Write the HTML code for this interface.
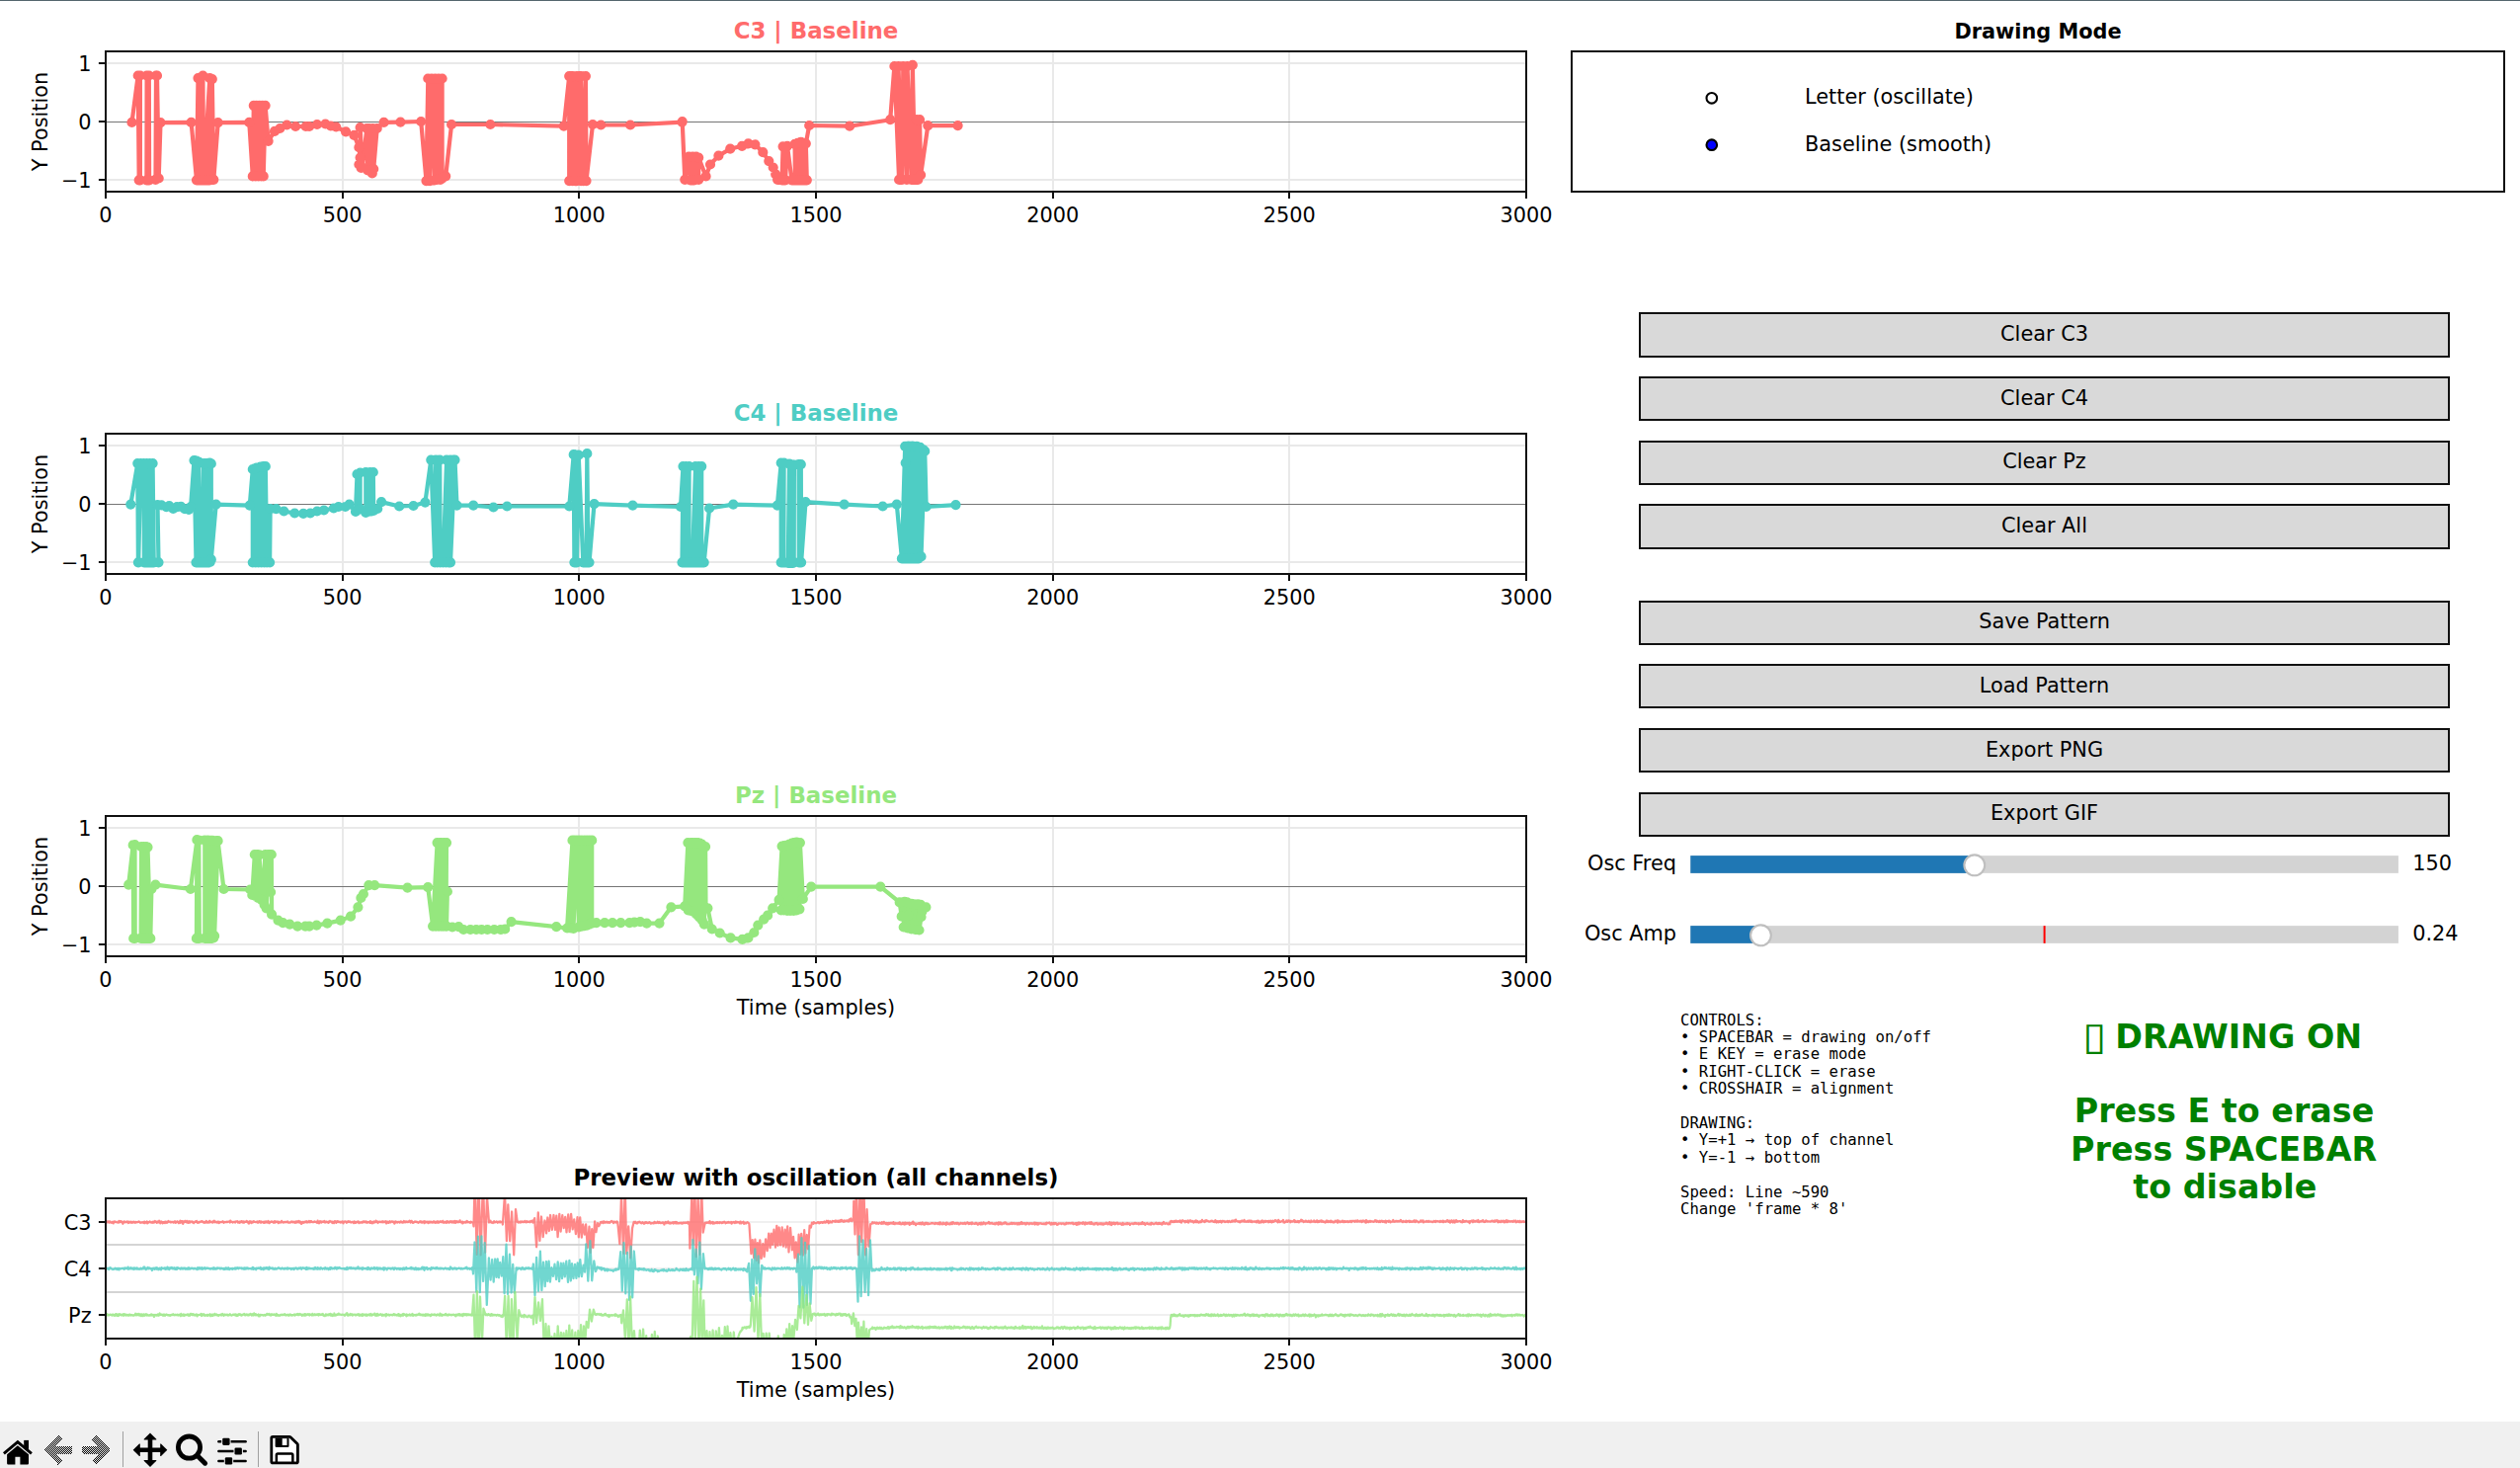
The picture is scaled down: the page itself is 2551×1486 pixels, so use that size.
<!DOCTYPE html>
<html lang="en"><head><meta charset="utf-8"><title>EEG Pattern Drawing Tool</title>
<style>html,body{margin:0;padding:0;background:#fff;overflow:hidden}body{width:2551px;height:1486px;position:relative}</style>
</head><body>
<svg width="2551" height="1486" viewBox="0 0 2551 1486" style="position:absolute;left:0;top:0">
<rect x="0" y="0" width="2551" height="1486" fill="#fff"/>
<rect x="0" y="0" width="2551" height="1" fill="#54666e"/>
<defs>
<clipPath id="cp0"><rect x="107" y="52" width="1438" height="142"/></clipPath>
<clipPath id="cp1"><rect x="107" y="439" width="1438" height="142"/></clipPath>
<clipPath id="cp2"><rect x="107" y="826" width="1438" height="142"/></clipPath>
<clipPath id="cp3"><rect x="107" y="1213" width="1438" height="142"/></clipPath>
</defs>
<line x1="347" y1="52" x2="347" y2="194" stroke="#e9e9e9" stroke-width="2"/>
<line x1="586" y1="52" x2="586" y2="194" stroke="#e9e9e9" stroke-width="2"/>
<line x1="826" y1="52" x2="826" y2="194" stroke="#e9e9e9" stroke-width="2"/>
<line x1="1066" y1="52" x2="1066" y2="194" stroke="#e9e9e9" stroke-width="2"/>
<line x1="1305" y1="52" x2="1305" y2="194" stroke="#e9e9e9" stroke-width="2"/>
<line x1="107" y1="64" x2="1545" y2="64" stroke="#e9e9e9" stroke-width="2"/>
<line x1="107" y1="182" x2="1545" y2="182" stroke="#e9e9e9" stroke-width="2"/>
<line x1="107" y1="123.5" x2="1545" y2="123.5" stroke="#757575" stroke-width="1"/>
<g clip-path="url(#cp0)">
<polyline points="133.5,123.9 139.7,76.5 140.7,182.3 141.9,76.5 141.9,182.3 148.4,182.5 148.6,76.5 150.8,76.5 151.1,182.5 157.5,181.8 158.0,76.5 159.0,76.5 160.7,180.5 162.5,124.1 193.6,123.9 199.0,182.3 200.5,79.1 202.0,182.3 202.9,78.6 203.9,182.3 205.4,76.7 206.1,182.3 212.3,79.1 208.9,182.3 213.3,79.6 212.3,182.3 214.8,80.1 216.3,181.8 220.7,124.1 252.3,123.9 255.8,178.4 256.8,106.8 258.8,178.4 259.7,106.8 261.7,178.4 262.7,106.8 264.7,178.4 265.7,106.8 266.7,178.4 268.6,106.8 271.6,142.8 278.0,132.9 283.4,130.0 290.4,126.5 299.2,128.0 309.6,128.0 313.1,128.0 321.0,126.0 329.4,125.5 334.8,127.5 340.2,128.5 350.1,133.4 358.5,136.9 363.4,149.2 364.6,159.6 363.4,166.5 365.6,170.0 364.6,129.0 366.9,169.5 371.3,130.0 372.3,172.4 373.8,130.0 376.8,175.4 377.3,130.0 378.2,171.0 381.7,130.0 388.6,123.9 405.4,123.6 426.2,123.0 431.5,183.1 433.3,79.5 435.1,183.1 436.9,79.5 439.9,182.5 440.5,79.5 442.3,181.9 444.0,79.5 445.8,181.9 447.6,79.5 447.6,180.7 451.2,178.3 457.1,126.0 496.4,126.0 570.8,127.7 576.2,77.1 576.2,183.1 578.0,77.1 579.8,183.1 579.8,77.1 582.1,183.1 583.9,77.1 583.9,183.1 586.3,77.1 588.1,183.1 588.1,77.1 590.5,183.1 592.9,77.1 593.5,183.1 600.0,126.0 608.3,126.5 638.1,126.5 690.5,123.6 690.7,123.1 693.3,181.8 697.3,158.6 698.8,182.3 701.2,158.6 702.7,182.3 704.7,158.6 707.2,181.8 707.2,159.6 714.6,178.4 719.0,166.5 727.4,157.6 739.2,150.7 751.1,147.8 757.5,145.3 764.4,146.3 772.3,154.2 778.3,163.1 782.7,169.5 785.2,176.4 787.1,181.8 791.6,182.3 792.6,148.3 795.0,182.3 797.0,147.8 801.5,182.3 804.9,182.3 804.6,145.8 807.4,182.3 807.4,144.8 810.3,182.3 810.8,143.8 813.3,182.3 814.8,144.8 816.8,182.3 815.8,145.3 819.2,127.0 860.1,127.7 901.2,121.2 905.4,67.0 910.1,181.9 909.5,67.0 913.1,181.9 914.3,67.0 917.9,181.9 918.5,67.0 922.6,181.9 923.8,65.8 926.2,181.9 928.0,121.2 929.2,181.9 931.0,121.2 932.1,177.1 939.3,127.1 969.6,127.1" fill="none" stroke="#FF6B6B" stroke-width="4.2" stroke-linejoin="round" stroke-linecap="butt"/>
<path d="M133.5,123.9h0 M139.7,76.5h0 M140.7,182.3h0 M141.9,76.5h0 M141.9,182.3h0 M148.4,182.5h0 M148.6,76.5h0 M150.8,76.5h0 M151.1,182.5h0 M157.5,181.8h0 M158.0,76.5h0 M159.0,76.5h0 M160.7,180.5h0 M162.5,124.1h0 M193.6,123.9h0 M199.0,182.3h0 M200.5,79.1h0 M202.0,182.3h0 M202.9,78.6h0 M203.9,182.3h0 M205.4,76.7h0 M206.1,182.3h0 M212.3,79.1h0 M208.9,182.3h0 M213.3,79.6h0 M212.3,182.3h0 M214.8,80.1h0 M216.3,181.8h0 M220.7,124.1h0 M252.3,123.9h0 M255.8,178.4h0 M256.8,106.8h0 M258.8,178.4h0 M259.7,106.8h0 M261.7,178.4h0 M262.7,106.8h0 M264.7,178.4h0 M265.7,106.8h0 M266.7,178.4h0 M268.6,106.8h0 M271.6,142.8h0 M278.0,132.9h0 M283.4,130.0h0 M290.4,126.5h0 M299.2,128.0h0 M309.6,128.0h0 M313.1,128.0h0 M321.0,126.0h0 M329.4,125.5h0 M334.8,127.5h0 M340.2,128.5h0 M350.1,133.4h0 M358.5,136.9h0 M363.4,149.2h0 M364.6,159.6h0 M363.4,166.5h0 M365.6,170.0h0 M364.6,129.0h0 M366.9,169.5h0 M371.3,130.0h0 M372.3,172.4h0 M373.8,130.0h0 M376.8,175.4h0 M377.3,130.0h0 M378.2,171.0h0 M381.7,130.0h0 M388.6,123.9h0 M405.4,123.6h0 M426.2,123.0h0 M431.5,183.1h0 M433.3,79.5h0 M435.1,183.1h0 M436.9,79.5h0 M439.9,182.5h0 M440.5,79.5h0 M442.3,181.9h0 M444.0,79.5h0 M445.8,181.9h0 M447.6,79.5h0 M447.6,180.7h0 M451.2,178.3h0 M457.1,126.0h0 M496.4,126.0h0 M570.8,127.7h0 M576.2,77.1h0 M576.2,183.1h0 M578.0,77.1h0 M579.8,183.1h0 M579.8,77.1h0 M582.1,183.1h0 M583.9,77.1h0 M583.9,183.1h0 M586.3,77.1h0 M588.1,183.1h0 M588.1,77.1h0 M590.5,183.1h0 M592.9,77.1h0 M593.5,183.1h0 M600.0,126.0h0 M608.3,126.5h0 M638.1,126.5h0 M690.5,123.6h0 M690.7,123.1h0 M693.3,181.8h0 M697.3,158.6h0 M698.8,182.3h0 M701.2,158.6h0 M702.7,182.3h0 M704.7,158.6h0 M707.2,181.8h0 M707.2,159.6h0 M714.6,178.4h0 M719.0,166.5h0 M727.4,157.6h0 M739.2,150.7h0 M751.1,147.8h0 M757.5,145.3h0 M764.4,146.3h0 M772.3,154.2h0 M778.3,163.1h0 M782.7,169.5h0 M785.2,176.4h0 M787.1,181.8h0 M791.6,182.3h0 M792.6,148.3h0 M795.0,182.3h0 M797.0,147.8h0 M801.5,182.3h0 M804.9,182.3h0 M804.6,145.8h0 M807.4,182.3h0 M807.4,144.8h0 M810.3,182.3h0 M810.8,143.8h0 M813.3,182.3h0 M814.8,144.8h0 M816.8,182.3h0 M815.8,145.3h0 M819.2,127.0h0 M860.1,127.7h0 M901.2,121.2h0 M905.4,67.0h0 M910.1,181.9h0 M909.5,67.0h0 M913.1,181.9h0 M914.3,67.0h0 M917.9,181.9h0 M918.5,67.0h0 M922.6,181.9h0 M923.8,65.8h0 M926.2,181.9h0 M928.0,121.2h0 M929.2,181.9h0 M931.0,121.2h0 M932.1,177.1h0 M939.3,127.1h0 M969.6,127.1h0" stroke="#FF6B6B" stroke-width="10.2" stroke-linecap="round" fill="none"/>
</g>
<rect x="107" y="52" width="1438" height="142" fill="none" stroke="#111" stroke-width="2"/>
<line x1="107" y1="194" x2="107" y2="201.1" stroke="#111" stroke-width="2"/>
<text x="107.00" y="224.80" font-family="'DejaVu Sans', 'Liberation Sans', sans-serif" font-size="20.83" text-anchor="middle" font-weight="normal" fill="#000">0</text>
<line x1="347" y1="194" x2="347" y2="201.1" stroke="#111" stroke-width="2"/>
<text x="346.67" y="224.80" font-family="'DejaVu Sans', 'Liberation Sans', sans-serif" font-size="20.83" text-anchor="middle" font-weight="normal" fill="#000">500</text>
<line x1="586" y1="194" x2="586" y2="201.1" stroke="#111" stroke-width="2"/>
<text x="586.33" y="224.80" font-family="'DejaVu Sans', 'Liberation Sans', sans-serif" font-size="20.83" text-anchor="middle" font-weight="normal" fill="#000">1000</text>
<line x1="826" y1="194" x2="826" y2="201.1" stroke="#111" stroke-width="2"/>
<text x="826.00" y="224.80" font-family="'DejaVu Sans', 'Liberation Sans', sans-serif" font-size="20.83" text-anchor="middle" font-weight="normal" fill="#000">1500</text>
<line x1="1066" y1="194" x2="1066" y2="201.1" stroke="#111" stroke-width="2"/>
<text x="1065.67" y="224.80" font-family="'DejaVu Sans', 'Liberation Sans', sans-serif" font-size="20.83" text-anchor="middle" font-weight="normal" fill="#000">2000</text>
<line x1="1305" y1="194" x2="1305" y2="201.1" stroke="#111" stroke-width="2"/>
<text x="1305.33" y="224.80" font-family="'DejaVu Sans', 'Liberation Sans', sans-serif" font-size="20.83" text-anchor="middle" font-weight="normal" fill="#000">2500</text>
<line x1="1545" y1="194" x2="1545" y2="201.1" stroke="#111" stroke-width="2"/>
<text x="1545.00" y="224.80" font-family="'DejaVu Sans', 'Liberation Sans', sans-serif" font-size="20.83" text-anchor="middle" font-weight="normal" fill="#000">3000</text>
<line x1="99.9" y1="64" x2="107" y2="64" stroke="#111" stroke-width="2"/>
<text x="92.60" y="71.80" font-family="'DejaVu Sans', 'Liberation Sans', sans-serif" font-size="20.83" text-anchor="end" font-weight="normal" fill="#000">1</text>
<line x1="99.9" y1="123" x2="107" y2="123" stroke="#111" stroke-width="2"/>
<text x="92.60" y="130.80" font-family="'DejaVu Sans', 'Liberation Sans', sans-serif" font-size="20.83" text-anchor="end" font-weight="normal" fill="#000">0</text>
<line x1="99.9" y1="182" x2="107" y2="182" stroke="#111" stroke-width="2"/>
<text x="92.60" y="189.80" font-family="'DejaVu Sans', 'Liberation Sans', sans-serif" font-size="20.83" text-anchor="end" font-weight="normal" fill="#000">−1</text>
<text transform="translate(47.8,123.0) rotate(-90)" font-family="'DejaVu Sans', 'Liberation Sans', sans-serif" font-size="20.83" text-anchor="middle" fill="#000">Y Position</text>
<text x="826.00" y="38.90" font-family="'DejaVu Sans', 'Liberation Sans', sans-serif" font-size="22.92" text-anchor="middle" font-weight="bold" fill="#FF6B6B">C3 | Baseline</text>
<line x1="347" y1="439" x2="347" y2="581" stroke="#e9e9e9" stroke-width="2"/>
<line x1="586" y1="439" x2="586" y2="581" stroke="#e9e9e9" stroke-width="2"/>
<line x1="826" y1="439" x2="826" y2="581" stroke="#e9e9e9" stroke-width="2"/>
<line x1="1066" y1="439" x2="1066" y2="581" stroke="#e9e9e9" stroke-width="2"/>
<line x1="1305" y1="439" x2="1305" y2="581" stroke="#e9e9e9" stroke-width="2"/>
<line x1="107" y1="451" x2="1545" y2="451" stroke="#e9e9e9" stroke-width="2"/>
<line x1="107" y1="569" x2="1545" y2="569" stroke="#e9e9e9" stroke-width="2"/>
<line x1="107" y1="510.5" x2="1545" y2="510.5" stroke="#757575" stroke-width="1"/>
<g clip-path="url(#cp1)">
<polyline points="132.3,510.6 139.3,469.1 139.9,569.3 142.5,469.1 140.2,569.3 145.9,569.3 145.5,469.1 148.1,569.3 148.6,469.1 151.1,569.3 151.6,469.1 154.1,569.3 154.6,469.1 155.7,569.3 160.5,569.3 159.5,511.1 163.4,511.3 168.4,513.2 171.3,512.2 175.3,515.0 179.2,513.2 183.2,512.8 187.1,515.2 191.1,516.0 193.1,513.0 196.5,466.1 198.5,569.3 199.0,466.6 200.5,569.3 201.2,467.6 203.4,569.3 205.5,569.3 206.1,469.1 207.4,569.3 208.4,469.1 209.9,569.3 210.4,468.8 211.8,569.3 212.3,468.6 212.8,568.8 213.8,469.4 213.8,566.4 218.7,510.6 252.8,511.6 255.8,475.0 255.8,569.3 257.8,474.3 258.8,569.3 259.7,473.5 261.7,569.3 263.7,472.5 264.7,569.3 266.7,472.2 267.6,569.3 268.8,472.2 270.1,569.3 273.1,569.3 273.6,515.0 279.5,515.2 287.4,517.5 298.3,519.5 307.1,519.9 314.1,519.5 321.0,517.5 327.9,516.5 337.8,514.5 342.7,513.0 349.6,513.0 353.6,510.6 360.0,518.0 361.5,480.0 362.9,516.0 364.6,478.5 364.6,515.0 370.3,519.0 370.3,478.0 372.8,518.0 374.8,478.0 376.3,517.5 377.8,478.0 378.2,517.0 382.2,515.0 386.1,508.1 404.2,512.5 418.5,512.0 430.4,508.6 436.3,465.6 440.2,569.3 441.2,465.6 442.7,569.3 445.2,465.6 445.7,569.3 448.6,569.3 452.1,465.6 451.6,569.3 456.0,465.6 454.1,569.3 459.0,465.6 456.0,569.3 460.5,465.6 462.5,511.6 479.2,511.6 499.5,513.5 513.3,512.5 576.3,512.5 580.7,460.2 581.4,569.3 583.2,460.7 584.0,569.3 585.7,460.7 590.3,569.3 593.6,569.3 594.3,459.2 595.5,569.3 596.5,569.3 601.5,510.1 640.5,511.6 689.0,513.0 691.5,472.1 690.5,569.3 694.4,472.1 693.9,569.3 697.6,472.1 697.4,569.3 700.9,569.3 704.1,472.1 703.8,569.3 707.3,472.1 707.3,569.3 710.2,472.1 710.2,569.3 712.7,569.3 718.1,514.5 742.3,510.6 786.9,511.6 790.7,468.6 790.7,569.3 793.6,468.6 793.3,569.3 797.8,569.8 799.0,469.6 800.7,569.8 802.5,470.6 802.9,569.8 803.9,470.6 803.7,569.3 808.8,569.3 808.6,470.1 810.8,470.1 811.1,569.3 815.5,508.1 854.6,510.6 893.6,512.5 907.8,510.6 912.9,565.4 916.2,451.8 915.9,565.4 916.7,468.6 918.6,565.4 919.6,451.6 921.6,565.4 923.6,451.6 924.6,565.4 928.0,451.8 927.5,565.4 931.5,452.8 930.0,565.4 934.9,455.3 932.5,563.4 936.2,456.7 937.6,513.0 967.5,511.1" fill="none" stroke="#4ECDC4" stroke-width="4.2" stroke-linejoin="round" stroke-linecap="butt"/>
<path d="M132.3,510.6h0 M139.3,469.1h0 M139.9,569.3h0 M142.5,469.1h0 M140.2,569.3h0 M145.9,569.3h0 M145.5,469.1h0 M148.1,569.3h0 M148.6,469.1h0 M151.1,569.3h0 M151.6,469.1h0 M154.1,569.3h0 M154.6,469.1h0 M155.7,569.3h0 M160.5,569.3h0 M159.5,511.1h0 M163.4,511.3h0 M168.4,513.2h0 M171.3,512.2h0 M175.3,515.0h0 M179.2,513.2h0 M183.2,512.8h0 M187.1,515.2h0 M191.1,516.0h0 M193.1,513.0h0 M196.5,466.1h0 M198.5,569.3h0 M199.0,466.6h0 M200.5,569.3h0 M201.2,467.6h0 M203.4,569.3h0 M205.5,569.3h0 M206.1,469.1h0 M207.4,569.3h0 M208.4,469.1h0 M209.9,569.3h0 M210.4,468.8h0 M211.8,569.3h0 M212.3,468.6h0 M212.8,568.8h0 M213.8,469.4h0 M213.8,566.4h0 M218.7,510.6h0 M252.8,511.6h0 M255.8,475.0h0 M255.8,569.3h0 M257.8,474.3h0 M258.8,569.3h0 M259.7,473.5h0 M261.7,569.3h0 M263.7,472.5h0 M264.7,569.3h0 M266.7,472.2h0 M267.6,569.3h0 M268.8,472.2h0 M270.1,569.3h0 M273.1,569.3h0 M273.6,515.0h0 M279.5,515.2h0 M287.4,517.5h0 M298.3,519.5h0 M307.1,519.9h0 M314.1,519.5h0 M321.0,517.5h0 M327.9,516.5h0 M337.8,514.5h0 M342.7,513.0h0 M349.6,513.0h0 M353.6,510.6h0 M360.0,518.0h0 M361.5,480.0h0 M362.9,516.0h0 M364.6,478.5h0 M364.6,515.0h0 M370.3,519.0h0 M370.3,478.0h0 M372.8,518.0h0 M374.8,478.0h0 M376.3,517.5h0 M377.8,478.0h0 M378.2,517.0h0 M382.2,515.0h0 M386.1,508.1h0 M404.2,512.5h0 M418.5,512.0h0 M430.4,508.6h0 M436.3,465.6h0 M440.2,569.3h0 M441.2,465.6h0 M442.7,569.3h0 M445.2,465.6h0 M445.7,569.3h0 M448.6,569.3h0 M452.1,465.6h0 M451.6,569.3h0 M456.0,465.6h0 M454.1,569.3h0 M459.0,465.6h0 M456.0,569.3h0 M460.5,465.6h0 M462.5,511.6h0 M479.2,511.6h0 M499.5,513.5h0 M513.3,512.5h0 M576.3,512.5h0 M580.7,460.2h0 M581.4,569.3h0 M583.2,460.7h0 M584.0,569.3h0 M585.7,460.7h0 M590.3,569.3h0 M593.6,569.3h0 M594.3,459.2h0 M595.5,569.3h0 M596.5,569.3h0 M601.5,510.1h0 M640.5,511.6h0 M689.0,513.0h0 M691.5,472.1h0 M690.5,569.3h0 M694.4,472.1h0 M693.9,569.3h0 M697.6,472.1h0 M697.4,569.3h0 M700.9,569.3h0 M704.1,472.1h0 M703.8,569.3h0 M707.3,472.1h0 M707.3,569.3h0 M710.2,472.1h0 M710.2,569.3h0 M712.7,569.3h0 M718.1,514.5h0 M742.3,510.6h0 M786.9,511.6h0 M790.7,468.6h0 M790.7,569.3h0 M793.6,468.6h0 M793.3,569.3h0 M797.8,569.8h0 M799.0,469.6h0 M800.7,569.8h0 M802.5,470.6h0 M802.9,569.8h0 M803.9,470.6h0 M803.7,569.3h0 M808.8,569.3h0 M808.6,470.1h0 M810.8,470.1h0 M811.1,569.3h0 M815.5,508.1h0 M854.6,510.6h0 M893.6,512.5h0 M907.8,510.6h0 M912.9,565.4h0 M916.2,451.8h0 M915.9,565.4h0 M916.7,468.6h0 M918.6,565.4h0 M919.6,451.6h0 M921.6,565.4h0 M923.6,451.6h0 M924.6,565.4h0 M928.0,451.8h0 M927.5,565.4h0 M931.5,452.8h0 M930.0,565.4h0 M934.9,455.3h0 M932.5,563.4h0 M936.2,456.7h0 M937.6,513.0h0 M967.5,511.1h0" stroke="#4ECDC4" stroke-width="10.2" stroke-linecap="round" fill="none"/>
</g>
<rect x="107" y="439" width="1438" height="142" fill="none" stroke="#111" stroke-width="2"/>
<line x1="107" y1="581" x2="107" y2="588.1" stroke="#111" stroke-width="2"/>
<text x="107.00" y="611.80" font-family="'DejaVu Sans', 'Liberation Sans', sans-serif" font-size="20.83" text-anchor="middle" font-weight="normal" fill="#000">0</text>
<line x1="347" y1="581" x2="347" y2="588.1" stroke="#111" stroke-width="2"/>
<text x="346.67" y="611.80" font-family="'DejaVu Sans', 'Liberation Sans', sans-serif" font-size="20.83" text-anchor="middle" font-weight="normal" fill="#000">500</text>
<line x1="586" y1="581" x2="586" y2="588.1" stroke="#111" stroke-width="2"/>
<text x="586.33" y="611.80" font-family="'DejaVu Sans', 'Liberation Sans', sans-serif" font-size="20.83" text-anchor="middle" font-weight="normal" fill="#000">1000</text>
<line x1="826" y1="581" x2="826" y2="588.1" stroke="#111" stroke-width="2"/>
<text x="826.00" y="611.80" font-family="'DejaVu Sans', 'Liberation Sans', sans-serif" font-size="20.83" text-anchor="middle" font-weight="normal" fill="#000">1500</text>
<line x1="1066" y1="581" x2="1066" y2="588.1" stroke="#111" stroke-width="2"/>
<text x="1065.67" y="611.80" font-family="'DejaVu Sans', 'Liberation Sans', sans-serif" font-size="20.83" text-anchor="middle" font-weight="normal" fill="#000">2000</text>
<line x1="1305" y1="581" x2="1305" y2="588.1" stroke="#111" stroke-width="2"/>
<text x="1305.33" y="611.80" font-family="'DejaVu Sans', 'Liberation Sans', sans-serif" font-size="20.83" text-anchor="middle" font-weight="normal" fill="#000">2500</text>
<line x1="1545" y1="581" x2="1545" y2="588.1" stroke="#111" stroke-width="2"/>
<text x="1545.00" y="611.80" font-family="'DejaVu Sans', 'Liberation Sans', sans-serif" font-size="20.83" text-anchor="middle" font-weight="normal" fill="#000">3000</text>
<line x1="99.9" y1="451" x2="107" y2="451" stroke="#111" stroke-width="2"/>
<text x="92.60" y="458.80" font-family="'DejaVu Sans', 'Liberation Sans', sans-serif" font-size="20.83" text-anchor="end" font-weight="normal" fill="#000">1</text>
<line x1="99.9" y1="510" x2="107" y2="510" stroke="#111" stroke-width="2"/>
<text x="92.60" y="517.80" font-family="'DejaVu Sans', 'Liberation Sans', sans-serif" font-size="20.83" text-anchor="end" font-weight="normal" fill="#000">0</text>
<line x1="99.9" y1="569" x2="107" y2="569" stroke="#111" stroke-width="2"/>
<text x="92.60" y="576.80" font-family="'DejaVu Sans', 'Liberation Sans', sans-serif" font-size="20.83" text-anchor="end" font-weight="normal" fill="#000">−1</text>
<text transform="translate(47.8,510.0) rotate(-90)" font-family="'DejaVu Sans', 'Liberation Sans', sans-serif" font-size="20.83" text-anchor="middle" fill="#000">Y Position</text>
<text x="826.00" y="425.90" font-family="'DejaVu Sans', 'Liberation Sans', sans-serif" font-size="22.92" text-anchor="middle" font-weight="bold" fill="#4ECDC4">C4 | Baseline</text>
<line x1="347" y1="826" x2="347" y2="968" stroke="#e9e9e9" stroke-width="2"/>
<line x1="586" y1="826" x2="586" y2="968" stroke="#e9e9e9" stroke-width="2"/>
<line x1="826" y1="826" x2="826" y2="968" stroke="#e9e9e9" stroke-width="2"/>
<line x1="1066" y1="826" x2="1066" y2="968" stroke="#e9e9e9" stroke-width="2"/>
<line x1="1305" y1="826" x2="1305" y2="968" stroke="#e9e9e9" stroke-width="2"/>
<line x1="107" y1="838" x2="1545" y2="838" stroke="#e9e9e9" stroke-width="2"/>
<line x1="107" y1="956" x2="1545" y2="956" stroke="#e9e9e9" stroke-width="2"/>
<line x1="107" y1="897.5" x2="1545" y2="897.5" stroke="#757575" stroke-width="1"/>
<g clip-path="url(#cp2)">
<polyline points="130.2,895.6 134.7,855.4 135.2,949.9 136.5,855.1 136.7,949.9 142.6,949.9 143.1,857.1 144.6,949.9 145.5,857.1 147.0,949.9 148.0,857.1 149.5,949.9 149.5,857.6 152.3,949.9 153.4,900.0 157.4,895.6 192.9,900.0 199.4,850.2 198.9,949.9 201.3,850.5 201.8,949.9 207.3,949.9 207.3,850.7 209.7,949.9 210.2,850.7 212.7,949.9 213.2,850.9 214.7,949.9 215.2,850.9 216.2,949.4 219.1,851.2 217.1,947.4 220.6,851.2 226.5,900.0 253.3,900.5 255.3,906.0 257.8,865.0 258.3,906.9 260.2,865.0 261.2,908.9 262.5,865.3 264.7,910.9 268.6,865.0 267.6,915.8 271.1,865.0 269.6,919.3 273.1,865.0 274.1,903.0 274.8,865.0 275.1,925.7 281.5,931.6 286.4,934.1 293.3,935.6 301.2,937.6 309.1,937.6 313.1,937.6 320.5,936.6 331.3,934.6 344.7,931.6 355.0,927.7 362.4,918.3 365.4,908.9 367.9,905.0 373.3,896.1 379.2,896.1 412.5,898.6 433.2,898.1 438.1,937.6 442.6,853.1 441.1,937.6 445.0,853.1 444.1,937.6 447.0,853.1 447.0,937.6 449.5,853.1 449.0,937.6 452.0,853.1 451.5,937.6 452.9,902.5 452.0,937.6 457.9,938.5 464.3,938.1 469.2,941.0 476.2,941.0 482.1,941.0 487.5,941.0 493.4,941.0 500.3,941.0 506.8,941.0 511.2,940.5 517.6,933.1 563.2,938.1 574.1,939.5 579.5,850.7 578.0,939.5 581.5,850.7 580.5,940.0 583.9,850.7 585.9,938.5 586.4,850.7 588.9,937.6 588.9,850.7 591.8,937.1 591.8,850.7 594.3,936.6 594.3,850.7 596.8,935.6 596.8,850.7 599.2,934.6 599.2,850.7 599.2,934.1 603.7,934.1 612.1,934.1 620.0,934.1 628.4,934.1 637.3,934.1 642.2,933.6 648.1,933.1 654.7,934.6 667.5,934.6 679.4,918.3 693.2,917.3 696.4,853.1 696.7,921.3 699.1,853.1 699.1,922.0 701.3,853.1 701.5,922.7 703.7,853.1 704.1,924.7 706.0,853.1 706.4,926.7 708.5,853.6 708.2,928.7 710.5,854.6 710.8,931.6 712.5,856.6 712.9,935.6 714.1,857.1 714.5,918.8 716.4,919.3 720.8,940.5 728.7,944.5 739.6,949.4 751.5,950.9 757.4,949.4 763.3,944.0 767.3,936.6 773.2,930.6 777.1,926.7 782.2,919.3 788.6,910.9 791.6,856.6 790.8,921.3 794.1,856.1 793.6,921.3 796.5,855.6 797.0,921.8 799.0,854.6 800.0,921.8 801.5,853.6 803.4,921.8 803.9,853.1 806.4,921.3 806.4,852.6 809.4,920.3 809.9,853.1 812.8,909.9 821.2,897.6 891.3,897.6 910.7,913.4 912.7,927.7 915.7,912.9 914.7,938.5 918.1,913.4 918.6,939.5 919.6,926.7 922.6,914.8 922.6,940.5 925.5,915.3 926.5,941.0 929.0,915.3 930.5,941.5 932.5,928.2 932.0,915.8 933.4,922.7 937.4,918.3" fill="none" stroke="#95E77E" stroke-width="4.2" stroke-linejoin="round" stroke-linecap="butt"/>
<path d="M130.2,895.6h0 M134.7,855.4h0 M135.2,949.9h0 M136.5,855.1h0 M136.7,949.9h0 M142.6,949.9h0 M143.1,857.1h0 M144.6,949.9h0 M145.5,857.1h0 M147.0,949.9h0 M148.0,857.1h0 M149.5,949.9h0 M149.5,857.6h0 M152.3,949.9h0 M153.4,900.0h0 M157.4,895.6h0 M192.9,900.0h0 M199.4,850.2h0 M198.9,949.9h0 M201.3,850.5h0 M201.8,949.9h0 M207.3,949.9h0 M207.3,850.7h0 M209.7,949.9h0 M210.2,850.7h0 M212.7,949.9h0 M213.2,850.9h0 M214.7,949.9h0 M215.2,850.9h0 M216.2,949.4h0 M219.1,851.2h0 M217.1,947.4h0 M220.6,851.2h0 M226.5,900.0h0 M253.3,900.5h0 M255.3,906.0h0 M257.8,865.0h0 M258.3,906.9h0 M260.2,865.0h0 M261.2,908.9h0 M262.5,865.3h0 M264.7,910.9h0 M268.6,865.0h0 M267.6,915.8h0 M271.1,865.0h0 M269.6,919.3h0 M273.1,865.0h0 M274.1,903.0h0 M274.8,865.0h0 M275.1,925.7h0 M281.5,931.6h0 M286.4,934.1h0 M293.3,935.6h0 M301.2,937.6h0 M309.1,937.6h0 M313.1,937.6h0 M320.5,936.6h0 M331.3,934.6h0 M344.7,931.6h0 M355.0,927.7h0 M362.4,918.3h0 M365.4,908.9h0 M367.9,905.0h0 M373.3,896.1h0 M379.2,896.1h0 M412.5,898.6h0 M433.2,898.1h0 M438.1,937.6h0 M442.6,853.1h0 M441.1,937.6h0 M445.0,853.1h0 M444.1,937.6h0 M447.0,853.1h0 M447.0,937.6h0 M449.5,853.1h0 M449.0,937.6h0 M452.0,853.1h0 M451.5,937.6h0 M452.9,902.5h0 M452.0,937.6h0 M457.9,938.5h0 M464.3,938.1h0 M469.2,941.0h0 M476.2,941.0h0 M482.1,941.0h0 M487.5,941.0h0 M493.4,941.0h0 M500.3,941.0h0 M506.8,941.0h0 M511.2,940.5h0 M517.6,933.1h0 M563.2,938.1h0 M574.1,939.5h0 M579.5,850.7h0 M578.0,939.5h0 M581.5,850.7h0 M580.5,940.0h0 M583.9,850.7h0 M585.9,938.5h0 M586.4,850.7h0 M588.9,937.6h0 M588.9,850.7h0 M591.8,937.1h0 M591.8,850.7h0 M594.3,936.6h0 M594.3,850.7h0 M596.8,935.6h0 M596.8,850.7h0 M599.2,934.6h0 M599.2,850.7h0 M599.2,934.1h0 M603.7,934.1h0 M612.1,934.1h0 M620.0,934.1h0 M628.4,934.1h0 M637.3,934.1h0 M642.2,933.6h0 M648.1,933.1h0 M654.7,934.6h0 M667.5,934.6h0 M679.4,918.3h0 M693.2,917.3h0 M696.4,853.1h0 M696.7,921.3h0 M699.1,853.1h0 M699.1,922.0h0 M701.3,853.1h0 M701.5,922.7h0 M703.7,853.1h0 M704.1,924.7h0 M706.0,853.1h0 M706.4,926.7h0 M708.5,853.6h0 M708.2,928.7h0 M710.5,854.6h0 M710.8,931.6h0 M712.5,856.6h0 M712.9,935.6h0 M714.1,857.1h0 M714.5,918.8h0 M716.4,919.3h0 M720.8,940.5h0 M728.7,944.5h0 M739.6,949.4h0 M751.5,950.9h0 M757.4,949.4h0 M763.3,944.0h0 M767.3,936.6h0 M773.2,930.6h0 M777.1,926.7h0 M782.2,919.3h0 M788.6,910.9h0 M791.6,856.6h0 M790.8,921.3h0 M794.1,856.1h0 M793.6,921.3h0 M796.5,855.6h0 M797.0,921.8h0 M799.0,854.6h0 M800.0,921.8h0 M801.5,853.6h0 M803.4,921.8h0 M803.9,853.1h0 M806.4,921.3h0 M806.4,852.6h0 M809.4,920.3h0 M809.9,853.1h0 M812.8,909.9h0 M821.2,897.6h0 M891.3,897.6h0 M910.7,913.4h0 M912.7,927.7h0 M915.7,912.9h0 M914.7,938.5h0 M918.1,913.4h0 M918.6,939.5h0 M919.6,926.7h0 M922.6,914.8h0 M922.6,940.5h0 M925.5,915.3h0 M926.5,941.0h0 M929.0,915.3h0 M930.5,941.5h0 M932.5,928.2h0 M932.0,915.8h0 M933.4,922.7h0 M937.4,918.3h0" stroke="#95E77E" stroke-width="10.2" stroke-linecap="round" fill="none"/>
</g>
<rect x="107" y="826" width="1438" height="142" fill="none" stroke="#111" stroke-width="2"/>
<line x1="107" y1="968" x2="107" y2="975.1" stroke="#111" stroke-width="2"/>
<text x="107.00" y="998.80" font-family="'DejaVu Sans', 'Liberation Sans', sans-serif" font-size="20.83" text-anchor="middle" font-weight="normal" fill="#000">0</text>
<line x1="347" y1="968" x2="347" y2="975.1" stroke="#111" stroke-width="2"/>
<text x="346.67" y="998.80" font-family="'DejaVu Sans', 'Liberation Sans', sans-serif" font-size="20.83" text-anchor="middle" font-weight="normal" fill="#000">500</text>
<line x1="586" y1="968" x2="586" y2="975.1" stroke="#111" stroke-width="2"/>
<text x="586.33" y="998.80" font-family="'DejaVu Sans', 'Liberation Sans', sans-serif" font-size="20.83" text-anchor="middle" font-weight="normal" fill="#000">1000</text>
<line x1="826" y1="968" x2="826" y2="975.1" stroke="#111" stroke-width="2"/>
<text x="826.00" y="998.80" font-family="'DejaVu Sans', 'Liberation Sans', sans-serif" font-size="20.83" text-anchor="middle" font-weight="normal" fill="#000">1500</text>
<line x1="1066" y1="968" x2="1066" y2="975.1" stroke="#111" stroke-width="2"/>
<text x="1065.67" y="998.80" font-family="'DejaVu Sans', 'Liberation Sans', sans-serif" font-size="20.83" text-anchor="middle" font-weight="normal" fill="#000">2000</text>
<line x1="1305" y1="968" x2="1305" y2="975.1" stroke="#111" stroke-width="2"/>
<text x="1305.33" y="998.80" font-family="'DejaVu Sans', 'Liberation Sans', sans-serif" font-size="20.83" text-anchor="middle" font-weight="normal" fill="#000">2500</text>
<line x1="1545" y1="968" x2="1545" y2="975.1" stroke="#111" stroke-width="2"/>
<text x="1545.00" y="998.80" font-family="'DejaVu Sans', 'Liberation Sans', sans-serif" font-size="20.83" text-anchor="middle" font-weight="normal" fill="#000">3000</text>
<line x1="99.9" y1="838" x2="107" y2="838" stroke="#111" stroke-width="2"/>
<text x="92.60" y="845.80" font-family="'DejaVu Sans', 'Liberation Sans', sans-serif" font-size="20.83" text-anchor="end" font-weight="normal" fill="#000">1</text>
<line x1="99.9" y1="897" x2="107" y2="897" stroke="#111" stroke-width="2"/>
<text x="92.60" y="904.80" font-family="'DejaVu Sans', 'Liberation Sans', sans-serif" font-size="20.83" text-anchor="end" font-weight="normal" fill="#000">0</text>
<line x1="99.9" y1="956" x2="107" y2="956" stroke="#111" stroke-width="2"/>
<text x="92.60" y="963.80" font-family="'DejaVu Sans', 'Liberation Sans', sans-serif" font-size="20.83" text-anchor="end" font-weight="normal" fill="#000">−1</text>
<text transform="translate(47.8,897.0) rotate(-90)" font-family="'DejaVu Sans', 'Liberation Sans', sans-serif" font-size="20.83" text-anchor="middle" fill="#000">Y Position</text>
<text x="826.00" y="812.90" font-family="'DejaVu Sans', 'Liberation Sans', sans-serif" font-size="22.92" text-anchor="middle" font-weight="bold" fill="#95E77E">Pz | Baseline</text>
<text x="826.00" y="1026.75" font-family="'DejaVu Sans', 'Liberation Sans', sans-serif" font-size="20.83" text-anchor="middle" font-weight="normal" fill="#000">Time (samples)</text>
<line x1="347" y1="1213" x2="347" y2="1355" stroke="#f0f0f0" stroke-width="2"/>
<line x1="586" y1="1213" x2="586" y2="1355" stroke="#f0f0f0" stroke-width="2"/>
<line x1="826" y1="1213" x2="826" y2="1355" stroke="#f0f0f0" stroke-width="2"/>
<line x1="1066" y1="1213" x2="1066" y2="1355" stroke="#f0f0f0" stroke-width="2"/>
<line x1="1305" y1="1213" x2="1305" y2="1355" stroke="#f0f0f0" stroke-width="2"/>
<line x1="107" y1="1237" x2="1545" y2="1237" stroke="#f0f0f0" stroke-width="2"/>
<line x1="107" y1="1284" x2="1545" y2="1284" stroke="#f0f0f0" stroke-width="2"/>
<line x1="107" y1="1331" x2="1545" y2="1331" stroke="#f0f0f0" stroke-width="2"/>
<line x1="107" y1="1260" x2="1545" y2="1260" stroke="#d4d4d4" stroke-width="2"/>
<line x1="107" y1="1308" x2="1545" y2="1308" stroke="#d4d4d4" stroke-width="2"/>
<g clip-path="url(#cp3)">
<path d="M107.0,1236.3 L107.5,1237.2 L108.0,1237.5 L108.4,1236.7 L108.9,1236.3 L109.4,1237.0 L109.9,1237.3 L110.4,1237.6 L110.8,1236.3 L111.3,1236.3 L111.8,1237.4 L112.3,1237.3 L112.8,1237.8 L113.2,1237.5 L113.7,1236.9 L114.2,1236.8 L114.7,1238.4 L115.2,1236.8 L115.6,1236.6 L116.1,1236.4 L116.6,1237.1 L117.1,1237.1 L117.6,1236.8 L118.0,1237.0 L118.5,1237.2 L119.0,1237.4 L119.5,1237.6 L120.0,1237.1 L120.4,1236.0 L120.9,1237.4 L121.4,1236.2 L121.9,1236.9 L122.4,1236.2 L122.8,1237.0 L123.3,1236.6 L123.8,1237.1 L124.3,1238.8 L124.8,1237.0 L125.2,1237.5 L125.7,1236.3 L126.2,1236.8 L126.7,1237.4 L127.2,1237.0 L127.6,1237.2 L128.1,1237.1 L128.6,1236.4 L129.1,1237.3 L129.6,1236.6 L130.0,1238.0 L130.5,1236.7 L131.0,1237.4 L131.5,1237.0 L132.0,1237.5 L132.4,1236.7 L132.9,1237.6 L133.4,1236.9 L133.9,1237.7 L134.4,1237.3 L134.8,1237.1 L135.3,1236.6 L135.8,1237.4 L136.3,1237.3 L136.8,1237.9 L137.2,1236.8 L137.7,1237.3 L138.2,1237.3 L138.7,1237.2 L139.2,1237.1 L139.6,1237.1 L140.1,1236.7 L140.6,1236.4 L141.1,1236.8 L141.6,1237.3 L142.0,1237.8 L142.5,1237.5 L143.0,1237.6 L143.5,1237.4 L144.0,1237.4 L144.4,1237.1 L144.9,1237.4 L145.4,1238.0 L145.9,1236.8 L146.4,1236.6 L146.8,1238.1 L147.3,1237.1 L147.8,1237.5 L148.3,1237.5 L148.8,1236.4 L149.2,1238.3 L149.7,1238.0 L150.2,1237.1 L150.7,1237.4 L151.2,1237.1 L151.6,1236.5 L152.1,1236.9 L152.6,1237.2 L153.1,1237.6 L153.6,1237.4 L154.0,1237.0 L154.5,1237.7 L155.0,1236.6 L155.5,1237.4 L156.0,1237.6 L156.4,1236.8 L156.9,1236.0 L157.4,1236.5 L157.9,1237.1 L158.4,1237.3 L158.8,1237.9 L159.3,1236.5 L159.8,1237.0 L160.3,1237.4 L160.8,1236.9 L161.2,1235.7 L161.7,1237.4 L162.2,1238.3 L162.7,1237.6 L163.2,1236.5 L163.6,1236.8 L164.1,1237.1 L164.6,1238.4 L165.1,1237.3 L165.6,1237.1 L166.0,1237.9 L166.5,1237.0 L167.0,1238.0 L167.5,1236.6 L168.0,1236.7 L168.4,1237.4 L168.9,1237.8 L169.4,1237.4 L169.9,1237.2 L170.4,1236.0 L170.8,1236.6 L171.3,1236.7 L171.8,1236.7 L172.3,1237.3 L172.8,1236.8 L173.2,1237.4 L173.7,1237.0 L174.2,1236.8 L174.7,1237.1 L175.2,1237.2 L175.6,1237.5 L176.1,1236.7 L176.6,1236.9 L177.1,1236.3 L177.6,1237.9 L178.0,1237.8 L178.5,1236.9 L179.0,1236.7 L179.5,1236.3 L180.0,1237.1 L180.4,1237.1 L180.9,1238.2 L181.4,1237.1 L181.9,1236.6 L182.4,1235.7 L182.8,1237.8 L183.3,1237.1 L183.8,1236.1 L184.3,1237.1 L184.8,1236.1 L185.2,1238.9 L185.7,1237.6 L186.2,1237.3 L186.7,1236.9 L187.2,1235.8 L187.6,1236.9 L188.1,1236.1 L188.6,1237.3 L189.1,1235.8 L189.6,1236.5 L190.0,1237.7 L190.5,1237.9 L191.0,1236.4 L191.5,1236.2 L192.0,1237.5 L192.4,1237.5 L192.9,1236.5 L193.4,1236.6 L193.9,1236.6 L194.4,1236.4 L194.8,1236.6 L195.3,1237.7 L195.8,1237.4 L196.3,1238.1 L196.8,1237.0 L197.2,1236.9 L197.7,1236.5 L198.2,1236.9 L198.7,1236.3 L199.2,1236.0 L199.6,1237.4 L200.1,1237.8 L200.6,1237.5 L201.1,1237.7 L201.6,1237.1 L202.0,1236.6 L202.5,1237.1 L203.0,1236.8 L203.5,1236.4 L204.0,1236.1 L204.4,1236.2 L204.9,1237.0 L205.4,1237.1 L205.9,1236.7 L206.4,1237.8 L206.8,1237.1 L207.3,1237.3 L207.8,1237.7 L208.3,1236.6 L208.8,1235.9 L209.2,1237.4 L209.7,1236.6 L210.2,1237.7 L210.7,1237.2 L211.2,1237.6 L211.6,1237.4 L212.1,1235.9 L212.6,1237.4 L213.1,1236.6 L213.6,1236.6 L214.0,1236.8 L214.5,1237.4 L215.0,1237.5 L215.5,1237.6 L216.0,1236.1 L216.4,1236.7 L216.9,1235.7 L217.4,1236.9 L217.9,1237.3 L218.4,1236.6 L218.8,1237.1 L219.3,1237.1 L219.8,1237.6 L220.3,1236.6 L220.8,1236.6 L221.2,1236.6 L221.7,1238.0 L222.2,1237.6 L222.7,1236.9 L223.2,1237.1 L223.6,1237.1 L224.1,1237.1 L224.6,1236.9 L225.1,1236.8 L225.6,1236.3 L226.0,1236.7 L226.5,1237.9 L227.0,1237.3 L227.5,1237.0 L228.0,1236.9 L228.4,1237.0 L228.9,1237.2 L229.4,1236.7 L229.9,1237.1 L230.4,1237.1 L230.8,1236.6 L231.3,1236.6 L231.8,1236.5 L232.3,1236.4 L232.8,1237.5 L233.2,1235.7 L233.7,1236.9 L234.2,1236.7 L234.7,1236.7 L235.2,1237.1 L235.6,1237.6 L236.1,1237.0 L236.6,1236.9 L237.1,1236.7 L237.6,1236.9 L238.0,1237.5 L238.5,1236.8 L239.0,1236.4 L239.5,1236.3 L240.0,1236.4 L240.4,1236.2 L240.9,1237.6 L241.4,1237.2 L241.9,1236.9 L242.4,1237.8 L242.8,1236.6 L243.3,1237.4 L243.8,1237.4 L244.3,1236.2 L244.8,1236.2 L245.2,1236.5 L245.7,1237.5 L246.2,1237.7 L246.7,1236.3 L247.2,1237.6 L247.6,1236.8 L248.1,1236.8 L248.6,1236.7 L249.1,1236.8 L249.6,1236.0 L250.0,1236.5 L250.5,1236.3 L251.0,1237.3 L251.5,1238.2 L252.0,1238.5 L252.4,1236.8 L252.9,1236.1 L253.4,1236.8 L253.9,1236.5 L254.4,1238.1 L254.8,1237.3 L255.3,1236.6 L255.8,1237.5 L256.3,1237.3 L256.8,1236.1 L257.2,1236.7 L257.7,1236.9 L258.2,1237.0 L258.7,1237.1 L259.2,1236.8 L259.6,1237.1 L260.1,1236.7 L260.6,1236.5 L261.1,1237.8 L261.6,1237.2 L262.0,1237.2 L262.5,1236.1 L263.0,1236.9 L263.5,1237.5 L264.0,1236.3 L264.4,1237.6 L264.9,1236.8 L265.4,1237.2 L265.9,1236.9 L266.4,1237.1 L266.8,1237.7 L267.3,1236.8 L267.8,1237.9 L268.3,1236.6 L268.8,1236.5 L269.2,1237.4 L269.7,1236.4 L270.2,1236.8 L270.7,1237.5 L271.2,1237.7 L271.6,1236.0 L272.1,1237.3 L272.6,1238.0 L273.1,1237.7 L273.6,1236.9 L274.0,1236.7 L274.5,1236.8 L275.0,1236.4 L275.5,1236.9 L276.0,1236.9 L276.4,1236.9 L276.9,1237.7 L277.4,1236.9 L277.9,1236.2 L278.4,1237.6 L278.8,1236.4 L279.3,1236.8 L279.8,1236.9 L280.3,1236.8 L280.8,1236.5 L281.2,1236.9 L281.7,1238.2 L282.2,1236.7 L282.7,1236.9 L283.2,1237.6 L283.6,1237.4 L284.1,1237.4 L284.6,1237.5 L285.1,1235.9 L285.6,1236.5 L286.0,1237.1 L286.5,1237.3 L287.0,1237.7 L287.5,1237.3 L288.0,1236.9 L288.4,1237.0 L288.9,1236.9 L289.4,1237.1 L289.9,1237.4 L290.4,1236.8 L290.8,1236.6 L291.3,1236.5 L291.8,1237.6 L292.3,1237.7 L292.8,1237.6 L293.2,1237.5 L293.7,1237.5 L294.2,1237.0 L294.7,1237.4 L295.2,1236.4 L295.6,1236.9 L296.1,1236.6 L296.6,1237.4 L297.1,1236.7 L297.6,1237.0 L298.0,1237.2 L298.5,1237.8 L299.0,1236.6 L299.5,1236.5 L300.0,1237.5 L300.4,1236.4 L300.9,1237.3 L301.4,1236.7 L301.9,1237.0 L302.4,1236.0 L302.8,1237.4 L303.3,1236.7 L303.8,1236.5 L304.3,1238.2 L304.8,1237.4 L305.2,1238.9 L305.7,1237.2 L306.2,1236.8 L306.7,1237.1 L307.2,1237.9 L307.6,1237.0 L308.1,1237.3 L308.6,1237.3 L309.1,1236.5 L309.6,1237.1 L310.0,1236.7 L310.5,1236.3 L311.0,1237.5 L311.5,1237.4 L312.0,1237.1 L312.4,1236.5 L312.9,1235.9 L313.4,1237.3 L313.9,1237.0 L314.4,1236.1 L314.8,1237.0 L315.3,1236.2 L315.8,1237.0 L316.3,1237.1 L316.8,1237.2 L317.2,1237.1 L317.7,1237.1 L318.2,1236.4 L318.7,1236.8 L319.2,1236.7 L319.6,1236.9 L320.1,1237.2 L320.6,1237.4 L321.1,1237.9 L321.6,1235.6 L322.0,1237.2 L322.5,1236.9 L323.0,1238.3 L323.5,1237.5 L324.0,1236.1 L324.4,1237.2 L324.9,1236.7 L325.4,1237.6 L325.9,1236.4 L326.4,1237.0 L326.8,1236.9 L327.3,1237.0 L327.8,1236.7 L328.3,1236.0 L328.8,1237.3 L329.2,1237.6 L329.7,1237.0 L330.2,1236.5 L330.7,1237.1 L331.2,1237.3 L331.6,1236.9 L332.1,1237.0 L332.6,1237.8 L333.1,1236.4 L333.6,1236.7 L334.0,1236.0 L334.5,1236.6 L335.0,1236.6 L335.5,1236.5 L336.0,1236.6 L336.4,1238.0 L336.9,1236.9 L337.4,1236.9 L337.9,1238.2 L338.4,1237.0 L338.8,1236.1 L339.3,1237.2 L339.8,1236.5 L340.3,1237.9 L340.8,1236.3 L341.2,1236.7 L341.7,1236.1 L342.2,1237.1 L342.7,1236.5 L343.2,1237.0 L343.6,1236.8 L344.1,1236.7 L344.6,1237.5 L345.1,1237.5 L345.6,1237.0 L346.0,1236.5 L346.5,1236.4 L347.0,1237.2 L347.5,1238.3 L348.0,1236.8 L348.4,1236.6 L348.9,1236.6 L349.4,1236.4 L349.9,1236.5 L350.4,1236.9 L350.8,1237.8 L351.3,1237.0 L351.8,1236.7 L352.3,1236.1 L352.8,1237.1 L353.2,1237.0 L353.7,1236.3 L354.2,1236.4 L354.7,1237.0 L355.2,1237.6 L355.6,1237.4 L356.1,1237.1 L356.6,1236.8 L357.1,1237.2 L357.6,1237.0 L358.0,1238.2 L358.5,1236.4 L359.0,1236.8 L359.5,1237.7 L360.0,1236.9 L360.4,1237.8 L360.9,1237.0 L361.4,1237.1 L361.9,1236.8 L362.4,1236.3 L362.8,1236.5 L363.3,1238.2 L363.8,1237.4 L364.3,1237.3 L364.8,1237.5 L365.2,1237.3 L365.7,1237.6 L366.2,1236.9 L366.7,1236.9 L367.2,1237.6 L367.6,1236.8 L368.1,1236.3 L368.6,1236.9 L369.1,1236.7 L369.6,1237.4 L370.0,1236.6 L370.5,1236.4 L371.0,1236.8 L371.5,1237.9 L372.0,1237.0 L372.4,1237.1 L372.9,1237.0 L373.4,1237.2 L373.9,1237.5 L374.4,1237.8 L374.8,1236.1 L375.3,1237.8 L375.8,1237.0 L376.3,1236.8 L376.8,1238.3 L377.2,1236.9 L377.7,1238.1 L378.2,1237.5 L378.7,1236.4 L379.2,1237.3 L379.6,1237.4 L380.1,1236.9 L380.6,1235.7 L381.1,1236.8 L381.6,1236.9 L382.0,1236.4 L382.5,1238.0 L383.0,1236.9 L383.5,1236.8 L384.0,1236.8 L384.4,1236.6 L384.9,1236.6 L385.4,1237.1 L385.9,1237.2 L386.4,1236.7 L386.8,1237.0 L387.3,1236.3 L387.8,1237.3 L388.3,1236.6 L388.8,1237.1 L389.2,1236.5 L389.7,1236.7 L390.2,1237.1 L390.7,1236.3 L391.2,1238.4 L391.6,1237.0 L392.1,1237.0 L392.6,1236.6 L393.1,1237.9 L393.6,1237.8 L394.0,1237.2 L394.5,1236.3 L395.0,1236.7 L395.5,1237.4 L396.0,1236.7 L396.4,1236.4 L396.9,1236.4 L397.4,1236.6 L397.9,1237.0 L398.4,1236.7 L398.8,1237.0 L399.3,1238.6 L399.8,1238.0 L400.3,1236.4 L400.8,1237.2 L401.2,1237.1 L401.7,1236.9 L402.2,1237.6 L402.7,1236.8 L403.2,1236.8 L403.6,1236.8 L404.1,1237.0 L404.6,1237.7 L405.1,1237.4 L405.6,1236.3 L406.0,1236.8 L406.5,1236.6 L407.0,1237.5 L407.5,1237.1 L408.0,1237.5 L408.4,1237.0 L408.9,1236.0 L409.4,1237.3 L409.9,1237.1 L410.4,1237.3 L410.8,1236.3 L411.3,1237.1 L411.8,1236.6 L412.3,1236.6 L412.8,1237.2 L413.2,1237.2 L413.7,1236.5 L414.2,1236.1 L414.7,1235.7 L415.2,1236.7 L415.6,1237.6 L416.1,1237.0 L416.6,1235.8 L417.1,1236.5 L417.6,1237.2 L418.0,1237.9 L418.5,1237.7 L419.0,1237.2 L419.5,1237.1 L420.0,1236.4 L420.4,1236.8 L420.9,1236.8 L421.4,1236.6 L421.9,1237.1 L422.4,1236.8 L422.8,1237.2 L423.3,1237.8 L423.8,1237.4 L424.3,1237.2 L424.8,1236.9 L425.2,1236.2 L425.7,1237.0 L426.2,1237.3 L426.7,1236.5 L427.2,1237.7 L427.6,1236.8 L428.1,1237.2 L428.6,1236.8 L429.1,1236.3 L429.6,1238.2 L430.0,1236.4 L430.5,1237.5 L431.0,1236.7 L431.5,1237.2 L432.0,1236.6 L432.4,1236.8 L432.9,1237.5 L433.4,1238.1 L433.9,1236.6 L434.4,1237.0 L434.8,1237.5 L435.3,1236.7 L435.8,1237.4 L436.3,1236.6 L436.8,1237.3 L437.2,1237.3 L437.7,1237.7 L438.2,1237.2 L438.7,1236.4 L439.2,1237.4 L439.6,1236.4 L440.1,1237.4 L440.6,1237.8 L441.1,1237.3 L441.6,1236.7 L442.0,1237.7 L442.5,1237.1 L443.0,1236.3 L443.5,1236.8 L444.0,1237.8 L444.4,1236.9 L444.9,1237.1 L445.4,1236.8 L445.9,1236.1 L446.4,1236.7 L446.8,1237.2 L447.3,1237.1 L447.8,1236.9 L448.3,1235.8 L448.8,1237.7 L449.2,1237.4 L449.7,1237.6 L450.2,1237.7 L450.7,1236.8 L451.2,1236.7 L451.6,1237.2 L452.1,1237.9 L452.6,1236.1 L453.1,1236.9 L453.6,1236.6 L454.0,1237.3 L454.5,1237.8 L455.0,1236.9 L455.5,1236.3 L456.0,1237.0 L456.4,1236.9 L456.9,1236.2 L457.4,1237.5 L457.9,1236.7 L458.4,1237.4 L458.8,1236.3 L459.3,1237.6 L459.8,1236.2 L460.3,1237.6 L460.8,1236.0 L461.2,1237.8 L461.7,1236.8 L462.2,1236.2 L462.7,1236.9 L463.2,1237.2 L463.6,1236.5 L464.1,1236.7 L464.6,1237.2 L465.1,1236.9 L465.6,1235.3 L466.0,1236.8 L466.5,1237.3 L467.0,1237.2 L467.5,1237.6 L468.0,1236.6 L468.4,1238.4 L468.9,1237.5 L469.4,1237.2 L469.9,1237.6 L470.4,1237.5 L470.8,1237.1 L471.3,1236.7 L471.8,1237.6 L472.3,1237.3 L472.8,1236.0 L473.2,1236.4 L473.7,1237.3 L474.2,1237.1 L474.7,1237.2 L475.2,1237.4 L475.6,1237.1 L476.1,1237.9 L476.6,1236.7 L477.1,1236.8 L477.6,1237.2 L478.0,1237.4 L478.5,1237.5 L479.0,1237.8 L479.5,1241.4 L480.7,1194.8 L482.7,1270.0 L484.5,1193.8 L486.6,1270.4 L489.0,1193.6 L491.1,1267.8 L493.0,1211.2 L495.0,1237.5 L495.5,1236.5 L496.0,1235.9 L496.5,1235.7 L496.9,1236.9 L497.4,1237.7 L497.9,1237.6 L498.4,1237.8 L498.9,1238.0 L499.3,1237.0 L499.8,1237.6 L500.3,1236.2 L500.8,1237.4 L501.3,1237.2 L501.7,1237.0 L502.2,1236.8 L502.7,1236.4 L503.2,1237.1 L503.7,1237.7 L504.1,1236.8 L504.6,1237.3 L505.1,1236.7 L505.6,1237.2 L506.1,1236.5 L506.5,1237.2 L507.0,1236.9 L507.5,1237.2 L508.0,1236.7 L508.5,1236.4 L508.9,1239.5 L511.0,1208.5 L512.9,1256.1 L514.3,1219.3 L516.2,1256.3 L518.1,1226.5 L520.2,1270.3 L522.0,1224.1 L523.7,1236.9 L524.1,1236.4 L524.6,1237.5 L525.1,1237.0 L525.6,1237.3 L526.1,1236.9 L526.5,1236.5 L527.0,1237.6 L527.5,1236.7 L528.0,1236.8 L528.5,1236.4 L528.9,1237.0 L529.4,1236.7 L529.9,1237.0 L530.4,1237.0 L530.9,1236.5 L531.3,1236.0 L531.8,1237.0 L532.3,1237.3 L532.8,1237.2 L533.3,1236.1 L533.7,1237.1 L534.2,1237.0 L534.7,1236.9 L535.2,1237.0 L535.7,1236.5 L536.1,1236.8 L536.6,1237.2 L537.1,1236.4 L537.6,1235.9 L538.1,1236.6 L538.5,1236.7 L539.0,1235.6 L539.5,1237.6 L541.2,1233.1 L543.1,1262.3 L544.8,1227.3 L546.4,1256.0 L548.0,1231.5 L549.7,1252.1 L551.5,1235.5 L553.1,1248.4 L554.3,1232.5 L555.9,1246.0 L557.1,1230.0 L558.8,1244.9 L560.5,1230.0 L562.0,1244.9 L563.3,1230.6 L564.6,1252.1 L566.3,1228.8 L567.6,1246.6 L569.3,1230.2 L570.7,1243.2 L572.2,1231.8 L573.5,1247.3 L575.2,1229.3 L576.6,1246.8 L578.1,1228.8 L579.7,1244.4 L581.2,1234.4 L582.9,1249.2 L584.5,1232.1 L585.8,1252.3 L587.2,1232.3 L588.8,1252.7 L590.1,1239.4 L591.8,1249.6 L593.1,1239.4 L594.8,1263.0 L596.5,1241.7 L597.8,1267.9 L599.2,1244.2 L600.4,1262.9 L602.1,1236.4 L603.4,1247.2 L605.0,1238.1 L606.3,1241.1 L607.6,1238.2 L608.1,1237.1 L608.5,1236.9 L609.0,1237.7 L609.5,1237.6 L610.0,1236.6 L610.5,1238.1 L610.9,1237.6 L611.4,1236.4 L611.9,1237.6 L612.4,1237.7 L612.9,1237.6 L613.3,1236.8 L613.8,1237.4 L614.3,1237.2 L614.8,1236.7 L615.3,1237.8 L615.7,1237.1 L616.2,1237.3 L616.7,1237.1 L617.2,1237.8 L617.7,1237.2 L618.1,1236.5 L618.6,1236.4 L619.1,1236.0 L619.6,1236.7 L620.1,1236.8 L620.5,1236.6 L621.0,1238.2 L621.5,1236.8 L622.0,1236.6 L622.5,1236.9 L622.9,1236.8 L623.4,1237.6 L623.9,1237.0 L624.4,1236.4 L624.9,1236.9 L625.3,1238.1 L625.8,1242.5 L627.4,1259.2 L629.0,1210.2 L631.1,1268.8 L632.7,1199.2 L634.3,1269.2 L636.2,1241.3 L638.2,1273.5 L640.1,1243.1 L641.7,1236.8 L642.2,1238.0 L642.7,1237.9 L643.2,1236.7 L643.6,1237.7 L644.1,1238.3 L644.6,1237.8 L645.1,1238.4 L645.6,1237.5 L646.0,1237.7 L646.5,1236.9 L647.0,1237.2 L647.5,1236.7 L648.0,1237.2 L648.4,1237.8 L648.9,1237.9 L649.4,1238.3 L649.9,1237.7 L650.4,1237.1 L650.8,1237.9 L651.3,1237.6 L651.8,1238.7 L652.3,1238.7 L652.8,1238.2 L653.2,1237.1 L653.7,1237.4 L654.2,1237.8 L654.7,1237.3 L655.2,1238.0 L655.6,1238.1 L656.1,1238.1 L656.6,1237.8 L657.1,1237.2 L657.6,1237.2 L658.0,1237.6 L658.5,1238.4 L659.0,1238.6 L659.5,1238.2 L660.0,1237.9 L660.4,1238.1 L660.9,1238.2 L661.4,1238.4 L661.9,1238.2 L662.4,1236.9 L662.8,1238.2 L663.3,1237.9 L663.8,1237.5 L664.3,1238.0 L664.8,1237.9 L665.2,1237.7 L665.7,1236.8 L666.2,1237.8 L666.7,1238.0 L667.2,1237.7 L667.6,1236.9 L668.1,1238.0 L668.6,1238.1 L669.1,1237.8 L669.6,1238.0 L670.0,1237.5 L670.5,1237.4 L671.0,1238.0 L671.5,1237.5 L672.0,1237.8 L672.4,1239.5 L672.9,1238.1 L673.4,1237.8 L673.9,1236.9 L674.4,1237.8 L674.8,1238.2 L675.3,1237.4 L675.8,1237.6 L676.3,1236.5 L676.8,1238.1 L677.2,1237.4 L677.7,1238.1 L678.2,1238.5 L678.7,1237.7 L679.2,1238.3 L679.6,1237.9 L680.1,1237.7 L680.6,1237.6 L681.1,1237.3 L681.6,1238.5 L682.0,1238.3 L682.5,1237.2 L683.0,1238.2 L683.5,1237.4 L684.0,1237.0 L684.4,1238.4 L684.9,1237.1 L685.4,1238.4 L685.9,1237.9 L686.4,1238.3 L686.8,1238.1 L687.3,1238.4 L687.8,1238.0 L688.3,1238.1 L688.8,1237.9 L689.2,1238.4 L689.7,1237.6 L690.2,1238.4 L690.7,1238.6 L691.2,1237.8 L691.6,1238.1 L692.1,1237.5 L692.6,1237.7 L693.1,1238.0 L693.6,1237.6 L694.0,1237.3 L694.5,1237.8 L695.0,1237.9 L695.5,1238.0 L696.0,1238.2 L696.4,1236.9 L696.9,1238.6 L697.4,1237.7 L697.9,1237.4 L698.4,1263.7 L700.3,1211.1 L701.7,1259.8 L703.3,1197.6 L704.8,1272.2 L706.6,1211.7 L708.3,1270.0 L710.2,1203.7 L711.7,1247.6 L713.7,1237.9 L714.2,1237.7 L714.7,1238.1 L715.2,1237.4 L715.7,1237.9 L716.1,1237.8 L716.6,1237.7 L717.1,1237.1 L717.6,1237.1 L718.1,1238.2 L718.5,1236.2 L719.0,1237.4 L719.5,1238.4 L720.0,1238.0 L720.5,1237.4 L720.9,1237.3 L721.4,1236.9 L721.9,1238.7 L722.4,1237.3 L722.9,1237.7 L723.3,1238.4 L723.8,1238.1 L724.3,1237.9 L724.8,1237.5 L725.3,1237.8 L725.7,1237.3 L726.2,1238.0 L726.7,1237.2 L727.2,1237.6 L727.7,1237.9 L728.1,1238.1 L728.6,1237.3 L729.1,1237.7 L729.6,1237.4 L730.1,1237.3 L730.5,1238.1 L731.0,1237.9 L731.5,1237.4 L732.0,1237.8 L732.5,1236.9 L732.9,1237.2 L733.4,1236.8 L733.9,1237.4 L734.4,1238.2 L734.9,1237.7 L735.3,1237.5 L735.8,1237.8 L736.3,1237.5 L736.8,1237.7 L737.3,1236.9 L737.7,1237.7 L738.2,1237.2 L738.7,1237.7 L739.2,1237.6 L739.7,1237.8 L740.1,1237.0 L740.6,1238.6 L741.1,1237.2 L741.6,1237.5 L742.1,1237.5 L742.5,1237.3 L743.0,1236.9 L743.5,1237.8 L744.0,1238.1 L744.5,1237.5 L744.9,1236.5 L745.4,1237.0 L745.9,1237.7 L746.4,1236.9 L746.9,1237.2 L747.3,1237.2 L747.8,1237.3 L748.3,1237.9 L748.8,1238.2 L749.3,1236.6 L749.7,1236.7 L750.2,1238.4 L750.7,1237.9 L751.2,1237.7 L751.7,1237.2 L752.1,1237.6 L752.6,1236.7 L753.1,1238.8 L753.6,1237.8 L754.1,1237.9 L754.5,1237.7 L755.0,1238.5 L755.5,1237.6 L756.0,1237.7 L756.5,1237.1 L756.9,1237.5 L757.4,1237.7 L757.9,1238.3 L758.4,1238.9 L760.4,1269.2 L761.7,1255.2 L763.2,1273.4 L764.4,1254.6 L765.7,1275.9 L766.9,1258.2 L768.1,1278.4 L769.3,1255.4 L770.7,1273.8 L772.3,1259.0 L773.6,1272.2 L775.1,1254.3 L776.7,1266.2 L778.2,1248.6 L779.6,1263.1 L780.8,1248.7 L782.0,1259.8 L783.5,1244.6 L785.0,1262.7 L786.3,1240.8 L787.4,1260.8 L788.7,1242.5 L790.1,1260.4 L791.7,1242.3 L792.9,1261.7 L794.6,1244.6 L795.7,1262.7 L797.2,1241.3 L798.5,1267.5 L800.1,1242.9 L801.8,1265.4 L803.1,1251.8 L804.6,1273.3 L805.8,1257.3 L807.4,1277.6 L808.6,1249.7 L810.1,1269.8 L811.2,1248.9 L812.8,1270.6 L814.2,1245.2 L815.3,1268.6 L816.8,1250.0 L818.1,1264.4 L819.6,1240.7 L820.9,1242.5 L822.0,1237.6 L822.5,1238.8 L823.0,1238.2 L823.5,1238.8 L823.9,1237.1 L824.4,1237.7 L824.9,1238.0 L825.4,1238.1 L825.9,1238.1 L826.3,1238.2 L826.8,1237.7 L827.3,1237.7 L827.8,1237.1 L828.3,1237.6 L828.7,1237.3 L829.2,1238.2 L829.7,1237.9 L830.2,1237.4 L830.7,1237.8 L831.1,1237.1 L831.6,1237.4 L832.1,1237.1 L832.6,1237.9 L833.1,1237.2 L833.5,1237.6 L834.0,1237.1 L834.5,1236.5 L835.0,1237.6 L835.5,1237.3 L835.9,1237.5 L836.4,1236.5 L836.9,1235.8 L837.4,1236.8 L837.9,1237.3 L838.3,1235.9 L838.8,1238.2 L839.3,1237.3 L839.8,1237.4 L840.3,1236.2 L840.7,1237.3 L841.2,1236.9 L841.7,1237.4 L842.2,1237.5 L842.7,1235.9 L843.1,1236.1 L843.6,1236.1 L844.1,1236.2 L844.6,1236.3 L845.1,1236.9 L845.5,1235.7 L846.0,1235.6 L846.5,1236.6 L847.0,1235.8 L847.5,1236.5 L847.9,1236.3 L848.4,1236.9 L848.9,1235.6 L849.4,1235.8 L849.9,1236.8 L850.3,1236.2 L850.8,1235.3 L851.3,1236.2 L851.8,1234.9 L852.3,1235.2 L852.7,1236.2 L853.2,1236.3 L853.7,1236.7 L854.2,1235.7 L854.7,1235.4 L855.1,1236.5 L855.6,1236.2 L856.1,1235.6 L856.6,1235.8 L857.1,1235.4 L857.5,1236.2 L858.0,1235.5 L858.5,1235.6 L859.0,1236.5 L859.5,1234.6 L859.9,1234.3 L860.4,1235.8 L860.9,1234.4 L861.4,1233.5 L861.9,1235.1 L862.3,1236.2 L862.8,1235.6 L863.3,1235.0 L863.8,1234.7 L864.3,1215.9 L865.5,1249.5 L867.0,1200.8 L868.9,1270.3 L870.7,1194.8 L872.2,1257.4 L874.2,1192.8 L876.2,1270.5 L877.6,1224.2 L879.5,1261.7 L881.2,1239.0 L882.8,1238.6 L883.3,1237.2 L883.8,1237.4 L884.3,1238.0 L884.7,1238.2 L885.2,1237.7 L885.7,1237.4 L886.2,1238.1 L886.7,1238.2 L887.1,1238.7 L887.6,1237.7 L888.1,1237.8 L888.6,1238.3 L889.1,1238.9 L889.5,1238.0 L890.0,1238.0 L890.5,1237.6 L891.0,1237.9 L891.5,1238.6 L891.9,1238.6 L892.4,1238.8 L892.9,1237.2 L893.4,1238.6 L893.9,1237.7 L894.3,1238.5 L894.8,1236.9 L895.3,1238.2 L895.8,1237.7 L896.3,1238.9 L896.7,1238.3 L897.2,1239.0 L897.7,1238.0 L898.2,1239.4 L898.7,1238.1 L899.1,1239.4 L899.6,1238.1 L900.1,1237.9 L900.6,1238.9 L901.1,1238.2 L901.5,1238.4 L902.0,1237.7 L902.5,1238.2 L903.0,1238.5 L903.5,1238.0 L903.9,1238.6 L904.4,1237.1 L904.9,1238.9 L905.4,1238.2 L905.9,1239.2 L906.3,1238.2 L906.8,1238.0 L907.3,1238.2 L907.8,1238.6 L908.3,1238.7 L908.7,1238.2 L909.2,1238.0 L909.7,1238.6 L910.2,1238.9 L910.7,1237.4 L911.1,1237.8 L911.6,1238.0 L912.1,1239.4 L912.6,1239.1 L913.1,1238.9 L913.5,1238.7 L914.0,1237.8 L914.5,1239.0 L915.0,1238.2 L915.5,1238.0 L915.9,1239.5 L916.4,1237.6 L916.9,1239.2 L917.4,1238.5 L917.9,1237.9 L918.3,1238.5 L918.8,1237.9 L919.3,1238.5 L919.8,1238.1 L920.3,1237.8 L920.7,1239.9 L921.2,1238.1 L921.7,1239.0 L922.2,1238.4 L922.7,1238.8 L923.1,1237.7 L923.6,1237.8 L924.1,1236.6 L924.6,1239.0 L925.1,1238.7 L925.5,1237.8 L926.0,1238.9 L926.5,1238.8 L927.0,1240.1 L927.5,1238.6 L927.9,1238.9 L928.4,1238.8 L928.9,1238.9 L929.4,1238.4 L929.9,1238.2 L930.3,1238.8 L930.8,1239.1 L931.3,1237.8 L931.8,1237.8 L932.3,1238.4 L932.7,1239.4 L933.2,1238.3 L933.7,1237.5 L934.2,1238.9 L934.7,1238.8 L935.1,1239.5 L935.6,1238.5 L936.1,1239.5 L936.6,1238.0 L937.1,1238.9 L937.5,1238.5 L938.0,1237.8 L938.5,1238.3 L939.0,1239.2 L939.5,1239.1 L939.9,1238.2 L940.4,1239.0 L940.9,1238.9 L941.4,1238.9 L941.9,1238.6 L942.3,1238.6 L942.8,1238.0 L943.3,1238.4 L943.8,1238.5 L944.3,1238.0 L944.7,1238.3 L945.2,1238.5 L945.7,1238.6 L946.2,1239.0 L946.7,1237.9 L947.1,1238.2 L947.6,1238.6 L948.1,1238.2 L948.6,1238.6 L949.1,1238.2 L949.5,1239.1 L950.0,1238.3 L950.5,1237.8 L951.0,1238.9 L951.5,1239.4 L951.9,1237.4 L952.4,1238.4 L952.9,1238.5 L953.4,1239.0 L953.9,1239.3 L954.3,1238.4 L954.8,1237.6 L955.3,1238.8 L955.8,1239.0 L956.3,1238.7 L956.7,1238.5 L957.2,1238.0 L957.7,1239.8 L958.2,1237.8 L958.7,1237.6 L959.1,1239.0 L959.6,1238.6 L960.1,1238.8 L960.6,1238.6 L961.1,1239.4 L961.5,1239.2 L962.0,1238.1 L962.5,1239.0 L963.0,1237.8 L963.5,1237.5 L963.9,1239.1 L964.4,1238.2 L964.9,1237.3 L965.4,1238.4 L965.9,1238.1 L966.3,1238.7 L966.8,1238.4 L967.3,1238.0 L967.8,1238.1 L968.3,1238.9 L968.7,1237.9 L969.2,1238.5 L969.7,1237.9 L970.2,1238.7 L970.7,1239.4 L971.1,1238.8 L971.6,1239.1 L972.1,1238.7 L972.6,1237.9 L973.1,1238.3 L973.5,1238.5 L974.0,1238.7 L974.5,1238.1 L975.0,1238.8 L975.5,1238.1 L975.9,1238.5 L976.4,1238.5 L976.9,1237.8 L977.4,1239.0 L977.9,1238.5 L978.3,1238.5 L978.8,1238.4 L979.3,1237.3 L979.8,1237.7 L980.3,1238.0 L980.7,1239.0 L981.2,1238.1 L981.7,1238.8 L982.2,1237.9 L982.7,1238.0 L983.1,1238.2 L983.6,1239.1 L984.1,1237.5 L984.6,1238.4 L985.1,1238.7 L985.5,1238.5 L986.0,1238.5 L986.5,1238.9 L987.0,1238.6 L987.5,1237.9 L987.9,1238.8 L988.4,1238.0 L988.9,1238.3 L989.4,1239.3 L989.9,1239.8 L990.3,1239.3 L990.8,1238.7 L991.3,1238.0 L991.8,1238.0 L992.3,1239.4 L992.7,1238.7 L993.2,1237.7 L993.7,1239.3 L994.2,1238.8 L994.7,1239.2 L995.1,1238.7 L995.6,1237.3 L996.1,1238.1 L996.6,1238.4 L997.1,1238.4 L997.5,1239.3 L998.0,1238.1 L998.5,1238.4 L999.0,1238.4 L999.5,1238.4 L999.9,1237.9 L1000.4,1237.8 L1000.9,1237.0 L1001.4,1238.7 L1001.9,1238.4 L1002.3,1238.6 L1002.8,1237.9 L1003.3,1238.5 L1003.8,1237.9 L1004.3,1237.9 L1004.7,1238.7 L1005.2,1238.8 L1005.7,1238.8 L1006.2,1238.5 L1006.7,1238.3 L1007.1,1239.3 L1007.6,1239.2 L1008.1,1238.1 L1008.6,1237.9 L1009.1,1238.7 L1009.5,1238.7 L1010.0,1238.0 L1010.5,1239.7 L1011.0,1237.3 L1011.5,1238.0 L1011.9,1238.6 L1012.4,1239.0 L1012.9,1237.5 L1013.4,1238.2 L1013.9,1239.3 L1014.3,1239.3 L1014.8,1238.3 L1015.3,1238.5 L1015.8,1238.0 L1016.3,1238.7 L1016.7,1237.9 L1017.2,1237.4 L1017.7,1237.6 L1018.2,1238.5 L1018.7,1237.8 L1019.1,1239.1 L1019.6,1239.2 L1020.1,1239.0 L1020.6,1238.9 L1021.1,1239.1 L1021.5,1238.6 L1022.0,1239.0 L1022.5,1238.7 L1023.0,1238.9 L1023.5,1237.9 L1023.9,1238.1 L1024.4,1237.9 L1024.9,1239.0 L1025.4,1238.8 L1025.9,1238.1 L1026.3,1237.9 L1026.8,1238.2 L1027.3,1239.0 L1027.8,1238.4 L1028.3,1238.4 L1028.7,1238.1 L1029.2,1238.4 L1029.7,1239.4 L1030.2,1238.1 L1030.7,1238.3 L1031.1,1239.4 L1031.6,1238.9 L1032.1,1237.9 L1032.6,1239.1 L1033.1,1237.8 L1033.5,1238.8 L1034.0,1237.1 L1034.5,1237.9 L1035.0,1239.0 L1035.5,1238.2 L1035.9,1238.1 L1036.4,1238.5 L1036.9,1238.5 L1037.4,1238.2 L1037.9,1238.1 L1038.3,1239.5 L1038.8,1239.3 L1039.3,1238.7 L1039.8,1237.9 L1040.3,1238.2 L1040.7,1238.3 L1041.2,1238.8 L1041.7,1239.4 L1042.2,1238.2 L1042.7,1238.6 L1043.1,1238.3 L1043.6,1238.6 L1044.1,1238.1 L1044.6,1238.7 L1045.1,1239.1 L1045.5,1238.3 L1046.0,1238.3 L1046.5,1238.6 L1047.0,1237.8 L1047.5,1239.5 L1047.9,1237.8 L1048.4,1238.3 L1048.9,1238.0 L1049.4,1239.3 L1049.9,1238.2 L1050.3,1238.2 L1050.8,1239.6 L1051.3,1238.4 L1051.8,1238.1 L1052.3,1238.5 L1052.7,1238.6 L1053.2,1238.1 L1053.7,1238.4 L1054.2,1238.4 L1054.7,1238.9 L1055.1,1238.9 L1055.6,1239.0 L1056.1,1238.4 L1056.6,1239.0 L1057.1,1238.4 L1057.5,1239.2 L1058.0,1238.7 L1058.5,1238.3 L1059.0,1239.2 L1059.5,1237.7 L1059.9,1238.0 L1060.4,1238.1 L1060.9,1238.4 L1061.4,1237.8 L1061.9,1237.9 L1062.3,1237.5 L1062.8,1238.6 L1063.3,1238.1 L1063.8,1239.7 L1064.3,1238.9 L1064.7,1237.9 L1065.2,1239.3 L1065.7,1238.6 L1066.2,1239.1 L1066.7,1237.9 L1067.1,1239.2 L1067.6,1239.1 L1068.1,1238.3 L1068.6,1238.1 L1069.1,1238.3 L1069.5,1238.7 L1070.0,1239.9 L1070.5,1239.5 L1071.0,1239.4 L1071.5,1238.4 L1071.9,1238.3 L1072.4,1238.7 L1072.9,1238.4 L1073.4,1238.3 L1073.9,1238.4 L1074.3,1239.0 L1074.8,1238.5 L1075.3,1238.7 L1075.8,1238.4 L1076.3,1238.4 L1076.7,1238.3 L1077.2,1239.2 L1077.7,1238.7 L1078.2,1239.4 L1078.7,1238.4 L1079.1,1239.1 L1079.6,1237.8 L1080.1,1238.3 L1080.6,1238.5 L1081.1,1238.2 L1081.5,1238.5 L1082.0,1238.0 L1082.5,1238.4 L1083.0,1238.2 L1083.5,1238.5 L1083.9,1238.4 L1084.4,1238.0 L1084.9,1238.3 L1085.4,1238.6 L1085.9,1237.8 L1086.3,1238.6 L1086.8,1239.2 L1087.3,1238.4 L1087.8,1238.8 L1088.3,1238.9 L1088.7,1238.1 L1089.2,1239.3 L1089.7,1239.9 L1090.2,1238.0 L1090.7,1239.7 L1091.1,1238.1 L1091.6,1239.3 L1092.1,1237.5 L1092.6,1239.2 L1093.1,1238.6 L1093.5,1237.8 L1094.0,1238.1 L1094.5,1238.0 L1095.0,1238.0 L1095.5,1238.8 L1095.9,1238.4 L1096.4,1237.2 L1096.9,1238.4 L1097.4,1238.8 L1097.9,1238.6 L1098.3,1239.5 L1098.8,1237.5 L1099.3,1238.7 L1099.8,1238.6 L1100.3,1238.9 L1100.7,1237.8 L1101.2,1237.8 L1101.7,1238.5 L1102.2,1238.6 L1102.7,1237.5 L1103.1,1238.7 L1103.6,1238.5 L1104.1,1239.0 L1104.6,1237.1 L1105.1,1238.8 L1105.5,1238.1 L1106.0,1238.3 L1106.5,1239.0 L1107.0,1239.5 L1107.5,1238.6 L1107.9,1238.5 L1108.4,1239.3 L1108.9,1238.1 L1109.4,1238.5 L1109.9,1238.3 L1110.3,1238.0 L1110.8,1238.7 L1111.3,1239.7 L1111.8,1238.7 L1112.3,1238.8 L1112.7,1238.5 L1113.2,1239.2 L1113.7,1238.7 L1114.2,1238.1 L1114.7,1238.6 L1115.1,1239.4 L1115.6,1238.5 L1116.1,1239.2 L1116.6,1238.5 L1117.1,1239.7 L1117.5,1238.7 L1118.0,1238.9 L1118.5,1238.4 L1119.0,1239.0 L1119.5,1238.4 L1119.9,1237.7 L1120.4,1238.7 L1120.9,1237.9 L1121.4,1239.4 L1121.9,1239.0 L1122.3,1238.6 L1122.8,1238.9 L1123.3,1237.1 L1123.8,1239.4 L1124.3,1238.2 L1124.7,1238.9 L1125.2,1240.0 L1125.7,1237.7 L1126.2,1238.3 L1126.7,1238.8 L1127.1,1238.8 L1127.6,1237.6 L1128.1,1238.0 L1128.6,1239.4 L1129.1,1238.2 L1129.5,1238.9 L1130.0,1237.8 L1130.5,1238.1 L1131.0,1237.6 L1131.5,1238.7 L1131.9,1239.2 L1132.4,1238.6 L1132.9,1238.4 L1133.4,1238.7 L1133.9,1238.8 L1134.3,1238.4 L1134.8,1238.9 L1135.3,1239.7 L1135.8,1239.8 L1136.3,1238.3 L1136.7,1237.9 L1137.2,1239.6 L1137.7,1239.1 L1138.2,1239.2 L1138.7,1238.9 L1139.1,1238.4 L1139.6,1239.1 L1140.1,1239.2 L1140.6,1239.2 L1141.1,1238.0 L1141.5,1239.1 L1142.0,1238.4 L1142.5,1238.4 L1143.0,1238.8 L1143.5,1238.4 L1143.9,1239.9 L1144.4,1238.9 L1144.9,1238.7 L1145.4,1238.5 L1145.9,1238.7 L1146.3,1238.5 L1146.8,1238.9 L1147.3,1239.1 L1147.8,1239.0 L1148.3,1237.9 L1148.7,1238.4 L1149.2,1238.6 L1149.7,1237.9 L1150.2,1238.8 L1150.7,1238.5 L1151.1,1238.6 L1151.6,1238.8 L1152.1,1238.2 L1152.6,1239.4 L1153.1,1239.2 L1153.5,1238.3 L1154.0,1238.8 L1154.5,1239.0 L1155.0,1238.2 L1155.5,1238.4 L1155.9,1239.0 L1156.4,1237.2 L1156.9,1237.9 L1157.4,1238.8 L1157.9,1238.9 L1158.3,1238.1 L1158.8,1239.1 L1159.3,1239.8 L1159.8,1238.7 L1160.3,1238.6 L1160.7,1238.6 L1161.2,1238.0 L1161.7,1238.9 L1162.2,1238.7 L1162.7,1239.0 L1163.1,1239.4 L1163.6,1238.6 L1164.1,1238.7 L1164.6,1238.8 L1165.1,1239.6 L1165.5,1237.8 L1166.0,1238.6 L1166.5,1238.2 L1167.0,1238.7 L1167.5,1239.1 L1167.9,1238.6 L1168.4,1239.0 L1168.9,1238.7 L1169.4,1238.2 L1169.9,1238.2 L1170.3,1237.8 L1170.8,1238.7 L1171.3,1238.4 L1171.8,1239.1 L1172.3,1239.1 L1172.7,1238.1 L1173.2,1238.0 L1173.7,1238.9 L1174.2,1238.1 L1174.7,1238.7 L1175.1,1238.9 L1175.6,1238.4 L1176.1,1239.6 L1176.6,1238.2 L1177.1,1238.8 L1177.5,1238.4 L1178.0,1237.0 L1178.5,1238.5 L1179.0,1238.5 L1179.5,1238.9 L1179.9,1238.5 L1180.4,1238.2 L1180.9,1238.3 L1181.4,1238.4 L1181.9,1239.0 L1182.3,1238.5 L1182.8,1239.3 L1183.3,1239.1 L1183.8,1238.2 L1184.3,1239.2 L1184.7,1236.4 L1185.2,1236.6 L1185.7,1235.9 L1186.2,1236.4 L1186.7,1237.0 L1187.1,1236.4 L1187.6,1236.3 L1188.1,1237.1 L1188.6,1236.0 L1189.1,1235.9 L1189.5,1236.9 L1190.0,1236.7 L1190.5,1235.6 L1191.0,1236.5 L1191.5,1236.8 L1191.9,1236.3 L1192.4,1236.2 L1192.9,1236.5 L1193.4,1236.5 L1193.9,1236.0 L1194.3,1236.9 L1194.8,1235.5 L1195.3,1236.4 L1195.8,1237.6 L1196.3,1235.8 L1196.7,1236.4 L1197.2,1235.2 L1197.7,1235.9 L1198.2,1235.8 L1198.7,1236.4 L1199.1,1236.1 L1199.6,1237.4 L1200.1,1235.9 L1200.6,1236.4 L1201.1,1236.5 L1201.5,1236.8 L1202.0,1236.9 L1202.5,1235.5 L1203.0,1237.6 L1203.5,1236.2 L1203.9,1236.0 L1204.4,1235.5 L1204.9,1236.2 L1205.4,1235.4 L1205.9,1236.5 L1206.3,1236.1 L1206.8,1236.6 L1207.3,1236.0 L1207.8,1236.4 L1208.3,1237.6 L1208.7,1237.1 L1209.2,1236.5 L1209.7,1235.9 L1210.2,1237.2 L1210.7,1235.5 L1211.1,1235.6 L1211.6,1237.1 L1212.1,1236.1 L1212.6,1237.1 L1213.1,1236.7 L1213.5,1237.6 L1214.0,1237.4 L1214.5,1236.7 L1215.0,1236.1 L1215.5,1236.7 L1215.9,1237.2 L1216.4,1236.5 L1216.9,1234.8 L1217.4,1236.2 L1217.9,1236.2 L1218.3,1236.4 L1218.8,1236.2 L1219.3,1237.0 L1219.8,1235.7 L1220.3,1236.6 L1220.7,1235.3 L1221.2,1235.2 L1221.7,1235.8 L1222.2,1236.0 L1222.7,1235.9 L1223.1,1236.0 L1223.6,1236.7 L1224.1,1236.7 L1224.6,1236.4 L1225.1,1236.5 L1225.5,1236.0 L1226.0,1235.9 L1226.5,1235.6 L1227.0,1236.2 L1227.5,1235.8 L1227.9,1236.2 L1228.4,1236.8 L1228.9,1236.7 L1229.4,1237.1 L1229.9,1235.9 L1230.3,1235.2 L1230.8,1235.8 L1231.3,1237.5 L1231.8,1236.8 L1232.3,1236.2 L1232.7,1237.1 L1233.2,1236.2 L1233.7,1237.3 L1234.2,1236.2 L1234.7,1236.2 L1235.1,1236.8 L1235.6,1235.8 L1236.1,1236.3 L1236.6,1237.5 L1237.1,1236.6 L1237.5,1235.8 L1238.0,1236.3 L1238.5,1236.4 L1239.0,1236.0 L1239.5,1236.6 L1239.9,1237.1 L1240.4,1236.4 L1240.9,1236.9 L1241.4,1236.6 L1241.9,1236.5 L1242.3,1236.0 L1242.8,1236.9 L1243.3,1237.1 L1243.8,1236.2 L1244.3,1235.9 L1244.7,1236.7 L1245.2,1236.5 L1245.7,1237.0 L1246.2,1236.7 L1246.7,1236.3 L1247.1,1235.6 L1247.6,1236.7 L1248.1,1236.5 L1248.6,1235.7 L1249.1,1235.6 L1249.5,1235.4 L1250.0,1236.7 L1250.5,1236.2 L1251.0,1234.6 L1251.5,1235.9 L1251.9,1236.0 L1252.4,1236.3 L1252.9,1236.4 L1253.4,1236.2 L1253.9,1236.8 L1254.3,1237.0 L1254.8,1236.3 L1255.3,1237.3 L1255.8,1236.3 L1256.3,1235.9 L1256.7,1236.5 L1257.2,1235.6 L1257.7,1236.2 L1258.2,1235.8 L1258.7,1236.2 L1259.1,1236.5 L1259.6,1235.0 L1260.1,1236.6 L1260.6,1236.5 L1261.1,1236.3 L1261.5,1236.8 L1262.0,1236.6 L1262.5,1236.2 L1263.0,1235.8 L1263.5,1236.8 L1263.9,1236.8 L1264.4,1235.6 L1264.9,1236.0 L1265.4,1235.7 L1265.9,1236.9 L1266.3,1236.1 L1266.8,1235.7 L1267.3,1237.2 L1267.8,1236.6 L1268.3,1236.5 L1268.7,1236.5 L1269.2,1236.3 L1269.7,1236.4 L1270.2,1236.9 L1270.7,1236.6 L1271.1,1236.1 L1271.6,1236.5 L1272.1,1237.4 L1272.6,1236.1 L1273.1,1235.7 L1273.5,1236.5 L1274.0,1235.8 L1274.5,1237.8 L1275.0,1236.7 L1275.5,1236.7 L1275.9,1236.6 L1276.4,1237.5 L1276.9,1235.8 L1277.4,1236.4 L1277.9,1235.5 L1278.3,1237.1 L1278.8,1236.4 L1279.3,1237.4 L1279.8,1236.2 L1280.3,1235.8 L1280.7,1236.0 L1281.2,1236.8 L1281.7,1235.9 L1282.2,1236.5 L1282.7,1236.0 L1283.1,1236.0 L1283.6,1236.1 L1284.1,1237.3 L1284.6,1235.8 L1285.1,1236.6 L1285.5,1236.8 L1286.0,1236.0 L1286.5,1235.6 L1287.0,1237.2 L1287.5,1237.4 L1287.9,1236.3 L1288.4,1235.7 L1288.9,1236.9 L1289.4,1236.4 L1289.9,1235.9 L1290.3,1236.2 L1290.8,1235.1 L1291.3,1235.9 L1291.8,1235.7 L1292.3,1235.7 L1292.7,1236.7 L1293.2,1236.5 L1293.7,1237.3 L1294.2,1234.9 L1294.7,1236.0 L1295.1,1235.9 L1295.6,1237.1 L1296.1,1237.0 L1296.6,1236.5 L1297.1,1236.4 L1297.5,1236.0 L1298.0,1236.1 L1298.5,1236.1 L1299.0,1235.0 L1299.5,1237.4 L1299.9,1236.8 L1300.4,1237.5 L1300.9,1237.1 L1301.4,1236.7 L1301.9,1236.9 L1302.3,1235.5 L1302.8,1235.8 L1303.3,1236.9 L1303.8,1236.2 L1304.3,1235.5 L1304.7,1236.4 L1305.2,1235.7 L1305.7,1236.4 L1306.2,1237.3 L1306.7,1235.8 L1307.1,1236.1 L1307.6,1236.7 L1308.1,1236.4 L1308.6,1236.5 L1309.1,1235.9 L1309.5,1236.2 L1310.0,1235.1 L1310.5,1236.3 L1311.0,1237.1 L1311.5,1235.8 L1311.9,1236.3 L1312.4,1236.8 L1312.9,1237.1 L1313.4,1237.0 L1313.9,1235.9 L1314.3,1236.2 L1314.8,1237.4 L1315.3,1236.1 L1315.8,1236.5 L1316.3,1235.9 L1316.7,1236.0 L1317.2,1234.7 L1317.7,1236.1 L1318.2,1235.2 L1318.7,1235.8 L1319.1,1235.8 L1319.6,1237.1 L1320.1,1236.8 L1320.6,1236.6 L1321.1,1236.1 L1321.5,1235.6 L1322.0,1236.7 L1322.5,1235.9 L1323.0,1236.3 L1323.5,1236.9 L1323.9,1236.3 L1324.4,1236.4 L1324.9,1235.8 L1325.4,1237.0 L1325.9,1236.7 L1326.3,1236.8 L1326.8,1237.3 L1327.3,1235.5 L1327.8,1236.4 L1328.3,1236.7 L1328.7,1236.6 L1329.2,1236.6 L1329.7,1236.6 L1330.2,1235.5 L1330.7,1236.3 L1331.1,1237.0 L1331.6,1236.4 L1332.1,1236.3 L1332.6,1236.9 L1333.1,1235.4 L1333.5,1236.6 L1334.0,1237.2 L1334.5,1236.2 L1335.0,1235.9 L1335.5,1236.7 L1335.9,1236.1 L1336.4,1235.9 L1336.9,1236.5 L1337.4,1235.5 L1337.9,1236.8 L1338.3,1235.7 L1338.8,1236.1 L1339.3,1236.8 L1339.8,1236.4 L1340.3,1236.5 L1340.7,1237.2 L1341.2,1237.2 L1341.7,1237.5 L1342.2,1236.1 L1342.7,1236.9 L1343.1,1235.5 L1343.6,1236.8 L1344.1,1237.1 L1344.6,1236.0 L1345.1,1236.6 L1345.5,1236.9 L1346.0,1236.3 L1346.5,1236.0 L1347.0,1237.2 L1347.5,1235.7 L1347.9,1236.5 L1348.4,1236.9 L1348.9,1236.5 L1349.4,1237.3 L1349.9,1237.2 L1350.3,1236.6 L1350.8,1237.4 L1351.3,1236.8 L1351.8,1235.7 L1352.3,1236.2 L1352.7,1236.5 L1353.2,1236.5 L1353.7,1235.4 L1354.2,1237.7 L1354.7,1235.5 L1355.1,1235.8 L1355.6,1236.6 L1356.1,1236.5 L1356.6,1237.2 L1357.1,1236.5 L1357.5,1236.6 L1358.0,1236.8 L1358.5,1236.0 L1359.0,1235.7 L1359.5,1236.1 L1359.9,1237.0 L1360.4,1236.2 L1360.9,1237.1 L1361.4,1236.1 L1361.9,1236.8 L1362.3,1236.4 L1362.8,1236.9 L1363.3,1236.4 L1363.8,1236.5 L1364.3,1236.1 L1364.7,1237.1 L1365.2,1236.4 L1365.7,1236.7 L1366.2,1236.8 L1366.7,1235.9 L1367.1,1235.9 L1367.6,1236.4 L1368.1,1237.1 L1368.6,1235.8 L1369.1,1235.8 L1369.5,1235.8 L1370.0,1236.2 L1370.5,1235.8 L1371.0,1235.9 L1371.5,1236.7 L1371.9,1235.8 L1372.4,1236.4 L1372.9,1235.7 L1373.4,1236.3 L1373.9,1236.7 L1374.3,1235.3 L1374.8,1236.4 L1375.3,1236.5 L1375.8,1236.4 L1376.3,1236.5 L1376.7,1236.6 L1377.2,1235.7 L1377.7,1236.3 L1378.2,1236.7 L1378.7,1237.1 L1379.1,1235.6 L1379.6,1236.1 L1380.1,1235.6 L1380.6,1236.4 L1381.1,1235.8 L1381.5,1235.8 L1382.0,1236.8 L1382.5,1237.6 L1383.0,1235.2 L1383.5,1237.3 L1383.9,1235.9 L1384.4,1236.8 L1384.9,1236.6 L1385.4,1237.1 L1385.9,1236.3 L1386.3,1235.9 L1386.8,1236.4 L1387.3,1236.8 L1387.8,1235.9 L1388.3,1236.6 L1388.7,1236.4 L1389.2,1236.5 L1389.7,1236.4 L1390.2,1236.7 L1390.7,1236.8 L1391.1,1236.2 L1391.6,1236.2 L1392.1,1235.2 L1392.6,1235.9 L1393.1,1235.5 L1393.5,1236.8 L1394.0,1235.8 L1394.5,1236.0 L1395.0,1236.7 L1395.5,1236.9 L1395.9,1237.1 L1396.4,1235.9 L1396.9,1236.5 L1397.4,1237.0 L1397.9,1235.9 L1398.3,1236.3 L1398.8,1235.7 L1399.3,1236.0 L1399.8,1236.8 L1400.3,1236.4 L1400.7,1236.2 L1401.2,1236.1 L1401.7,1237.2 L1402.2,1236.8 L1402.7,1235.7 L1403.1,1237.6 L1403.6,1236.2 L1404.1,1236.3 L1404.6,1236.1 L1405.1,1236.1 L1405.5,1236.7 L1406.0,1235.6 L1406.5,1236.4 L1407.0,1236.2 L1407.5,1237.4 L1407.9,1236.6 L1408.4,1236.6 L1408.9,1236.7 L1409.4,1236.7 L1409.9,1236.5 L1410.3,1235.0 L1410.8,1236.6 L1411.3,1236.2 L1411.8,1236.8 L1412.3,1236.6 L1412.7,1236.1 L1413.2,1235.9 L1413.7,1235.8 L1414.2,1236.6 L1414.7,1236.3 L1415.1,1235.9 L1415.6,1236.2 L1416.1,1236.6 L1416.6,1236.0 L1417.1,1236.3 L1417.5,1236.1 L1418.0,1235.0 L1418.5,1236.4 L1419.0,1236.4 L1419.5,1236.8 L1419.9,1237.1 L1420.4,1236.0 L1420.9,1236.7 L1421.4,1236.5 L1421.9,1236.4 L1422.3,1236.9 L1422.8,1236.9 L1423.3,1235.7 L1423.8,1237.2 L1424.3,1236.3 L1424.7,1236.0 L1425.2,1236.0 L1425.7,1236.3 L1426.2,1235.8 L1426.7,1237.0 L1427.1,1236.6 L1427.6,1235.9 L1428.1,1236.9 L1428.6,1236.5 L1429.1,1236.4 L1429.5,1236.9 L1430.0,1236.3 L1430.5,1236.2 L1431.0,1236.7 L1431.5,1235.4 L1431.9,1235.7 L1432.4,1236.7 L1432.9,1237.0 L1433.4,1235.5 L1433.9,1236.4 L1434.3,1236.0 L1434.8,1236.2 L1435.3,1236.7 L1435.8,1237.2 L1436.3,1237.4 L1436.7,1236.9 L1437.2,1236.7 L1437.7,1236.5 L1438.2,1235.4 L1438.7,1236.6 L1439.1,1235.7 L1439.6,1235.8 L1440.1,1236.5 L1440.6,1235.5 L1441.1,1237.4 L1441.5,1236.7 L1442.0,1236.6 L1442.5,1236.7 L1443.0,1236.5 L1443.5,1236.4 L1443.9,1236.8 L1444.4,1236.0 L1444.9,1236.5 L1445.4,1236.5 L1445.9,1236.8 L1446.3,1235.8 L1446.8,1236.5 L1447.3,1236.3 L1447.8,1236.7 L1448.3,1236.7 L1448.7,1236.5 L1449.2,1236.7 L1449.7,1236.6 L1450.2,1237.1 L1450.7,1236.6 L1451.1,1236.7 L1451.6,1235.9 L1452.1,1236.3 L1452.6,1236.8 L1453.1,1237.0 L1453.5,1235.9 L1454.0,1236.4 L1454.5,1236.2 L1455.0,1236.4 L1455.5,1236.1 L1455.9,1236.2 L1456.4,1236.4 L1456.9,1236.5 L1457.4,1237.0 L1457.9,1235.9 L1458.3,1235.9 L1458.8,1236.8 L1459.3,1236.7 L1459.8,1236.3 L1460.3,1235.8 L1460.7,1237.0 L1461.2,1235.8 L1461.7,1237.0 L1462.2,1236.5 L1462.7,1236.3 L1463.1,1236.3 L1463.6,1236.8 L1464.1,1236.4 L1464.6,1235.4 L1465.1,1236.0 L1465.5,1235.2 L1466.0,1236.6 L1466.5,1236.9 L1467.0,1237.0 L1467.5,1235.7 L1467.9,1237.6 L1468.4,1237.4 L1468.9,1236.3 L1469.4,1235.3 L1469.9,1235.9 L1470.3,1237.0 L1470.8,1237.5 L1471.3,1236.1 L1471.8,1235.4 L1472.3,1235.9 L1472.7,1237.5 L1473.2,1236.4 L1473.7,1235.6 L1474.2,1235.2 L1474.7,1236.7 L1475.1,1236.8 L1475.6,1236.1 L1476.1,1236.3 L1476.6,1236.4 L1477.1,1236.2 L1477.5,1236.1 L1478.0,1236.1 L1478.5,1236.1 L1479.0,1237.1 L1479.5,1236.6 L1479.9,1237.0 L1480.4,1237.4 L1480.9,1235.1 L1481.4,1236.4 L1481.9,1236.9 L1482.3,1236.3 L1482.8,1236.1 L1483.3,1236.6 L1483.8,1236.1 L1484.3,1235.9 L1484.7,1236.2 L1485.2,1236.4 L1485.7,1236.4 L1486.2,1236.9 L1486.7,1236.4 L1487.1,1236.1 L1487.6,1238.1 L1488.1,1236.3 L1488.6,1236.2 L1489.1,1236.3 L1489.5,1236.0 L1490.0,1235.5 L1490.5,1236.5 L1491.0,1237.2 L1491.5,1235.4 L1491.9,1236.0 L1492.4,1236.6 L1492.9,1236.0 L1493.4,1236.7 L1493.9,1236.4 L1494.3,1235.8 L1494.8,1236.3 L1495.3,1236.1 L1495.8,1236.7 L1496.3,1235.0 L1496.7,1236.6 L1497.2,1237.1 L1497.7,1236.5 L1498.2,1236.5 L1498.7,1236.1 L1499.1,1236.6 L1499.6,1236.3 L1500.1,1235.7 L1500.6,1235.7 L1501.1,1235.1 L1501.5,1236.6 L1502.0,1236.5 L1502.5,1237.0 L1503.0,1236.5 L1503.5,1236.8 L1503.9,1235.7 L1504.4,1235.4 L1504.9,1236.1 L1505.4,1236.2 L1505.9,1236.6 L1506.3,1236.3 L1506.8,1236.3 L1507.3,1236.4 L1507.8,1236.5 L1508.3,1236.5 L1508.7,1236.6 L1509.2,1236.1 L1509.7,1236.3 L1510.2,1235.6 L1510.7,1235.8 L1511.1,1236.2 L1511.6,1236.6 L1512.1,1236.0 L1512.6,1235.6 L1513.1,1236.9 L1513.5,1235.9 L1514.0,1235.4 L1514.5,1235.9 L1515.0,1235.7 L1515.5,1235.1 L1515.9,1236.2 L1516.4,1237.3 L1516.9,1236.0 L1517.4,1235.9 L1517.9,1237.0 L1518.3,1236.4 L1518.8,1236.3 L1519.3,1237.1 L1519.8,1235.7 L1520.3,1236.4 L1520.7,1236.7 L1521.2,1236.5 L1521.7,1235.7 L1522.2,1235.9 L1522.7,1237.4 L1523.1,1236.3 L1523.6,1236.2 L1524.1,1237.0 L1524.6,1235.4 L1525.1,1236.4 L1525.5,1235.4 L1526.0,1237.2 L1526.5,1235.8 L1527.0,1236.5 L1527.5,1235.9 L1527.9,1236.5 L1528.4,1236.6 L1528.9,1236.4 L1529.4,1236.2 L1529.9,1236.5 L1530.3,1236.3 L1530.8,1236.1 L1531.3,1236.7 L1531.8,1236.9 L1532.3,1235.7 L1532.7,1235.8 L1533.2,1236.0 L1533.7,1236.6 L1534.2,1235.6 L1534.7,1237.3 L1535.1,1236.4 L1535.6,1236.5 L1536.1,1236.9 L1536.6,1236.0 L1537.1,1236.6 L1537.5,1236.6 L1538.0,1237.1 L1538.5,1235.8 L1539.0,1237.2 L1539.5,1236.7 L1539.9,1236.5 L1540.4,1237.0 L1540.9,1236.3 L1541.4,1236.3 L1541.9,1236.9 L1542.3,1236.2 L1542.8,1237.0 L1543.3,1237.2 L1543.8,1236.5 L1544.3,1236.5 L1544.7,1236.0" fill="none" stroke="#FF6B6B" stroke-opacity="0.8" stroke-width="2.25" stroke-linejoin="round"/>
<path d="M107.0,1283.2 L107.5,1284.1 L108.0,1283.8 L108.4,1283.7 L108.9,1284.5 L109.4,1284.0 L109.9,1283.8 L110.4,1285.0 L110.8,1283.7 L111.3,1283.3 L111.8,1283.2 L112.3,1283.7 L112.8,1284.4 L113.2,1284.5 L113.7,1284.6 L114.2,1285.0 L114.7,1284.9 L115.2,1284.4 L115.6,1284.7 L116.1,1284.4 L116.6,1283.7 L117.1,1284.5 L117.6,1284.1 L118.0,1283.9 L118.5,1285.1 L119.0,1284.5 L119.5,1283.8 L120.0,1284.0 L120.4,1285.3 L120.9,1283.9 L121.4,1284.4 L121.9,1284.4 L122.4,1284.3 L122.8,1284.4 L123.3,1283.8 L123.8,1283.8 L124.3,1283.9 L124.8,1283.8 L125.2,1284.5 L125.7,1284.9 L126.2,1283.5 L126.7,1284.3 L127.2,1283.5 L127.6,1283.6 L128.1,1283.9 L128.6,1284.1 L129.1,1283.8 L129.6,1282.6 L130.0,1284.8 L130.5,1283.9 L131.0,1283.7 L131.5,1284.4 L132.0,1283.7 L132.4,1283.2 L132.9,1284.3 L133.4,1284.3 L133.9,1283.6 L134.4,1284.5 L134.8,1284.2 L135.3,1283.4 L135.8,1285.0 L136.3,1284.2 L136.8,1283.4 L137.2,1284.3 L137.7,1284.1 L138.2,1284.6 L138.7,1283.3 L139.2,1284.6 L139.6,1284.6 L140.1,1284.4 L140.6,1284.4 L141.1,1284.8 L141.6,1284.4 L142.0,1284.1 L142.5,1283.6 L143.0,1284.7 L143.5,1284.6 L144.0,1284.2 L144.4,1284.1 L144.9,1284.4 L145.4,1282.6 L145.9,1284.2 L146.4,1282.6 L146.8,1284.2 L147.3,1284.6 L147.8,1285.1 L148.3,1283.8 L148.8,1284.3 L149.2,1284.0 L149.7,1282.8 L150.2,1284.4 L150.7,1284.0 L151.2,1284.1 L151.6,1283.5 L152.1,1284.0 L152.6,1284.1 L153.1,1284.7 L153.6,1284.2 L154.0,1286.0 L154.5,1283.8 L155.0,1283.9 L155.5,1284.0 L156.0,1283.6 L156.4,1284.9 L156.9,1284.4 L157.4,1283.3 L157.9,1284.1 L158.4,1284.7 L158.8,1283.2 L159.3,1284.1 L159.8,1283.9 L160.3,1285.3 L160.8,1284.3 L161.2,1283.8 L161.7,1283.7 L162.2,1285.1 L162.7,1283.8 L163.2,1285.3 L163.6,1283.2 L164.1,1283.9 L164.6,1283.9 L165.1,1283.6 L165.6,1283.9 L166.0,1284.4 L166.5,1283.7 L167.0,1283.2 L167.5,1284.8 L168.0,1284.8 L168.4,1283.6 L168.9,1284.2 L169.4,1282.6 L169.9,1284.6 L170.4,1283.3 L170.8,1283.7 L171.3,1285.2 L171.8,1283.3 L172.3,1284.0 L172.8,1283.4 L173.2,1283.0 L173.7,1283.4 L174.2,1284.2 L174.7,1283.3 L175.2,1283.7 L175.6,1284.4 L176.1,1283.9 L176.6,1283.3 L177.1,1284.9 L177.6,1284.1 L178.0,1284.8 L178.5,1283.4 L179.0,1285.0 L179.5,1283.3 L180.0,1283.1 L180.4,1283.8 L180.9,1283.8 L181.4,1284.2 L181.9,1283.7 L182.4,1284.4 L182.8,1284.8 L183.3,1283.7 L183.8,1283.3 L184.3,1283.8 L184.8,1284.5 L185.2,1284.5 L185.7,1283.8 L186.2,1283.5 L186.7,1284.0 L187.2,1284.6 L187.6,1283.6 L188.1,1284.8 L188.6,1284.2 L189.1,1284.2 L189.6,1283.7 L190.0,1284.8 L190.5,1284.1 L191.0,1283.2 L191.5,1284.5 L192.0,1283.8 L192.4,1284.6 L192.9,1284.1 L193.4,1283.7 L193.9,1284.1 L194.4,1283.8 L194.8,1283.6 L195.3,1284.0 L195.8,1284.5 L196.3,1284.1 L196.8,1284.0 L197.2,1283.7 L197.7,1284.3 L198.2,1284.2 L198.7,1284.6 L199.2,1284.2 L199.6,1285.2 L200.1,1283.2 L200.6,1284.0 L201.1,1284.3 L201.6,1284.5 L202.0,1283.2 L202.5,1283.3 L203.0,1284.0 L203.5,1284.6 L204.0,1284.6 L204.4,1283.2 L204.9,1284.1 L205.4,1284.7 L205.9,1284.0 L206.4,1283.5 L206.8,1283.6 L207.3,1283.3 L207.8,1284.7 L208.3,1283.9 L208.8,1283.8 L209.2,1283.5 L209.7,1284.0 L210.2,1283.5 L210.7,1283.5 L211.2,1284.0 L211.6,1283.9 L212.1,1284.3 L212.6,1284.1 L213.1,1284.7 L213.6,1284.0 L214.0,1284.2 L214.5,1284.2 L215.0,1283.6 L215.5,1284.7 L216.0,1283.7 L216.4,1283.1 L216.9,1284.7 L217.4,1284.4 L217.9,1283.7 L218.4,1284.6 L218.8,1284.6 L219.3,1284.4 L219.8,1283.4 L220.3,1284.1 L220.8,1283.5 L221.2,1283.7 L221.7,1283.7 L222.2,1283.6 L222.7,1284.3 L223.2,1283.6 L223.6,1284.4 L224.1,1284.1 L224.6,1283.7 L225.1,1284.1 L225.6,1284.4 L226.0,1284.7 L226.5,1283.9 L227.0,1285.0 L227.5,1284.3 L228.0,1284.7 L228.4,1283.3 L228.9,1283.4 L229.4,1284.7 L229.9,1283.9 L230.4,1284.3 L230.8,1284.7 L231.3,1283.2 L231.8,1284.3 L232.3,1285.1 L232.8,1284.5 L233.2,1284.1 L233.7,1284.3 L234.2,1284.0 L234.7,1284.5 L235.2,1284.8 L235.6,1283.9 L236.1,1284.3 L236.6,1284.2 L237.1,1284.4 L237.6,1284.5 L238.0,1283.4 L238.5,1284.7 L239.0,1284.5 L239.5,1283.4 L240.0,1283.9 L240.4,1283.2 L240.9,1283.9 L241.4,1284.2 L241.9,1283.4 L242.4,1283.6 L242.8,1283.5 L243.3,1283.6 L243.8,1283.6 L244.3,1283.4 L244.8,1284.3 L245.2,1283.9 L245.7,1283.6 L246.2,1284.6 L246.7,1283.7 L247.2,1284.5 L247.6,1283.3 L248.1,1284.8 L248.6,1283.8 L249.1,1283.5 L249.6,1284.3 L250.0,1283.3 L250.5,1283.4 L251.0,1284.2 L251.5,1283.8 L252.0,1284.3 L252.4,1284.1 L252.9,1284.2 L253.4,1284.1 L253.9,1284.4 L254.4,1284.0 L254.8,1284.6 L255.3,1284.6 L255.8,1282.9 L256.3,1283.1 L256.8,1284.9 L257.2,1283.8 L257.7,1284.1 L258.2,1284.0 L258.7,1284.2 L259.2,1285.3 L259.6,1283.6 L260.1,1284.1 L260.6,1284.0 L261.1,1283.4 L261.6,1283.5 L262.0,1283.9 L262.5,1284.0 L263.0,1284.2 L263.5,1282.9 L264.0,1283.2 L264.4,1284.9 L264.9,1283.9 L265.4,1284.5 L265.9,1283.8 L266.4,1283.6 L266.8,1285.2 L267.3,1283.3 L267.8,1283.5 L268.3,1284.4 L268.8,1284.0 L269.2,1283.1 L269.7,1284.1 L270.2,1284.4 L270.7,1283.2 L271.2,1283.7 L271.6,1284.5 L272.1,1285.1 L272.6,1282.7 L273.1,1283.6 L273.6,1284.0 L274.0,1283.5 L274.5,1283.5 L275.0,1283.8 L275.5,1284.3 L276.0,1283.4 L276.4,1284.5 L276.9,1284.5 L277.4,1284.5 L277.9,1284.9 L278.4,1283.7 L278.8,1284.0 L279.3,1284.6 L279.8,1284.7 L280.3,1284.5 L280.8,1283.8 L281.2,1283.8 L281.7,1283.3 L282.2,1283.8 L282.7,1283.5 L283.2,1283.8 L283.6,1283.8 L284.1,1284.5 L284.6,1284.5 L285.1,1284.0 L285.6,1283.4 L286.0,1284.0 L286.5,1284.3 L287.0,1284.5 L287.5,1284.1 L288.0,1284.5 L288.4,1283.7 L288.9,1284.4 L289.4,1284.4 L289.9,1283.8 L290.4,1283.6 L290.8,1284.7 L291.3,1283.5 L291.8,1284.4 L292.3,1283.9 L292.8,1283.8 L293.2,1283.9 L293.7,1283.8 L294.2,1284.0 L294.7,1285.0 L295.2,1284.8 L295.6,1284.0 L296.1,1284.3 L296.6,1284.5 L297.1,1283.8 L297.6,1285.0 L298.0,1284.0 L298.5,1284.4 L299.0,1283.5 L299.5,1283.4 L300.0,1283.5 L300.4,1283.7 L300.9,1284.6 L301.4,1283.9 L301.9,1284.5 L302.4,1283.8 L302.8,1283.5 L303.3,1284.1 L303.8,1283.8 L304.3,1283.1 L304.8,1284.1 L305.2,1284.7 L305.7,1283.9 L306.2,1283.4 L306.7,1283.6 L307.2,1283.4 L307.6,1283.9 L308.1,1283.5 L308.6,1284.0 L309.1,1284.1 L309.6,1284.8 L310.0,1283.4 L310.5,1282.9 L311.0,1284.9 L311.5,1284.3 L312.0,1283.8 L312.4,1284.3 L312.9,1283.5 L313.4,1283.8 L313.9,1284.4 L314.4,1283.9 L314.8,1284.1 L315.3,1284.3 L315.8,1284.1 L316.3,1283.9 L316.8,1284.3 L317.2,1284.8 L317.7,1284.7 L318.2,1283.5 L318.7,1284.5 L319.2,1283.0 L319.6,1283.3 L320.1,1284.3 L320.6,1284.3 L321.1,1284.8 L321.6,1283.1 L322.0,1284.6 L322.5,1283.7 L323.0,1283.8 L323.5,1284.3 L324.0,1284.8 L324.4,1283.5 L324.9,1283.1 L325.4,1283.7 L325.9,1284.0 L326.4,1284.7 L326.8,1284.2 L327.3,1283.9 L327.8,1283.8 L328.3,1283.8 L328.8,1284.6 L329.2,1283.1 L329.7,1283.6 L330.2,1283.6 L330.7,1284.6 L331.2,1284.1 L331.6,1283.7 L332.1,1284.4 L332.6,1285.1 L333.1,1284.6 L333.6,1283.3 L334.0,1283.9 L334.5,1284.7 L335.0,1283.0 L335.5,1283.4 L336.0,1283.8 L336.4,1284.3 L336.9,1283.6 L337.4,1284.1 L337.9,1283.9 L338.4,1284.2 L338.8,1283.4 L339.3,1282.8 L339.8,1282.8 L340.3,1284.1 L340.8,1284.6 L341.2,1284.3 L341.7,1283.1 L342.2,1283.1 L342.7,1283.9 L343.2,1283.5 L343.6,1283.0 L344.1,1283.7 L344.6,1283.6 L345.1,1284.0 L345.6,1284.2 L346.0,1284.1 L346.5,1284.1 L347.0,1284.3 L347.5,1284.0 L348.0,1283.8 L348.4,1283.8 L348.9,1284.7 L349.4,1283.9 L349.9,1284.5 L350.4,1284.9 L350.8,1285.0 L351.3,1282.8 L351.8,1284.1 L352.3,1284.6 L352.8,1283.8 L353.2,1283.6 L353.7,1283.2 L354.2,1283.7 L354.7,1284.0 L355.2,1283.0 L355.6,1284.0 L356.1,1283.6 L356.6,1284.0 L357.1,1283.4 L357.6,1284.1 L358.0,1284.1 L358.5,1283.6 L359.0,1283.7 L359.5,1284.5 L360.0,1284.4 L360.4,1283.6 L360.9,1284.3 L361.4,1283.4 L361.9,1283.7 L362.4,1282.4 L362.8,1283.7 L363.3,1284.4 L363.8,1283.8 L364.3,1284.3 L364.8,1283.7 L365.2,1284.2 L365.7,1283.9 L366.2,1283.5 L366.7,1285.2 L367.2,1283.6 L367.6,1283.3 L368.1,1284.1 L368.6,1284.3 L369.1,1284.2 L369.6,1284.0 L370.0,1284.3 L370.5,1284.5 L371.0,1284.4 L371.5,1283.3 L372.0,1285.0 L372.4,1284.0 L372.9,1282.9 L373.4,1284.5 L373.9,1283.9 L374.4,1284.2 L374.8,1285.1 L375.3,1283.7 L375.8,1283.7 L376.3,1283.5 L376.8,1284.1 L377.2,1284.4 L377.7,1284.2 L378.2,1284.1 L378.7,1282.9 L379.2,1284.2 L379.6,1284.6 L380.1,1283.7 L380.6,1283.7 L381.1,1283.5 L381.6,1284.2 L382.0,1283.2 L382.5,1285.1 L383.0,1283.9 L383.5,1283.7 L384.0,1283.4 L384.4,1284.3 L384.9,1284.6 L385.4,1283.7 L385.9,1284.1 L386.4,1284.2 L386.8,1284.6 L387.3,1284.4 L387.8,1284.7 L388.3,1283.2 L388.8,1285.5 L389.2,1283.8 L389.7,1283.4 L390.2,1283.5 L390.7,1284.2 L391.2,1284.4 L391.6,1285.4 L392.1,1284.7 L392.6,1283.6 L393.1,1283.8 L393.6,1283.8 L394.0,1283.7 L394.5,1283.9 L395.0,1283.7 L395.5,1284.7 L396.0,1284.2 L396.4,1284.4 L396.9,1283.9 L397.4,1283.4 L397.9,1284.3 L398.4,1283.8 L398.8,1285.1 L399.3,1284.7 L399.8,1283.4 L400.3,1283.5 L400.8,1283.7 L401.2,1283.9 L401.7,1284.7 L402.2,1283.9 L402.7,1284.3 L403.2,1283.9 L403.6,1283.9 L404.1,1284.7 L404.6,1284.0 L405.1,1285.1 L405.6,1284.0 L406.0,1284.2 L406.5,1284.2 L407.0,1284.4 L407.5,1285.1 L408.0,1283.7 L408.4,1283.7 L408.9,1283.5 L409.4,1285.0 L409.9,1284.3 L410.4,1284.3 L410.8,1284.3 L411.3,1283.0 L411.8,1284.5 L412.3,1284.1 L412.8,1284.2 L413.2,1284.1 L413.7,1284.0 L414.2,1284.0 L414.7,1283.7 L415.2,1283.9 L415.6,1284.4 L416.1,1282.9 L416.6,1284.5 L417.1,1284.4 L417.6,1283.4 L418.0,1284.3 L418.5,1284.2 L419.0,1283.7 L419.5,1285.0 L420.0,1284.1 L420.4,1284.0 L420.9,1283.3 L421.4,1285.2 L421.9,1284.1 L422.4,1284.2 L422.8,1283.9 L423.3,1285.2 L423.8,1283.9 L424.3,1284.9 L424.8,1284.6 L425.2,1284.6 L425.7,1284.4 L426.2,1284.7 L426.7,1284.0 L427.2,1282.9 L427.6,1282.6 L428.1,1284.6 L428.6,1282.9 L429.1,1284.8 L429.6,1285.7 L430.0,1283.0 L430.5,1284.4 L431.0,1284.3 L431.5,1283.6 L432.0,1282.9 L432.4,1284.0 L432.9,1285.0 L433.4,1284.0 L433.9,1284.0 L434.4,1284.1 L434.8,1284.1 L435.3,1284.2 L435.8,1285.3 L436.3,1283.5 L436.8,1283.0 L437.2,1284.5 L437.7,1283.7 L438.2,1283.8 L438.7,1283.3 L439.2,1283.9 L439.6,1283.8 L440.1,1284.3 L440.6,1283.8 L441.1,1283.2 L441.6,1284.3 L442.0,1284.0 L442.5,1283.0 L443.0,1283.8 L443.5,1284.4 L444.0,1284.0 L444.4,1283.9 L444.9,1284.4 L445.4,1283.7 L445.9,1283.6 L446.4,1284.3 L446.8,1283.9 L447.3,1283.7 L447.8,1284.2 L448.3,1284.2 L448.8,1284.5 L449.2,1284.6 L449.7,1284.1 L450.2,1284.0 L450.7,1283.5 L451.2,1284.1 L451.6,1283.8 L452.1,1284.5 L452.6,1284.5 L453.1,1284.4 L453.6,1284.0 L454.0,1284.2 L454.5,1284.9 L455.0,1285.0 L455.5,1283.7 L456.0,1282.5 L456.4,1284.4 L456.9,1283.2 L457.4,1284.1 L457.9,1284.3 L458.4,1284.9 L458.8,1283.9 L459.3,1284.0 L459.8,1283.7 L460.3,1284.2 L460.8,1283.4 L461.2,1284.3 L461.7,1284.2 L462.2,1284.8 L462.7,1283.9 L463.2,1284.2 L463.6,1284.1 L464.1,1284.0 L464.6,1283.5 L465.1,1283.7 L465.6,1284.1 L466.0,1284.3 L466.5,1284.6 L467.0,1283.7 L467.5,1284.2 L468.0,1284.4 L468.4,1284.5 L468.9,1284.2 L469.4,1284.2 L469.9,1283.8 L470.4,1284.1 L470.8,1283.9 L471.3,1283.1 L471.8,1283.6 L472.3,1282.7 L472.8,1284.3 L473.2,1284.5 L473.7,1283.8 L474.2,1284.1 L474.7,1284.1 L475.2,1283.9 L475.6,1284.8 L476.1,1283.9 L476.6,1284.2 L477.1,1284.0 L477.6,1285.1 L478.0,1283.1 L478.5,1284.1 L479.0,1289.5 L480.5,1257.5 L482.3,1307.5 L483.9,1251.6 L485.8,1308.2 L487.4,1251.4 L489.1,1297.0 L490.7,1258.1 L492.8,1320.9 L494.9,1273.4 L496.6,1295.6 L498.2,1275.0 L499.7,1297.7 L501.2,1274.5 L502.5,1292.9 L503.7,1274.3 L504.9,1293.3 L506.2,1277.8 L507.8,1291.6 L509.3,1272.2 L510.6,1309.3 L512.5,1259.7 L514.0,1309.9 L515.9,1269.7 L517.6,1308.5 L519.2,1279.8 L520.8,1308.6 L522.6,1283.3 L523.1,1283.4 L523.5,1285.3 L524.0,1284.8 L524.5,1284.4 L525.0,1283.5 L525.5,1283.7 L525.9,1283.6 L526.4,1284.1 L526.9,1284.1 L527.4,1285.1 L527.9,1283.7 L528.3,1283.3 L528.8,1284.3 L529.3,1283.2 L529.8,1284.1 L530.3,1284.8 L530.7,1284.6 L531.2,1284.4 L531.7,1284.7 L532.2,1283.3 L532.7,1283.3 L533.1,1283.8 L533.6,1283.8 L534.1,1284.2 L534.6,1283.5 L535.1,1283.1 L535.5,1283.6 L536.0,1284.3 L536.5,1284.0 L537.0,1283.6 L537.5,1284.2 L537.9,1284.3 L538.4,1283.6 L538.9,1284.8 L539.4,1283.5 L539.9,1279.5 L541.5,1311.2 L543.1,1272.9 L545.0,1306.8 L546.9,1266.7 L548.4,1306.1 L550.0,1277.7 L551.7,1302.1 L553.0,1277.0 L554.3,1297.0 L555.6,1276.6 L556.9,1297.7 L558.4,1283.1 L559.9,1291.8 L561.5,1279.7 L563.1,1295.2 L564.7,1277.3 L566.1,1297.1 L567.8,1278.7 L569.0,1294.2 L570.4,1278.7 L571.8,1292.4 L573.3,1276.7 L575.0,1297.9 L576.4,1275.8 L577.8,1296.5 L579.0,1279.1 L580.5,1294.2 L582.0,1279.9 L583.4,1293.8 L584.7,1278.3 L586.0,1292.3 L587.3,1275.2 L588.9,1292.2 L590.6,1280.6 L592.0,1287.6 L593.3,1259.3 L595.3,1296.7 L597.4,1256.1 L599.2,1296.3 L601.3,1276.4 L603.0,1287.0 L604.8,1282.5 L606.3,1283.6 L606.7,1282.9 L607.2,1284.5 L607.7,1283.4 L608.2,1284.2 L608.7,1283.3 L609.1,1285.5 L609.6,1283.6 L610.1,1284.5 L610.6,1284.0 L611.1,1284.1 L611.5,1283.9 L612.0,1285.7 L612.5,1286.2 L613.0,1285.0 L613.5,1285.6 L613.9,1284.9 L614.4,1284.7 L614.9,1286.4 L615.4,1285.8 L615.9,1284.9 L616.3,1285.5 L616.8,1285.6 L617.3,1285.6 L617.8,1285.7 L618.3,1285.5 L618.7,1285.9 L619.2,1285.8 L619.7,1285.9 L620.2,1285.7 L620.7,1286.9 L621.1,1285.7 L621.6,1285.7 L622.1,1285.8 L622.6,1285.6 L623.1,1284.7 L623.5,1285.8 L624.0,1284.5 L624.5,1284.7 L625.0,1285.2 L625.5,1284.7 L625.9,1284.3 L626.4,1284.8 L628.3,1267.2 L629.8,1306.7 L631.5,1258.0 L633.3,1309.4 L635.1,1267.9 L637.1,1315.9 L638.7,1261.7 L640.2,1313.4 L641.8,1266.5 L643.3,1284.6 L645.2,1284.7 L645.7,1284.4 L646.2,1285.7 L646.7,1284.2 L647.1,1283.9 L647.6,1285.2 L648.1,1284.3 L648.6,1284.7 L649.1,1284.8 L649.5,1284.4 L650.0,1285.3 L650.5,1284.7 L651.0,1285.1 L651.5,1284.3 L651.9,1285.6 L652.4,1284.4 L652.9,1285.0 L653.4,1285.2 L653.9,1285.5 L654.3,1285.8 L654.8,1285.4 L655.3,1285.4 L655.8,1285.2 L656.3,1285.5 L656.7,1285.2 L657.2,1286.2 L657.7,1285.7 L658.2,1286.6 L658.7,1285.6 L659.1,1286.2 L659.6,1284.9 L660.1,1286.4 L660.6,1286.8 L661.1,1286.2 L661.5,1287.2 L662.0,1286.9 L662.5,1285.2 L663.0,1285.8 L663.5,1285.3 L663.9,1286.1 L664.4,1286.0 L664.9,1285.8 L665.4,1286.5 L665.9,1287.2 L666.3,1286.2 L666.8,1286.5 L667.3,1286.9 L667.8,1286.3 L668.3,1286.1 L668.7,1285.9 L669.2,1286.2 L669.7,1285.8 L670.2,1285.3 L670.7,1286.0 L671.1,1285.9 L671.6,1286.4 L672.1,1285.0 L672.6,1286.0 L673.1,1285.9 L673.5,1286.3 L674.0,1286.3 L674.5,1285.8 L675.0,1286.9 L675.5,1286.6 L675.9,1286.2 L676.4,1285.6 L676.9,1284.7 L677.4,1285.6 L677.9,1285.6 L678.3,1286.2 L678.8,1286.0 L679.3,1285.7 L679.8,1285.2 L680.3,1285.3 L680.7,1286.1 L681.2,1285.2 L681.7,1285.6 L682.2,1286.2 L682.7,1286.0 L683.1,1286.1 L683.6,1285.5 L684.1,1285.3 L684.6,1283.9 L685.1,1284.6 L685.5,1285.4 L686.0,1285.1 L686.5,1285.4 L687.0,1285.3 L687.5,1286.3 L687.9,1286.1 L688.4,1285.3 L688.9,1284.7 L689.4,1285.0 L689.9,1285.3 L690.3,1285.8 L690.8,1284.9 L691.3,1285.8 L691.8,1284.6 L692.3,1284.9 L692.7,1286.2 L693.2,1284.9 L693.7,1286.0 L694.2,1286.1 L694.7,1284.2 L695.1,1285.0 L695.6,1285.0 L696.1,1285.8 L696.6,1286.1 L697.1,1285.1 L697.5,1285.5 L698.0,1284.7 L698.5,1284.9 L699.0,1285.2 L699.5,1284.8 L699.9,1283.8 L700.4,1285.1 L700.9,1285.4 L701.4,1254.9 L702.9,1290.3 L704.6,1264.6 L706.5,1299.1 L708.4,1257.7 L709.9,1304.9 L711.9,1269.1 L713.5,1284.5 L713.9,1284.2 L714.4,1283.5 L714.9,1284.0 L715.4,1284.3 L715.9,1284.1 L716.3,1284.2 L716.8,1285.1 L717.3,1285.2 L717.8,1283.9 L718.3,1283.6 L718.7,1284.2 L719.2,1284.9 L719.7,1283.6 L720.2,1283.7 L720.7,1283.5 L721.1,1284.9 L721.6,1284.0 L722.1,1284.2 L722.6,1285.2 L723.1,1284.6 L723.5,1284.1 L724.0,1283.6 L724.5,1284.9 L725.0,1284.4 L725.5,1284.2 L725.9,1284.5 L726.4,1284.0 L726.9,1284.5 L727.4,1284.5 L727.9,1283.8 L728.3,1284.6 L728.8,1284.8 L729.3,1285.2 L729.8,1285.0 L730.3,1285.6 L730.7,1285.0 L731.2,1284.5 L731.7,1284.7 L732.2,1284.5 L732.7,1284.0 L733.1,1284.4 L733.6,1284.7 L734.1,1284.0 L734.6,1284.6 L735.1,1284.9 L735.5,1285.5 L736.0,1284.6 L736.5,1284.5 L737.0,1284.3 L737.5,1283.8 L737.9,1285.0 L738.4,1284.4 L738.9,1284.3 L739.4,1284.1 L739.9,1285.5 L740.3,1285.5 L740.8,1285.0 L741.3,1284.6 L741.8,1284.1 L742.3,1283.6 L742.7,1284.4 L743.2,1284.4 L743.7,1285.6 L744.2,1284.7 L744.7,1284.0 L745.1,1285.6 L745.6,1285.2 L746.1,1284.7 L746.6,1285.1 L747.1,1285.3 L747.5,1284.7 L748.0,1284.5 L748.5,1285.0 L749.0,1285.3 L749.5,1285.3 L749.9,1284.4 L750.4,1284.5 L750.9,1285.0 L751.4,1284.7 L751.9,1284.9 L752.3,1286.1 L752.8,1284.2 L753.3,1284.9 L753.8,1284.5 L754.3,1285.2 L754.7,1286.1 L755.2,1285.3 L755.7,1285.9 L756.2,1287.4 L758.1,1278.8 L759.9,1316.8 L761.3,1275.0 L762.8,1310.0 L764.3,1264.4 L766.1,1299.3 L767.6,1271.4 L769.4,1312.1 L771.2,1280.8 L773.1,1284.5 L773.6,1283.8 L774.1,1283.2 L774.6,1284.5 L775.1,1284.6 L775.5,1284.2 L776.0,1284.0 L776.5,1284.0 L777.0,1284.0 L777.5,1283.6 L777.9,1284.3 L778.4,1284.4 L778.9,1283.7 L779.4,1284.3 L779.9,1284.8 L780.3,1284.9 L780.8,1285.3 L781.3,1285.5 L781.8,1283.3 L782.3,1283.8 L782.7,1283.8 L783.2,1284.3 L783.7,1284.9 L784.2,1283.3 L784.7,1284.4 L785.1,1284.2 L785.6,1284.8 L786.1,1284.3 L786.6,1283.7 L787.1,1284.2 L787.5,1283.8 L788.0,1284.0 L788.5,1283.9 L789.0,1284.1 L789.5,1284.3 L789.9,1284.3 L790.4,1284.7 L790.9,1284.5 L791.4,1283.1 L791.9,1284.4 L792.3,1283.9 L792.8,1284.6 L793.3,1283.9 L793.8,1283.6 L794.3,1283.3 L794.7,1284.0 L795.2,1284.5 L795.7,1283.6 L796.2,1284.3 L796.7,1283.9 L797.1,1283.0 L797.6,1284.0 L798.1,1284.0 L798.6,1284.4 L799.1,1283.2 L799.5,1284.5 L800.0,1284.1 L800.5,1284.6 L801.0,1283.9 L801.5,1283.8 L801.9,1284.0 L802.4,1284.1 L802.9,1284.7 L803.4,1283.7 L803.9,1284.0 L804.3,1283.6 L804.8,1283.9 L805.3,1284.3 L805.8,1284.9 L806.3,1287.6 L808.1,1269.7 L809.5,1323.4 L811.4,1253.2 L813.4,1323.7 L815.0,1257.8 L816.9,1321.0 L818.9,1261.2 L820.5,1319.9 L821.9,1284.3 L822.3,1283.4 L822.8,1283.9 L823.3,1282.4 L823.8,1284.0 L824.3,1284.5 L824.7,1283.4 L825.2,1283.9 L825.7,1283.2 L826.2,1283.6 L826.7,1282.7 L827.1,1284.1 L827.6,1283.3 L828.1,1283.9 L828.6,1283.4 L829.1,1282.5 L829.5,1283.0 L830.0,1283.6 L830.5,1282.7 L831.0,1283.9 L831.5,1284.1 L831.9,1282.7 L832.4,1283.3 L832.9,1283.7 L833.4,1284.4 L833.9,1283.6 L834.3,1282.8 L834.8,1283.7 L835.3,1283.9 L835.8,1283.4 L836.3,1284.0 L836.7,1283.1 L837.2,1283.4 L837.7,1284.9 L838.2,1284.1 L838.7,1284.0 L839.1,1283.5 L839.6,1283.5 L840.1,1285.1 L840.6,1284.0 L841.1,1283.8 L841.5,1283.0 L842.0,1284.5 L842.5,1284.3 L843.0,1283.9 L843.5,1283.7 L843.9,1282.9 L844.4,1283.0 L844.9,1284.0 L845.4,1283.6 L845.9,1283.1 L846.3,1283.6 L846.8,1284.5 L847.3,1283.8 L847.8,1283.5 L848.3,1283.4 L848.7,1283.3 L849.2,1284.0 L849.7,1284.2 L850.2,1284.7 L850.7,1284.2 L851.1,1283.2 L851.6,1283.5 L852.1,1284.4 L852.6,1283.0 L853.1,1283.6 L853.5,1283.8 L854.0,1283.4 L854.5,1283.6 L855.0,1283.6 L855.5,1283.6 L855.9,1284.1 L856.4,1282.7 L856.9,1284.2 L857.4,1284.7 L857.9,1284.0 L858.3,1284.0 L858.8,1283.4 L859.3,1283.6 L859.8,1283.4 L860.3,1284.1 L860.7,1283.9 L861.2,1282.8 L861.7,1284.1 L862.2,1283.5 L862.7,1283.7 L863.1,1284.8 L863.6,1283.6 L864.1,1284.0 L864.6,1283.4 L865.1,1283.8 L865.5,1283.4 L866.0,1283.4 L866.5,1284.6 L867.0,1284.1 L868.5,1317.7 L870.0,1251.4 L871.6,1312.1 L873.6,1255.3 L875.6,1307.9 L877.1,1264.2 L879.1,1311.1 L880.9,1255.4 L882.4,1286.0 L882.8,1286.5 L883.3,1284.5 L883.8,1285.5 L884.3,1286.1 L884.8,1285.3 L885.2,1286.3 L885.7,1286.0 L886.2,1285.9 L886.7,1284.8 L887.2,1284.4 L887.6,1285.1 L888.1,1285.2 L888.6,1285.3 L889.1,1285.7 L889.6,1284.9 L890.0,1284.5 L890.5,1286.0 L891.0,1285.5 L891.5,1284.6 L892.0,1284.8 L892.4,1282.8 L892.9,1284.2 L893.4,1284.8 L893.9,1285.1 L894.4,1284.6 L894.8,1284.6 L895.3,1284.3 L895.8,1284.2 L896.3,1285.5 L896.8,1285.7 L897.2,1285.1 L897.7,1284.3 L898.2,1283.2 L898.7,1284.8 L899.2,1283.8 L899.6,1284.2 L900.1,1284.5 L900.6,1285.2 L901.1,1283.9 L901.6,1284.2 L902.0,1284.8 L902.5,1284.9 L903.0,1284.3 L903.5,1284.6 L904.0,1284.8 L904.4,1284.1 L904.9,1283.4 L905.4,1284.3 L905.9,1285.2 L906.4,1283.7 L906.8,1283.9 L907.3,1284.9 L907.8,1285.2 L908.3,1284.6 L908.8,1284.6 L909.2,1283.5 L909.7,1283.7 L910.2,1284.0 L910.7,1283.4 L911.2,1284.9 L911.6,1283.8 L912.1,1285.7 L912.6,1283.7 L913.1,1284.6 L913.6,1284.1 L914.0,1284.3 L914.5,1285.0 L915.0,1283.8 L915.5,1284.2 L916.0,1285.0 L916.4,1283.9 L916.9,1285.9 L917.4,1283.6 L917.9,1284.8 L918.4,1284.5 L918.8,1284.7 L919.3,1284.4 L919.8,1284.2 L920.3,1284.6 L920.8,1284.1 L921.2,1283.9 L921.7,1285.4 L922.2,1283.4 L922.7,1284.8 L923.2,1284.1 L923.6,1283.3 L924.1,1283.1 L924.6,1283.9 L925.1,1284.7 L925.6,1285.1 L926.0,1284.4 L926.5,1285.1 L927.0,1284.5 L927.5,1284.5 L928.0,1284.5 L928.4,1285.1 L928.9,1283.8 L929.4,1283.4 L929.9,1285.2 L930.4,1284.5 L930.8,1284.6 L931.3,1285.0 L931.8,1284.6 L932.3,1284.4 L932.8,1285.2 L933.2,1285.0 L933.7,1284.3 L934.2,1284.6 L934.7,1284.2 L935.2,1284.4 L935.6,1284.1 L936.1,1284.9 L936.6,1283.9 L937.1,1284.1 L937.6,1284.8 L938.0,1284.5 L938.5,1285.3 L939.0,1284.1 L939.5,1284.5 L940.0,1284.3 L940.4,1285.0 L940.9,1284.4 L941.4,1284.7 L941.9,1283.6 L942.4,1284.2 L942.8,1285.3 L943.3,1284.5 L943.8,1284.6 L944.3,1285.0 L944.8,1284.6 L945.2,1284.0 L945.7,1284.6 L946.2,1284.2 L946.7,1284.4 L947.2,1284.5 L947.6,1284.9 L948.1,1285.1 L948.6,1285.3 L949.1,1284.0 L949.6,1284.6 L950.0,1285.2 L950.5,1284.1 L951.0,1284.1 L951.5,1285.4 L952.0,1284.9 L952.4,1284.9 L952.9,1284.2 L953.4,1285.2 L953.9,1285.0 L954.4,1284.5 L954.8,1284.6 L955.3,1284.8 L955.8,1284.4 L956.3,1284.5 L956.8,1285.2 L957.2,1284.3 L957.7,1283.7 L958.2,1285.0 L958.7,1285.5 L959.2,1284.2 L959.6,1284.7 L960.1,1284.5 L960.6,1284.1 L961.1,1284.1 L961.6,1284.6 L962.0,1283.5 L962.5,1284.6 L963.0,1286.0 L963.5,1286.0 L964.0,1283.4 L964.4,1284.4 L964.9,1283.9 L965.4,1284.6 L965.9,1284.3 L966.4,1284.4 L966.8,1284.5 L967.3,1284.7 L967.8,1284.6 L968.3,1284.8 L968.8,1285.0 L969.2,1285.5 L969.7,1284.9 L970.2,1284.6 L970.7,1285.1 L971.2,1284.7 L971.6,1285.0 L972.1,1284.0 L972.6,1283.7 L973.1,1285.1 L973.6,1283.7 L974.0,1283.9 L974.5,1284.4 L975.0,1284.0 L975.5,1284.9 L976.0,1284.7 L976.4,1284.7 L976.9,1285.3 L977.4,1284.6 L977.9,1284.3 L978.4,1283.9 L978.8,1284.1 L979.3,1284.1 L979.8,1284.6 L980.3,1285.4 L980.8,1284.4 L981.2,1284.6 L981.7,1283.4 L982.2,1285.5 L982.7,1283.9 L983.2,1284.6 L983.6,1283.7 L984.1,1284.9 L984.6,1284.5 L985.1,1284.0 L985.6,1285.3 L986.0,1285.3 L986.5,1284.6 L987.0,1284.2 L987.5,1284.6 L988.0,1284.1 L988.4,1284.8 L988.9,1284.3 L989.4,1284.1 L989.9,1284.5 L990.4,1285.5 L990.8,1283.7 L991.3,1285.0 L991.8,1284.8 L992.3,1284.9 L992.8,1284.7 L993.2,1284.8 L993.7,1283.4 L994.2,1284.4 L994.7,1283.3 L995.2,1284.4 L995.6,1284.4 L996.1,1284.6 L996.6,1284.7 L997.1,1284.1 L997.6,1284.2 L998.0,1285.3 L998.5,1285.1 L999.0,1284.5 L999.5,1284.1 L1000.0,1284.4 L1000.4,1284.9 L1000.9,1284.7 L1001.4,1284.6 L1001.9,1285.1 L1002.4,1284.8 L1002.8,1284.8 L1003.3,1284.5 L1003.8,1284.6 L1004.3,1284.6 L1004.8,1284.0 L1005.2,1284.2 L1005.7,1283.6 L1006.2,1284.3 L1006.7,1283.8 L1007.2,1284.7 L1007.6,1285.2 L1008.1,1284.2 L1008.6,1284.8 L1009.1,1285.0 L1009.6,1283.5 L1010.0,1285.2 L1010.5,1283.5 L1011.0,1283.7 L1011.5,1283.8 L1012.0,1283.7 L1012.4,1283.6 L1012.9,1284.6 L1013.4,1284.8 L1013.9,1284.9 L1014.4,1284.8 L1014.8,1285.2 L1015.3,1284.4 L1015.8,1284.3 L1016.3,1285.2 L1016.8,1284.2 L1017.2,1285.2 L1017.7,1284.4 L1018.2,1283.6 L1018.7,1284.0 L1019.2,1284.2 L1019.6,1284.6 L1020.1,1284.7 L1020.6,1284.9 L1021.1,1284.8 L1021.6,1285.1 L1022.0,1283.6 L1022.5,1284.8 L1023.0,1285.3 L1023.5,1284.1 L1024.0,1284.9 L1024.4,1285.1 L1024.9,1284.1 L1025.4,1283.3 L1025.9,1284.1 L1026.4,1284.4 L1026.8,1284.9 L1027.3,1284.8 L1027.8,1284.8 L1028.3,1284.4 L1028.8,1284.3 L1029.2,1284.2 L1029.7,1284.5 L1030.2,1284.3 L1030.7,1284.5 L1031.2,1284.2 L1031.6,1284.0 L1032.1,1284.8 L1032.6,1284.2 L1033.1,1284.9 L1033.6,1285.1 L1034.0,1284.0 L1034.5,1285.7 L1035.0,1283.8 L1035.5,1283.6 L1036.0,1283.8 L1036.4,1284.0 L1036.9,1284.5 L1037.4,1285.2 L1037.9,1284.7 L1038.4,1285.3 L1038.8,1283.3 L1039.3,1284.9 L1039.8,1283.8 L1040.3,1284.0 L1040.8,1285.7 L1041.2,1285.5 L1041.7,1284.6 L1042.2,1284.1 L1042.7,1284.2 L1043.2,1283.7 L1043.6,1284.3 L1044.1,1284.9 L1044.6,1284.8 L1045.1,1284.6 L1045.6,1284.3 L1046.0,1284.9 L1046.5,1284.8 L1047.0,1285.6 L1047.5,1284.7 L1048.0,1285.0 L1048.4,1284.9 L1048.9,1284.9 L1049.4,1284.8 L1049.9,1284.7 L1050.4,1285.0 L1050.8,1283.9 L1051.3,1284.0 L1051.8,1284.0 L1052.3,1284.2 L1052.8,1284.3 L1053.2,1285.2 L1053.7,1284.7 L1054.2,1284.5 L1054.7,1284.6 L1055.2,1285.0 L1055.6,1283.9 L1056.1,1284.5 L1056.6,1284.1 L1057.1,1284.8 L1057.6,1285.4 L1058.0,1284.7 L1058.5,1284.9 L1059.0,1285.3 L1059.5,1284.3 L1060.0,1284.7 L1060.4,1283.5 L1060.9,1284.7 L1061.4,1284.7 L1061.9,1284.5 L1062.4,1285.7 L1062.8,1284.7 L1063.3,1284.4 L1063.8,1284.3 L1064.3,1284.5 L1064.8,1283.5 L1065.2,1284.7 L1065.7,1284.1 L1066.2,1284.7 L1066.7,1284.9 L1067.2,1285.4 L1067.6,1284.4 L1068.1,1284.5 L1068.6,1284.6 L1069.1,1284.7 L1069.6,1284.2 L1070.0,1284.6 L1070.5,1284.3 L1071.0,1284.7 L1071.5,1285.4 L1072.0,1284.5 L1072.4,1285.4 L1072.9,1284.7 L1073.4,1285.3 L1073.9,1285.1 L1074.4,1283.7 L1074.8,1284.1 L1075.3,1283.7 L1075.8,1284.8 L1076.3,1283.9 L1076.8,1285.1 L1077.2,1284.5 L1077.7,1284.8 L1078.2,1284.0 L1078.7,1283.3 L1079.2,1284.2 L1079.6,1284.3 L1080.1,1284.6 L1080.6,1284.9 L1081.1,1284.0 L1081.6,1284.7 L1082.0,1284.2 L1082.5,1285.2 L1083.0,1284.2 L1083.5,1284.7 L1084.0,1285.2 L1084.4,1284.9 L1084.9,1285.0 L1085.4,1285.2 L1085.9,1285.0 L1086.4,1284.9 L1086.8,1284.1 L1087.3,1285.5 L1087.8,1285.2 L1088.3,1285.5 L1088.8,1284.4 L1089.2,1284.9 L1089.7,1283.4 L1090.2,1284.6 L1090.7,1284.2 L1091.2,1284.4 L1091.6,1284.9 L1092.1,1284.4 L1092.6,1284.8 L1093.1,1283.7 L1093.6,1285.8 L1094.0,1284.1 L1094.5,1284.0 L1095.0,1283.9 L1095.5,1285.0 L1096.0,1283.5 L1096.4,1284.1 L1096.9,1285.4 L1097.4,1283.8 L1097.9,1284.2 L1098.4,1284.0 L1098.8,1285.1 L1099.3,1284.2 L1099.8,1284.7 L1100.3,1284.2 L1100.8,1284.3 L1101.2,1283.5 L1101.7,1284.9 L1102.2,1284.5 L1102.7,1284.3 L1103.2,1284.8 L1103.6,1284.5 L1104.1,1284.6 L1104.6,1284.7 L1105.1,1284.8 L1105.6,1284.2 L1106.0,1285.0 L1106.5,1284.8 L1107.0,1284.2 L1107.5,1284.2 L1108.0,1285.1 L1108.4,1284.6 L1108.9,1283.9 L1109.4,1283.8 L1109.9,1285.7 L1110.4,1284.0 L1110.8,1284.1 L1111.3,1284.5 L1111.8,1284.0 L1112.3,1285.5 L1112.8,1284.1 L1113.2,1284.0 L1113.7,1284.7 L1114.2,1284.0 L1114.7,1284.0 L1115.2,1285.0 L1115.6,1285.1 L1116.1,1285.4 L1116.6,1284.6 L1117.1,1284.1 L1117.6,1284.3 L1118.0,1284.1 L1118.5,1284.6 L1119.0,1284.7 L1119.5,1284.3 L1120.0,1285.0 L1120.4,1284.9 L1120.9,1283.9 L1121.4,1285.4 L1121.9,1284.2 L1122.4,1284.4 L1122.8,1285.1 L1123.3,1284.8 L1123.8,1284.3 L1124.3,1284.7 L1124.8,1284.9 L1125.2,1284.1 L1125.7,1283.1 L1126.2,1285.3 L1126.7,1283.8 L1127.2,1284.4 L1127.6,1285.8 L1128.1,1284.3 L1128.6,1285.0 L1129.1,1284.0 L1129.6,1285.6 L1130.0,1284.1 L1130.5,1285.4 L1131.0,1284.6 L1131.5,1285.5 L1132.0,1285.1 L1132.4,1284.3 L1132.9,1284.2 L1133.4,1283.6 L1133.9,1284.6 L1134.4,1285.3 L1134.8,1284.5 L1135.3,1284.8 L1135.8,1285.2 L1136.3,1284.9 L1136.8,1285.0 L1137.2,1284.9 L1137.7,1284.2 L1138.2,1284.1 L1138.7,1284.6 L1139.2,1284.2 L1139.6,1284.7 L1140.1,1283.7 L1140.6,1284.7 L1141.1,1285.1 L1141.6,1285.4 L1142.0,1284.6 L1142.5,1285.0 L1143.0,1285.9 L1143.5,1285.3 L1144.0,1284.8 L1144.4,1284.1 L1144.9,1284.9 L1145.4,1284.8 L1145.9,1284.0 L1146.4,1284.2 L1146.8,1283.6 L1147.3,1285.2 L1147.8,1283.9 L1148.3,1285.8 L1148.8,1284.4 L1149.2,1284.3 L1149.7,1284.7 L1150.2,1284.8 L1150.7,1284.8 L1151.2,1284.2 L1151.6,1284.0 L1152.1,1284.3 L1152.6,1284.6 L1153.1,1284.2 L1153.6,1284.8 L1154.0,1285.2 L1154.5,1284.8 L1155.0,1284.7 L1155.5,1285.1 L1156.0,1284.1 L1156.4,1284.8 L1156.9,1284.8 L1157.4,1285.5 L1157.9,1285.3 L1158.4,1284.4 L1158.8,1285.6 L1159.3,1284.0 L1159.8,1285.4 L1160.3,1284.7 L1160.8,1285.0 L1161.2,1284.5 L1161.7,1284.5 L1162.2,1283.9 L1162.7,1285.2 L1163.2,1284.5 L1163.6,1285.0 L1164.1,1284.2 L1164.6,1285.2 L1165.1,1284.8 L1165.6,1284.4 L1166.0,1284.7 L1166.5,1284.5 L1167.0,1284.9 L1167.5,1285.5 L1168.0,1283.9 L1168.4,1283.4 L1168.9,1284.3 L1169.4,1283.9 L1169.9,1285.1 L1170.4,1284.0 L1170.8,1283.2 L1171.3,1284.4 L1171.8,1284.2 L1172.3,1283.6 L1172.8,1284.4 L1173.2,1284.7 L1173.7,1284.2 L1174.2,1285.2 L1174.7,1284.4 L1175.2,1285.1 L1175.6,1283.4 L1176.1,1284.8 L1176.6,1284.3 L1177.1,1284.3 L1177.6,1284.7 L1178.0,1284.6 L1178.5,1284.8 L1179.0,1284.6 L1179.5,1284.8 L1180.0,1284.4 L1180.4,1283.2 L1180.9,1284.4 L1181.4,1283.5 L1181.9,1284.2 L1182.4,1284.1 L1182.8,1284.5 L1183.3,1284.6 L1183.8,1284.6 L1184.3,1284.3 L1184.8,1284.7 L1185.2,1283.9 L1185.7,1283.3 L1186.2,1284.3 L1186.7,1283.5 L1187.2,1284.3 L1187.6,1285.1 L1188.1,1284.1 L1188.6,1284.5 L1189.1,1284.8 L1189.6,1284.1 L1190.0,1283.6 L1190.5,1284.6 L1191.0,1284.5 L1191.5,1283.7 L1192.0,1284.5 L1192.4,1284.0 L1192.9,1283.9 L1193.4,1283.2 L1193.9,1283.6 L1194.4,1284.4 L1194.8,1283.3 L1195.3,1284.3 L1195.8,1284.5 L1196.3,1283.4 L1196.8,1285.5 L1197.2,1284.5 L1197.7,1283.5 L1198.2,1284.2 L1198.7,1284.9 L1199.2,1285.4 L1199.6,1283.5 L1200.1,1284.4 L1200.6,1283.9 L1201.1,1285.0 L1201.6,1284.0 L1202.0,1284.2 L1202.5,1283.8 L1203.0,1285.2 L1203.5,1283.6 L1204.0,1283.7 L1204.4,1283.3 L1204.9,1283.6 L1205.4,1283.9 L1205.9,1284.4 L1206.4,1283.3 L1206.8,1283.9 L1207.3,1283.4 L1207.8,1284.3 L1208.3,1283.5 L1208.8,1284.2 L1209.2,1283.2 L1209.7,1284.6 L1210.2,1283.8 L1210.7,1284.5 L1211.2,1284.0 L1211.6,1283.5 L1212.1,1284.0 L1212.6,1284.9 L1213.1,1283.8 L1213.6,1284.0 L1214.0,1284.4 L1214.5,1283.6 L1215.0,1284.1 L1215.5,1283.8 L1216.0,1284.6 L1216.4,1283.5 L1216.9,1283.5 L1217.4,1284.3 L1217.9,1284.3 L1218.4,1284.1 L1218.8,1283.5 L1219.3,1284.2 L1219.8,1283.8 L1220.3,1284.7 L1220.8,1283.4 L1221.2,1283.2 L1221.7,1283.2 L1222.2,1284.5 L1222.7,1284.7 L1223.2,1284.4 L1223.6,1284.1 L1224.1,1284.1 L1224.6,1285.0 L1225.1,1284.1 L1225.6,1285.0 L1226.0,1284.4 L1226.5,1284.1 L1227.0,1283.8 L1227.5,1283.8 L1228.0,1284.1 L1228.4,1283.3 L1228.9,1283.9 L1229.4,1284.0 L1229.9,1283.9 L1230.4,1284.2 L1230.8,1283.7 L1231.3,1284.3 L1231.8,1284.2 L1232.3,1284.5 L1232.8,1284.5 L1233.2,1284.0 L1233.7,1284.2 L1234.2,1283.9 L1234.7,1283.7 L1235.2,1283.7 L1235.6,1283.8 L1236.1,1284.3 L1236.6,1283.9 L1237.1,1283.7 L1237.6,1283.7 L1238.0,1284.4 L1238.5,1283.7 L1239.0,1284.1 L1239.5,1284.5 L1240.0,1285.0 L1240.4,1283.4 L1240.9,1283.4 L1241.4,1284.0 L1241.9,1283.6 L1242.4,1284.8 L1242.8,1283.9 L1243.3,1284.9 L1243.8,1284.1 L1244.3,1284.1 L1244.8,1283.9 L1245.2,1283.9 L1245.7,1283.6 L1246.2,1284.4 L1246.7,1284.7 L1247.2,1284.0 L1247.6,1283.1 L1248.1,1284.7 L1248.6,1283.8 L1249.1,1284.7 L1249.6,1284.7 L1250.0,1283.5 L1250.5,1284.6 L1251.0,1283.5 L1251.5,1283.9 L1252.0,1283.5 L1252.4,1283.5 L1252.9,1284.8 L1253.4,1283.8 L1253.9,1283.6 L1254.4,1284.6 L1254.8,1284.6 L1255.3,1284.0 L1255.8,1284.3 L1256.3,1284.1 L1256.8,1284.7 L1257.2,1282.8 L1257.7,1283.8 L1258.2,1284.2 L1258.7,1284.0 L1259.2,1284.7 L1259.6,1284.1 L1260.1,1283.3 L1260.6,1284.9 L1261.1,1282.7 L1261.6,1283.9 L1262.0,1284.6 L1262.5,1285.4 L1263.0,1284.7 L1263.5,1284.6 L1264.0,1283.9 L1264.4,1285.0 L1264.9,1283.7 L1265.4,1284.2 L1265.9,1283.2 L1266.4,1283.9 L1266.8,1283.4 L1267.3,1284.1 L1267.8,1284.7 L1268.3,1283.7 L1268.8,1284.8 L1269.2,1284.1 L1269.7,1285.2 L1270.2,1283.9 L1270.7,1284.3 L1271.2,1282.6 L1271.6,1284.4 L1272.1,1283.8 L1272.6,1283.7 L1273.1,1284.3 L1273.6,1284.2 L1274.0,1284.9 L1274.5,1284.8 L1275.0,1283.5 L1275.5,1283.7 L1276.0,1284.7 L1276.4,1284.2 L1276.9,1284.1 L1277.4,1285.1 L1277.9,1283.8 L1278.4,1284.3 L1278.8,1284.3 L1279.3,1284.1 L1279.8,1284.8 L1280.3,1284.6 L1280.8,1284.5 L1281.2,1283.8 L1281.7,1284.0 L1282.2,1284.4 L1282.7,1283.3 L1283.2,1284.3 L1283.6,1284.0 L1284.1,1284.1 L1284.6,1283.8 L1285.1,1284.8 L1285.6,1283.8 L1286.0,1284.9 L1286.5,1284.7 L1287.0,1284.0 L1287.5,1284.2 L1288.0,1284.1 L1288.4,1284.1 L1288.9,1284.3 L1289.4,1284.3 L1289.9,1283.6 L1290.4,1284.0 L1290.8,1284.5 L1291.3,1284.1 L1291.8,1284.0 L1292.3,1284.0 L1292.8,1283.9 L1293.2,1284.8 L1293.7,1283.8 L1294.2,1283.9 L1294.7,1284.1 L1295.2,1284.7 L1295.6,1284.1 L1296.1,1284.0 L1296.6,1283.3 L1297.1,1283.7 L1297.6,1284.0 L1298.0,1284.2 L1298.5,1283.3 L1299.0,1284.3 L1299.5,1283.0 L1300.0,1284.4 L1300.4,1283.9 L1300.9,1283.7 L1301.4,1283.2 L1301.9,1283.7 L1302.4,1283.6 L1302.8,1283.9 L1303.3,1284.0 L1303.8,1283.7 L1304.3,1283.2 L1304.8,1284.4 L1305.2,1283.7 L1305.7,1284.6 L1306.2,1283.8 L1306.7,1284.6 L1307.2,1283.2 L1307.6,1283.4 L1308.1,1284.5 L1308.6,1283.1 L1309.1,1283.7 L1309.6,1284.4 L1310.0,1284.1 L1310.5,1285.2 L1311.0,1284.1 L1311.5,1284.9 L1312.0,1284.1 L1312.4,1285.0 L1312.9,1284.1 L1313.4,1284.5 L1313.9,1284.9 L1314.4,1285.3 L1314.8,1283.5 L1315.3,1283.2 L1315.8,1283.3 L1316.3,1284.2 L1316.8,1284.0 L1317.2,1284.5 L1317.7,1285.4 L1318.2,1284.6 L1318.7,1284.0 L1319.2,1285.0 L1319.6,1284.4 L1320.1,1282.6 L1320.6,1284.6 L1321.1,1284.2 L1321.6,1283.9 L1322.0,1283.5 L1322.5,1283.9 L1323.0,1285.3 L1323.5,1284.2 L1324.0,1283.6 L1324.4,1284.4 L1324.9,1283.4 L1325.4,1284.7 L1325.9,1284.5 L1326.4,1284.0 L1326.8,1284.5 L1327.3,1283.5 L1327.8,1283.9 L1328.3,1284.1 L1328.8,1284.2 L1329.2,1285.2 L1329.7,1284.4 L1330.2,1283.5 L1330.7,1284.0 L1331.2,1283.7 L1331.6,1284.4 L1332.1,1283.2 L1332.6,1284.6 L1333.1,1283.8 L1333.6,1284.6 L1334.0,1284.8 L1334.5,1284.6 L1335.0,1283.4 L1335.5,1283.8 L1336.0,1283.2 L1336.4,1283.9 L1336.9,1283.9 L1337.4,1284.7 L1337.9,1284.1 L1338.4,1284.3 L1338.8,1283.7 L1339.3,1283.6 L1339.8,1284.0 L1340.3,1283.7 L1340.8,1283.8 L1341.2,1283.9 L1341.7,1284.7 L1342.2,1283.9 L1342.7,1285.4 L1343.2,1284.6 L1343.6,1283.9 L1344.1,1284.3 L1344.6,1285.0 L1345.1,1283.2 L1345.6,1284.6 L1346.0,1285.0 L1346.5,1284.3 L1347.0,1283.3 L1347.5,1283.3 L1348.0,1284.3 L1348.4,1284.2 L1348.9,1284.7 L1349.4,1283.3 L1349.9,1284.2 L1350.4,1284.9 L1350.8,1284.4 L1351.3,1283.6 L1351.8,1284.0 L1352.3,1283.9 L1352.8,1285.3 L1353.2,1285.0 L1353.7,1283.9 L1354.2,1284.0 L1354.7,1284.2 L1355.2,1284.3 L1355.6,1284.0 L1356.1,1283.9 L1356.6,1283.7 L1357.1,1284.5 L1357.6,1284.6 L1358.0,1284.0 L1358.5,1284.0 L1359.0,1284.7 L1359.5,1284.3 L1360.0,1282.6 L1360.4,1283.9 L1360.9,1284.0 L1361.4,1284.2 L1361.9,1283.9 L1362.4,1283.6 L1362.8,1284.3 L1363.3,1284.3 L1363.8,1283.6 L1364.3,1284.1 L1364.8,1284.1 L1365.2,1283.9 L1365.7,1285.9 L1366.2,1284.3 L1366.7,1284.1 L1367.2,1283.6 L1367.6,1283.6 L1368.1,1284.2 L1368.6,1284.4 L1369.1,1283.8 L1369.6,1283.9 L1370.0,1283.9 L1370.5,1284.4 L1371.0,1284.7 L1371.5,1283.3 L1372.0,1284.4 L1372.4,1283.6 L1372.9,1283.6 L1373.4,1284.5 L1373.9,1284.6 L1374.4,1285.4 L1374.8,1284.2 L1375.3,1285.1 L1375.8,1284.0 L1376.3,1283.8 L1376.8,1284.6 L1377.2,1283.5 L1377.7,1284.2 L1378.2,1284.5 L1378.7,1283.2 L1379.2,1284.3 L1379.6,1284.5 L1380.1,1283.0 L1380.6,1283.6 L1381.1,1284.4 L1381.6,1283.8 L1382.0,1283.6 L1382.5,1283.1 L1383.0,1285.0 L1383.5,1284.3 L1384.0,1283.9 L1384.4,1284.1 L1384.9,1284.2 L1385.4,1284.1 L1385.9,1284.3 L1386.4,1284.6 L1386.8,1283.8 L1387.3,1284.3 L1387.8,1284.5 L1388.3,1283.8 L1388.8,1283.8 L1389.2,1284.4 L1389.7,1284.2 L1390.2,1283.7 L1390.7,1284.1 L1391.2,1283.7 L1391.6,1284.5 L1392.1,1284.3 L1392.6,1283.8 L1393.1,1284.3 L1393.6,1284.7 L1394.0,1283.8 L1394.5,1283.3 L1395.0,1284.0 L1395.5,1285.1 L1396.0,1284.9 L1396.4,1284.1 L1396.9,1284.2 L1397.4,1284.5 L1397.9,1285.2 L1398.4,1285.1 L1398.8,1283.0 L1399.3,1284.9 L1399.8,1284.5 L1400.3,1283.9 L1400.8,1284.2 L1401.2,1283.8 L1401.7,1282.8 L1402.2,1283.9 L1402.7,1284.0 L1403.2,1283.2 L1403.6,1284.1 L1404.1,1284.0 L1404.6,1284.2 L1405.1,1283.9 L1405.6,1283.3 L1406.0,1284.4 L1406.5,1283.7 L1407.0,1283.3 L1407.5,1284.6 L1408.0,1284.0 L1408.4,1285.0 L1408.9,1284.4 L1409.4,1282.7 L1409.9,1284.8 L1410.4,1283.7 L1410.8,1284.0 L1411.3,1284.0 L1411.8,1283.6 L1412.3,1284.5 L1412.8,1283.8 L1413.2,1283.7 L1413.7,1284.0 L1414.2,1284.4 L1414.7,1283.7 L1415.2,1284.2 L1415.6,1284.3 L1416.1,1285.2 L1416.6,1283.7 L1417.1,1283.9 L1417.6,1284.3 L1418.0,1284.2 L1418.5,1284.8 L1419.0,1284.4 L1419.5,1284.2 L1420.0,1284.8 L1420.4,1284.3 L1420.9,1284.4 L1421.4,1284.5 L1421.9,1284.7 L1422.4,1283.7 L1422.8,1284.2 L1423.3,1285.0 L1423.8,1284.5 L1424.3,1283.2 L1424.8,1284.5 L1425.2,1283.9 L1425.7,1283.7 L1426.2,1283.7 L1426.7,1284.2 L1427.2,1283.8 L1427.6,1285.3 L1428.1,1283.9 L1428.6,1284.0 L1429.1,1284.7 L1429.6,1283.5 L1430.0,1283.9 L1430.5,1283.8 L1431.0,1284.2 L1431.5,1284.8 L1432.0,1283.8 L1432.4,1284.9 L1432.9,1283.7 L1433.4,1284.2 L1433.9,1284.5 L1434.4,1284.3 L1434.8,1284.5 L1435.3,1284.2 L1435.8,1284.8 L1436.3,1284.4 L1436.8,1284.7 L1437.2,1283.8 L1437.7,1283.1 L1438.2,1282.9 L1438.7,1284.6 L1439.2,1283.6 L1439.6,1284.9 L1440.1,1284.4 L1440.6,1282.9 L1441.1,1283.1 L1441.6,1283.9 L1442.0,1284.2 L1442.5,1283.7 L1443.0,1284.1 L1443.5,1283.2 L1444.0,1283.7 L1444.4,1284.5 L1444.9,1283.5 L1445.4,1284.2 L1445.9,1282.6 L1446.4,1283.7 L1446.8,1284.1 L1447.3,1283.1 L1447.8,1282.9 L1448.3,1283.4 L1448.8,1284.1 L1449.2,1284.5 L1449.7,1284.8 L1450.2,1283.5 L1450.7,1285.0 L1451.2,1284.4 L1451.6,1283.9 L1452.1,1283.5 L1452.6,1283.9 L1453.1,1284.5 L1453.6,1284.2 L1454.0,1284.1 L1454.5,1284.1 L1455.0,1284.0 L1455.5,1284.0 L1456.0,1284.2 L1456.4,1283.8 L1456.9,1283.3 L1457.4,1283.3 L1457.9,1284.2 L1458.4,1285.2 L1458.8,1284.2 L1459.3,1284.4 L1459.8,1284.7 L1460.3,1283.4 L1460.8,1284.5 L1461.2,1284.7 L1461.7,1283.8 L1462.2,1284.3 L1462.7,1284.5 L1463.2,1284.0 L1463.6,1284.7 L1464.1,1285.5 L1464.6,1283.3 L1465.1,1283.7 L1465.6,1283.2 L1466.0,1284.5 L1466.5,1284.1 L1467.0,1284.7 L1467.5,1285.2 L1468.0,1284.6 L1468.4,1283.1 L1468.9,1283.8 L1469.4,1284.5 L1469.9,1284.4 L1470.4,1284.0 L1470.8,1283.7 L1471.3,1283.8 L1471.8,1285.2 L1472.3,1284.3 L1472.8,1283.4 L1473.2,1283.7 L1473.7,1283.9 L1474.2,1283.9 L1474.7,1283.9 L1475.2,1284.3 L1475.6,1284.1 L1476.1,1284.9 L1476.6,1284.0 L1477.1,1283.8 L1477.6,1284.0 L1478.0,1284.0 L1478.5,1283.8 L1479.0,1283.2 L1479.5,1283.6 L1480.0,1285.1 L1480.4,1283.8 L1480.9,1284.8 L1481.4,1284.3 L1481.9,1284.9 L1482.4,1283.9 L1482.8,1283.7 L1483.3,1283.8 L1483.8,1283.7 L1484.3,1283.8 L1484.8,1285.0 L1485.2,1285.4 L1485.7,1283.9 L1486.2,1284.2 L1486.7,1284.1 L1487.2,1284.3 L1487.6,1284.3 L1488.1,1284.4 L1488.6,1284.8 L1489.1,1284.5 L1489.6,1283.6 L1490.0,1284.5 L1490.5,1283.6 L1491.0,1284.7 L1491.5,1284.2 L1492.0,1284.5 L1492.4,1283.9 L1492.9,1283.2 L1493.4,1283.8 L1493.9,1284.3 L1494.4,1283.5 L1494.8,1284.2 L1495.3,1284.8 L1495.8,1283.7 L1496.3,1284.4 L1496.8,1284.2 L1497.2,1283.9 L1497.7,1284.1 L1498.2,1284.3 L1498.7,1283.8 L1499.2,1283.9 L1499.6,1283.6 L1500.1,1283.1 L1500.6,1284.9 L1501.1,1283.6 L1501.6,1284.6 L1502.0,1284.0 L1502.5,1284.6 L1503.0,1284.0 L1503.5,1284.9 L1504.0,1285.2 L1504.4,1284.1 L1504.9,1284.3 L1505.4,1284.0 L1505.9,1284.1 L1506.4,1284.3 L1506.8,1284.5 L1507.3,1284.8 L1507.8,1284.5 L1508.3,1284.4 L1508.8,1283.3 L1509.2,1284.0 L1509.7,1283.6 L1510.2,1283.8 L1510.7,1284.2 L1511.2,1284.1 L1511.6,1283.8 L1512.1,1284.3 L1512.6,1283.4 L1513.1,1283.1 L1513.6,1283.8 L1514.0,1283.9 L1514.5,1284.4 L1515.0,1284.2 L1515.5,1284.0 L1516.0,1284.0 L1516.4,1284.6 L1516.9,1283.4 L1517.4,1284.3 L1517.9,1283.9 L1518.4,1284.2 L1518.8,1284.5 L1519.3,1284.9 L1519.8,1284.6 L1520.3,1284.1 L1520.8,1283.8 L1521.2,1283.8 L1521.7,1284.9 L1522.2,1284.2 L1522.7,1282.9 L1523.2,1283.0 L1523.6,1283.6 L1524.1,1283.2 L1524.6,1283.8 L1525.1,1284.5 L1525.6,1283.7 L1526.0,1283.4 L1526.5,1283.1 L1527.0,1284.3 L1527.5,1284.1 L1528.0,1283.5 L1528.4,1284.4 L1528.9,1284.3 L1529.4,1284.6 L1529.9,1284.3 L1530.4,1284.2 L1530.8,1284.5 L1531.3,1284.0 L1531.8,1283.0 L1532.3,1283.8 L1532.8,1284.2 L1533.2,1285.0 L1533.7,1283.5 L1534.2,1284.6 L1534.7,1282.7 L1535.2,1284.2 L1535.6,1285.0 L1536.1,1284.1 L1536.6,1284.1 L1537.1,1284.4 L1537.6,1284.7 L1538.0,1284.5 L1538.5,1283.9 L1539.0,1284.3 L1539.5,1285.1 L1540.0,1284.1 L1540.4,1283.9 L1540.9,1283.9 L1541.4,1284.8 L1541.9,1284.5 L1542.4,1283.6 L1542.8,1283.6 L1543.3,1284.2 L1543.8,1284.3 L1544.3,1282.9 L1544.8,1283.9" fill="none" stroke="#4ECDC4" stroke-opacity="0.8" stroke-width="2.25" stroke-linejoin="round"/>
<path d="M107.0,1331.0 L107.5,1331.8 L108.0,1330.6 L108.4,1330.0 L108.9,1331.2 L109.4,1331.4 L109.9,1331.2 L110.4,1331.3 L110.8,1331.0 L111.3,1330.7 L111.8,1330.6 L112.3,1330.9 L112.8,1330.8 L113.2,1331.6 L113.7,1331.4 L114.2,1330.4 L114.7,1331.4 L115.2,1331.0 L115.6,1331.7 L116.1,1331.9 L116.6,1331.4 L117.1,1330.1 L117.6,1331.4 L118.0,1330.2 L118.5,1331.9 L119.0,1330.7 L119.5,1331.0 L120.0,1332.1 L120.4,1330.1 L120.9,1331.1 L121.4,1330.5 L121.9,1330.8 L122.4,1330.6 L122.8,1331.4 L123.3,1330.9 L123.8,1331.2 L124.3,1331.4 L124.8,1330.1 L125.2,1331.8 L125.7,1330.9 L126.2,1330.1 L126.7,1330.7 L127.2,1331.5 L127.6,1331.6 L128.1,1330.7 L128.6,1331.1 L129.1,1331.2 L129.6,1331.6 L130.0,1331.0 L130.5,1331.6 L131.0,1330.6 L131.5,1330.7 L132.0,1331.4 L132.4,1331.5 L132.9,1331.0 L133.4,1331.4 L133.9,1331.2 L134.4,1331.5 L134.8,1331.7 L135.3,1331.3 L135.8,1331.5 L136.3,1330.8 L136.8,1330.7 L137.2,1329.7 L137.7,1331.3 L138.2,1331.1 L138.7,1331.4 L139.2,1330.0 L139.6,1330.8 L140.1,1330.7 L140.6,1330.0 L141.1,1331.6 L141.6,1331.7 L142.0,1330.3 L142.5,1331.3 L143.0,1332.0 L143.5,1330.4 L144.0,1331.6 L144.4,1331.9 L144.9,1332.1 L145.4,1330.3 L145.9,1330.5 L146.4,1331.2 L146.8,1331.7 L147.3,1330.3 L147.8,1330.6 L148.3,1330.4 L148.8,1331.7 L149.2,1330.7 L149.7,1331.4 L150.2,1331.4 L150.7,1331.7 L151.2,1331.3 L151.6,1331.2 L152.1,1331.7 L152.6,1331.3 L153.1,1330.3 L153.6,1330.8 L154.0,1331.6 L154.5,1331.1 L155.0,1330.9 L155.5,1331.2 L156.0,1332.9 L156.4,1331.0 L156.9,1331.3 L157.4,1331.3 L157.9,1330.9 L158.4,1331.7 L158.8,1331.5 L159.3,1331.3 L159.8,1330.3 L160.3,1331.8 L160.8,1331.5 L161.2,1331.0 L161.7,1329.5 L162.2,1331.0 L162.7,1330.4 L163.2,1330.9 L163.6,1330.8 L164.1,1330.6 L164.6,1331.6 L165.1,1331.1 L165.6,1331.7 L166.0,1330.5 L166.5,1330.9 L167.0,1331.8 L167.5,1331.2 L168.0,1330.6 L168.4,1330.5 L168.9,1330.7 L169.4,1331.0 L169.9,1331.4 L170.4,1331.1 L170.8,1331.5 L171.3,1331.5 L171.8,1331.1 L172.3,1331.8 L172.8,1331.5 L173.2,1330.9 L173.7,1331.0 L174.2,1331.0 L174.7,1330.6 L175.2,1330.3 L175.6,1331.1 L176.1,1330.8 L176.6,1331.4 L177.1,1330.7 L177.6,1331.1 L178.0,1331.2 L178.5,1330.8 L179.0,1331.2 L179.5,1330.6 L180.0,1330.8 L180.4,1331.5 L180.9,1331.3 L181.4,1331.0 L181.9,1330.6 L182.4,1331.4 L182.8,1332.2 L183.3,1329.8 L183.8,1331.6 L184.3,1331.2 L184.8,1331.7 L185.2,1331.7 L185.7,1330.5 L186.2,1332.0 L186.7,1330.7 L187.2,1330.9 L187.6,1331.4 L188.1,1331.0 L188.6,1331.2 L189.1,1330.8 L189.6,1330.5 L190.0,1331.1 L190.5,1330.4 L191.0,1331.8 L191.5,1331.2 L192.0,1331.8 L192.4,1330.3 L192.9,1329.9 L193.4,1329.8 L193.9,1330.8 L194.4,1330.3 L194.8,1331.2 L195.3,1330.2 L195.8,1330.3 L196.3,1331.2 L196.8,1330.8 L197.2,1331.4 L197.7,1331.5 L198.2,1331.2 L198.7,1330.4 L199.2,1330.5 L199.6,1332.3 L200.1,1330.9 L200.6,1331.2 L201.1,1331.1 L201.6,1331.0 L202.0,1330.9 L202.5,1330.7 L203.0,1330.7 L203.5,1329.9 L204.0,1332.0 L204.4,1331.0 L204.9,1330.3 L205.4,1331.3 L205.9,1331.4 L206.4,1330.2 L206.8,1330.7 L207.3,1331.9 L207.8,1331.3 L208.3,1331.3 L208.8,1331.6 L209.2,1331.0 L209.7,1330.9 L210.2,1331.9 L210.7,1330.9 L211.2,1331.0 L211.6,1331.4 L212.1,1331.1 L212.6,1330.3 L213.1,1332.1 L213.6,1331.0 L214.0,1332.0 L214.5,1331.3 L215.0,1330.5 L215.5,1331.9 L216.0,1330.9 L216.4,1330.6 L216.9,1331.0 L217.4,1329.8 L217.9,1331.3 L218.4,1330.6 L218.8,1330.9 L219.3,1330.5 L219.8,1331.4 L220.3,1331.2 L220.8,1331.6 L221.2,1332.0 L221.7,1331.2 L222.2,1331.1 L222.7,1331.2 L223.2,1330.6 L223.6,1330.7 L224.1,1331.5 L224.6,1330.5 L225.1,1329.9 L225.6,1330.8 L226.0,1331.2 L226.5,1331.9 L227.0,1330.6 L227.5,1330.5 L228.0,1331.1 L228.4,1330.9 L228.9,1331.2 L229.4,1330.7 L229.9,1331.1 L230.4,1330.7 L230.8,1331.6 L231.3,1331.2 L231.8,1331.4 L232.3,1330.8 L232.8,1330.2 L233.2,1331.0 L233.7,1331.0 L234.2,1331.6 L234.7,1331.6 L235.2,1331.0 L235.6,1331.0 L236.1,1330.5 L236.6,1331.0 L237.1,1331.1 L237.6,1330.8 L238.0,1330.4 L238.5,1331.7 L239.0,1330.5 L239.5,1332.0 L240.0,1331.7 L240.4,1331.9 L240.9,1330.6 L241.4,1331.4 L241.9,1330.2 L242.4,1330.8 L242.8,1330.2 L243.3,1330.6 L243.8,1330.7 L244.3,1331.6 L244.8,1331.6 L245.2,1330.8 L245.7,1330.9 L246.2,1330.5 L246.7,1330.4 L247.2,1330.0 L247.6,1330.9 L248.1,1331.4 L248.6,1330.6 L249.1,1331.2 L249.6,1330.4 L250.0,1330.5 L250.5,1330.7 L251.0,1331.5 L251.5,1330.7 L252.0,1331.4 L252.4,1330.8 L252.9,1330.4 L253.4,1329.9 L253.9,1330.8 L254.4,1330.5 L254.8,1331.5 L255.3,1331.3 L255.8,1330.1 L256.3,1331.5 L256.8,1331.3 L257.2,1329.4 L257.7,1330.4 L258.2,1331.2 L258.7,1330.1 L259.2,1330.6 L259.6,1331.3 L260.1,1331.2 L260.6,1331.3 L261.1,1331.4 L261.6,1330.5 L262.0,1332.3 L262.5,1331.3 L263.0,1332.2 L263.5,1330.9 L264.0,1331.3 L264.4,1331.2 L264.9,1330.9 L265.4,1331.2 L265.9,1331.2 L266.4,1331.5 L266.8,1331.2 L267.3,1331.0 L267.8,1331.3 L268.3,1331.8 L268.8,1331.0 L269.2,1331.3 L269.7,1331.1 L270.2,1329.9 L270.7,1330.5 L271.2,1330.5 L271.6,1330.2 L272.1,1330.7 L272.6,1330.0 L273.1,1331.2 L273.6,1330.7 L274.0,1331.7 L274.5,1331.2 L275.0,1330.3 L275.5,1330.9 L276.0,1331.0 L276.4,1330.6 L276.9,1330.8 L277.4,1330.4 L277.9,1330.6 L278.4,1331.2 L278.8,1330.8 L279.3,1331.7 L279.8,1329.8 L280.3,1330.6 L280.8,1330.8 L281.2,1331.8 L281.7,1331.6 L282.2,1331.4 L282.7,1331.5 L283.2,1331.9 L283.6,1331.4 L284.1,1330.9 L284.6,1331.1 L285.1,1330.6 L285.6,1330.9 L286.0,1331.2 L286.5,1330.7 L287.0,1331.1 L287.5,1330.8 L288.0,1330.3 L288.4,1330.2 L288.9,1331.4 L289.4,1331.0 L289.9,1331.5 L290.4,1330.9 L290.8,1331.0 L291.3,1331.1 L291.8,1330.8 L292.3,1331.8 L292.8,1331.5 L293.2,1331.2 L293.7,1330.4 L294.2,1330.7 L294.7,1331.1 L295.2,1331.6 L295.6,1331.0 L296.1,1331.0 L296.6,1331.3 L297.1,1331.0 L297.6,1330.9 L298.0,1330.4 L298.5,1331.7 L299.0,1331.0 L299.5,1330.7 L300.0,1330.9 L300.4,1330.3 L300.9,1330.1 L301.4,1330.0 L301.9,1331.2 L302.4,1330.2 L302.8,1331.0 L303.3,1330.3 L303.8,1330.0 L304.3,1330.6 L304.8,1330.6 L305.2,1330.6 L305.7,1331.9 L306.2,1331.1 L306.7,1330.6 L307.2,1331.4 L307.6,1330.8 L308.1,1331.6 L308.6,1330.1 L309.1,1331.6 L309.6,1330.4 L310.0,1330.6 L310.5,1331.1 L311.0,1330.4 L311.5,1330.1 L312.0,1330.7 L312.4,1330.8 L312.9,1330.1 L313.4,1331.5 L313.9,1330.5 L314.4,1330.6 L314.8,1330.8 L315.3,1331.0 L315.8,1331.5 L316.3,1329.8 L316.8,1331.0 L317.2,1331.4 L317.7,1331.1 L318.2,1330.9 L318.7,1330.3 L319.2,1331.1 L319.6,1330.7 L320.1,1331.0 L320.6,1330.4 L321.1,1330.8 L321.6,1330.9 L322.0,1330.1 L322.5,1331.5 L323.0,1330.9 L323.5,1330.2 L324.0,1330.8 L324.4,1331.0 L324.9,1330.8 L325.4,1330.4 L325.9,1330.8 L326.4,1330.2 L326.8,1330.0 L327.3,1331.6 L327.8,1331.9 L328.3,1332.0 L328.8,1332.2 L329.2,1331.7 L329.7,1330.4 L330.2,1330.6 L330.7,1331.6 L331.2,1330.7 L331.6,1330.8 L332.1,1330.9 L332.6,1331.2 L333.1,1330.2 L333.6,1331.0 L334.0,1331.2 L334.5,1329.8 L335.0,1331.6 L335.5,1331.4 L336.0,1330.5 L336.4,1332.0 L336.9,1331.2 L337.4,1331.2 L337.9,1331.8 L338.4,1329.5 L338.8,1331.0 L339.3,1331.5 L339.8,1331.7 L340.3,1330.9 L340.8,1330.8 L341.2,1330.5 L341.7,1330.8 L342.2,1330.5 L342.7,1329.6 L343.2,1330.6 L343.6,1330.4 L344.1,1330.6 L344.6,1330.7 L345.1,1330.7 L345.6,1331.0 L346.0,1330.9 L346.5,1330.7 L347.0,1330.6 L347.5,1330.9 L348.0,1330.8 L348.4,1330.9 L348.9,1331.7 L349.4,1331.1 L349.9,1330.7 L350.4,1329.8 L350.8,1330.1 L351.3,1329.3 L351.8,1331.4 L352.3,1331.6 L352.8,1330.7 L353.2,1330.7 L353.7,1331.2 L354.2,1331.3 L354.7,1330.0 L355.2,1330.8 L355.6,1330.8 L356.1,1330.3 L356.6,1331.7 L357.1,1331.4 L357.6,1330.6 L358.0,1330.9 L358.5,1330.6 L359.0,1330.7 L359.5,1330.7 L360.0,1331.5 L360.4,1330.9 L360.9,1330.7 L361.4,1330.6 L361.9,1331.1 L362.4,1330.5 L362.8,1330.1 L363.3,1330.9 L363.8,1331.8 L364.3,1330.6 L364.8,1331.0 L365.2,1330.8 L365.7,1331.6 L366.2,1331.2 L366.7,1330.2 L367.2,1331.9 L367.6,1330.9 L368.1,1330.4 L368.6,1330.7 L369.1,1331.0 L369.6,1331.5 L370.0,1330.8 L370.5,1330.5 L371.0,1331.7 L371.5,1331.8 L372.0,1330.7 L372.4,1331.0 L372.9,1331.1 L373.4,1330.8 L373.9,1330.4 L374.4,1331.5 L374.8,1330.3 L375.3,1329.9 L375.8,1331.3 L376.3,1331.6 L376.8,1331.4 L377.2,1330.5 L377.7,1330.8 L378.2,1330.3 L378.7,1330.7 L379.2,1329.6 L379.6,1330.5 L380.1,1331.7 L380.6,1330.3 L381.1,1331.9 L381.6,1331.0 L382.0,1329.9 L382.5,1331.5 L383.0,1330.4 L383.5,1331.2 L384.0,1330.8 L384.4,1330.7 L384.9,1330.8 L385.4,1330.2 L385.9,1330.5 L386.4,1330.7 L386.8,1331.9 L387.3,1330.6 L387.8,1331.1 L388.3,1331.2 L388.8,1331.6 L389.2,1330.8 L389.7,1331.1 L390.2,1330.4 L390.7,1332.3 L391.2,1330.1 L391.6,1331.1 L392.1,1330.7 L392.6,1331.0 L393.1,1330.7 L393.6,1330.7 L394.0,1331.5 L394.5,1331.5 L395.0,1330.9 L395.5,1330.9 L396.0,1331.0 L396.4,1330.9 L396.9,1331.2 L397.4,1331.4 L397.9,1331.2 L398.4,1330.1 L398.8,1330.9 L399.3,1330.4 L399.8,1331.2 L400.3,1330.8 L400.8,1331.1 L401.2,1330.9 L401.7,1331.5 L402.2,1331.7 L402.7,1331.0 L403.2,1330.1 L403.6,1330.9 L404.1,1332.0 L404.6,1330.6 L405.1,1330.9 L405.6,1332.3 L406.0,1331.9 L406.5,1331.3 L407.0,1331.1 L407.5,1330.2 L408.0,1331.8 L408.4,1331.4 L408.9,1330.0 L409.4,1330.9 L409.9,1330.9 L410.4,1330.9 L410.8,1330.6 L411.3,1332.3 L411.8,1330.5 L412.3,1331.8 L412.8,1331.3 L413.2,1330.9 L413.7,1331.2 L414.2,1331.4 L414.7,1330.5 L415.2,1330.7 L415.6,1331.6 L416.1,1331.5 L416.6,1331.2 L417.1,1330.3 L417.6,1330.0 L418.0,1331.8 L418.5,1331.7 L419.0,1331.2 L419.5,1331.2 L420.0,1330.8 L420.4,1331.2 L420.9,1331.6 L421.4,1331.4 L421.9,1330.6 L422.4,1331.1 L422.8,1330.7 L423.3,1330.9 L423.8,1330.3 L424.3,1329.6 L424.8,1330.4 L425.2,1331.1 L425.7,1330.5 L426.2,1331.2 L426.7,1330.6 L427.2,1331.1 L427.6,1330.7 L428.1,1331.7 L428.6,1330.7 L429.1,1331.0 L429.6,1331.6 L430.0,1331.8 L430.5,1330.3 L431.0,1331.8 L431.5,1330.4 L432.0,1330.4 L432.4,1330.5 L432.9,1331.5 L433.4,1330.4 L433.9,1331.3 L434.4,1331.2 L434.8,1330.8 L435.3,1331.2 L435.8,1332.1 L436.3,1331.8 L436.8,1330.5 L437.2,1331.1 L437.7,1330.7 L438.2,1330.9 L438.7,1330.7 L439.2,1331.2 L439.6,1330.5 L440.1,1330.3 L440.6,1331.0 L441.1,1331.1 L441.6,1331.6 L442.0,1331.3 L442.5,1330.5 L443.0,1330.4 L443.5,1331.1 L444.0,1331.1 L444.4,1331.3 L444.9,1331.7 L445.4,1329.7 L445.9,1330.6 L446.4,1331.2 L446.8,1330.4 L447.3,1331.9 L447.8,1330.9 L448.3,1331.3 L448.8,1330.8 L449.2,1331.1 L449.7,1331.2 L450.2,1331.2 L450.7,1330.2 L451.2,1329.9 L451.6,1330.9 L452.1,1331.4 L452.6,1330.8 L453.1,1330.9 L453.6,1331.5 L454.0,1331.3 L454.5,1330.4 L455.0,1331.0 L455.5,1330.8 L456.0,1331.0 L456.4,1330.9 L456.9,1331.3 L457.4,1330.9 L457.9,1331.1 L458.4,1331.0 L458.8,1330.8 L459.3,1330.6 L459.8,1331.1 L460.3,1331.2 L460.8,1331.8 L461.2,1332.3 L461.7,1330.6 L462.2,1330.6 L462.7,1331.5 L463.2,1330.7 L463.6,1331.0 L464.1,1330.3 L464.6,1331.3 L465.1,1330.1 L465.6,1331.5 L466.0,1330.5 L466.5,1331.1 L467.0,1331.5 L467.5,1330.5 L468.0,1330.9 L468.4,1332.1 L468.9,1330.2 L469.4,1331.0 L469.9,1329.9 L470.4,1331.1 L470.8,1330.8 L471.3,1330.3 L471.8,1330.2 L472.3,1331.5 L472.8,1331.2 L473.2,1330.2 L473.7,1331.2 L474.2,1330.3 L474.7,1330.3 L475.2,1331.0 L475.6,1330.7 L476.1,1331.0 L476.6,1331.3 L477.1,1330.3 L477.6,1330.9 L478.0,1331.7 L479.5,1310.6 L481.2,1371.8 L482.9,1307.2 L484.6,1369.1 L486.0,1312.5 L488.0,1359.0 L489.4,1324.6 L491.4,1330.7 L491.9,1331.2 L492.4,1330.4 L492.9,1330.6 L493.3,1331.2 L493.8,1330.7 L494.3,1330.1 L494.8,1330.1 L495.3,1331.2 L495.7,1331.4 L496.2,1331.3 L496.7,1331.9 L497.2,1330.2 L497.7,1330.1 L498.1,1331.2 L498.6,1331.6 L499.1,1330.7 L499.6,1331.4 L500.1,1331.4 L500.5,1331.0 L501.0,1330.8 L501.5,1331.2 L502.0,1331.3 L502.5,1331.8 L502.9,1331.3 L503.4,1330.9 L503.9,1330.9 L504.4,1331.3 L504.9,1331.8 L505.3,1331.1 L505.8,1331.4 L506.3,1331.9 L506.8,1331.8 L507.3,1332.8 L507.7,1332.0 L508.2,1332.1 L508.7,1333.0 L509.2,1330.8 L509.7,1331.7 L511.1,1311.8 L512.6,1359.7 L514.6,1311.8 L516.3,1371.6 L517.9,1315.1 L519.5,1361.9 L521.4,1307.8 L523.5,1356.1 L525.3,1326.2 L527.0,1332.0 L527.5,1332.4 L528.0,1333.0 L528.4,1332.3 L528.9,1331.7 L529.4,1332.0 L529.9,1332.6 L530.4,1333.3 L530.8,1331.0 L531.3,1331.7 L531.8,1332.0 L532.3,1332.3 L532.8,1332.8 L533.2,1333.2 L533.7,1332.8 L534.2,1333.3 L534.7,1332.2 L535.2,1332.1 L535.6,1331.7 L536.1,1332.2 L536.6,1333.0 L537.1,1332.7 L537.6,1333.8 L538.0,1332.5 L538.5,1332.2 L539.0,1333.1 L539.5,1331.7 L540.0,1340.5 L541.5,1313.1 L543.1,1339.2 L545.1,1318.3 L547.0,1337.0 L549.0,1315.1 L550.9,1371.2 L552.5,1340.0 L553.9,1368.8 L555.5,1342.4 L557.3,1365.0 L558.6,1353.1 L560.0,1368.0 L561.5,1350.0 L563.2,1371.3 L564.7,1342.4 L566.4,1368.7 L567.9,1348.8 L569.4,1369.1 L570.6,1349.4 L572.2,1367.3 L573.4,1347.0 L575.1,1371.7 L576.3,1341.6 L577.8,1371.5 L579.2,1346.4 L580.7,1367.9 L582.4,1348.6 L584.1,1371.6 L585.3,1347.0 L586.8,1371.3 L588.0,1341.1 L589.4,1370.2 L590.9,1342.4 L592.3,1358.5 L593.7,1337.9 L595.5,1343.8 L597.0,1325.6 L598.9,1337.5 L600.8,1325.7 L602.3,1330.3 L602.8,1330.8 L603.3,1330.8 L603.7,1330.8 L604.2,1329.9 L604.7,1330.2 L605.2,1330.4 L605.7,1330.2 L606.1,1330.0 L606.6,1330.5 L607.1,1330.8 L607.6,1330.5 L608.1,1330.0 L608.5,1331.3 L609.0,1330.4 L609.5,1331.7 L610.0,1331.0 L610.5,1331.0 L610.9,1331.6 L611.4,1331.0 L611.9,1330.3 L612.4,1331.1 L612.9,1329.9 L613.3,1331.3 L613.8,1331.2 L614.3,1331.4 L614.8,1331.2 L615.3,1332.3 L615.7,1331.4 L616.2,1331.1 L616.7,1333.0 L617.2,1331.4 L617.7,1331.9 L618.1,1331.4 L618.6,1331.3 L619.1,1331.5 L619.6,1331.2 L620.1,1331.6 L620.5,1331.5 L621.0,1331.4 L621.5,1331.3 L622.0,1331.5 L622.5,1330.4 L622.9,1332.0 L623.4,1330.4 L623.9,1331.6 L624.4,1331.8 L624.9,1331.5 L625.3,1331.9 L625.8,1333.0 L626.3,1332.0 L626.8,1331.7 L627.3,1332.2 L627.7,1331.7 L628.2,1331.0 L628.7,1331.7 L629.2,1339.3 L631.0,1326.4 L632.9,1355.6 L634.8,1315.4 L636.5,1365.4 L638.1,1312.5 L640.0,1365.5 L641.9,1347.2 L643.6,1366.8 L645.0,1356.5 L646.2,1371.6 L647.8,1346.6 L649.5,1371.2 L651.1,1345.5 L652.7,1371.3 L654.2,1352.2 L655.6,1371.6 L657.2,1354.6 L658.4,1366.9 L659.9,1350.9 L661.6,1370.1 L662.8,1347.9 L664.5,1372.2 L665.9,1352.5 L667.3,1366.8 L669.0,1355.6 L670.4,1370.8 L671.6,1358.3 L673.2,1371.3 L674.6,1359.4 L676.0,1371.5 L677.2,1357.0 L678.8,1370.9 L680.4,1357.9 L682.1,1371.7 L683.5,1356.4 L685.1,1369.5 L686.6,1357.9 L688.1,1369.6 L689.5,1357.3 L691.1,1370.4 L692.8,1358.4 L694.5,1367.7 L695.9,1356.3 L697.6,1368.0 L699.0,1353.2 L700.5,1362.7 L702.3,1296.9 L703.8,1356.1 L705.5,1292.6 L707.6,1371.4 L709.1,1304.7 L710.7,1356.0 L712.3,1316.4 L713.8,1370.4 L715.5,1347.2 L717.2,1371.6 L718.5,1348.2 L720.0,1371.2 L721.6,1346.5 L723.3,1370.8 L724.8,1347.4 L726.2,1366.4 L727.9,1344.1 L729.5,1366.9 L731.0,1351.9 L732.6,1366.5 L733.8,1343.2 L735.3,1371.2 L736.5,1342.5 L738.2,1369.5 L739.4,1349.0 L741.2,1368.0 L742.8,1348.5 L744.6,1368.8 L746.1,1357.4 L747.8,1352.0 L748.3,1350.5 L748.8,1349.0 L749.2,1348.4 L749.7,1347.4 L750.2,1347.5 L750.7,1346.5 L751.2,1346.3 L751.6,1343.8 L752.1,1344.0 L752.6,1344.5 L753.1,1343.8 L753.6,1343.4 L754.0,1343.8 L754.5,1344.3 L755.0,1343.3 L755.5,1344.6 L756.0,1343.2 L756.4,1344.0 L756.9,1343.8 L757.4,1342.9 L757.9,1343.2 L758.4,1343.8 L758.8,1342.3 L759.3,1343.5 L759.8,1341.8 L761.5,1313.1 L763.6,1347.6 L765.5,1303.2 L767.5,1358.3 L769.3,1310.2 L771.2,1367.7 L772.6,1349.8 L774.0,1368.2 L775.7,1349.7 L777.0,1371.0 L778.7,1349.6 L780.5,1367.9 L781.9,1357.9 L783.5,1370.5 L784.8,1356.5 L786.5,1369.2 L787.8,1352.4 L789.6,1371.5 L791.0,1357.3 L792.4,1369.9 L793.7,1351.0 L795.0,1367.8 L796.3,1345.3 L797.6,1367.8 L799.2,1340.1 L800.5,1361.9 L802.1,1342.2 L803.4,1354.9 L805.1,1335.9 L806.9,1346.0 L808.5,1321.9 L810.4,1334.4 L812.3,1302.7 L814.3,1339.4 L816.4,1310.8 L818.0,1340.9 L819.6,1319.3 L821.3,1336.8 L822.8,1330.1 L824.3,1329.7 L824.8,1329.7 L825.2,1331.1 L825.7,1331.5 L826.2,1330.5 L826.7,1331.1 L827.2,1330.5 L827.6,1330.0 L828.1,1329.5 L828.6,1331.0 L829.1,1331.3 L829.6,1330.4 L830.0,1331.3 L830.5,1331.1 L831.0,1330.3 L831.5,1331.1 L832.0,1331.1 L832.4,1330.3 L832.9,1330.4 L833.4,1330.8 L833.9,1330.2 L834.4,1330.0 L834.8,1330.8 L835.3,1331.8 L835.8,1330.9 L836.3,1330.4 L836.8,1330.4 L837.2,1331.5 L837.7,1330.2 L838.2,1330.2 L838.7,1330.3 L839.2,1330.6 L839.6,1330.3 L840.1,1330.6 L840.6,1330.7 L841.1,1331.4 L841.6,1331.0 L842.0,1329.7 L842.5,1330.5 L843.0,1330.1 L843.5,1330.0 L844.0,1330.5 L844.4,1330.3 L844.9,1330.7 L845.4,1330.4 L845.9,1331.5 L846.4,1330.6 L846.8,1330.0 L847.3,1331.1 L847.8,1330.3 L848.3,1330.9 L848.8,1329.8 L849.2,1329.7 L849.7,1329.8 L850.2,1330.2 L850.7,1329.7 L851.2,1331.7 L851.6,1331.6 L852.1,1330.4 L852.6,1331.8 L853.1,1331.4 L853.6,1330.2 L854.0,1330.5 L854.5,1331.1 L855.0,1330.1 L855.5,1331.1 L856.0,1330.2 L856.4,1331.4 L856.9,1332.0 L857.4,1330.9 L857.9,1331.5 L858.4,1330.8 L858.8,1331.0 L859.3,1330.3 L859.8,1331.6 L860.3,1333.1 L860.8,1333.6 L861.2,1333.0 L861.7,1334.2 L862.2,1340.2 L863.9,1329.3 L865.3,1342.1 L866.5,1334.9 L867.7,1357.7 L869.0,1338.7 L870.5,1362.2 L872.0,1343.4 L873.2,1371.1 L874.4,1337.7 L875.7,1371.8 L877.2,1345.1 L878.4,1368.9 L880.0,1346.3 L881.2,1345.4 L882.7,1344.5 L883.2,1343.5 L883.6,1345.0 L884.1,1344.4 L884.6,1344.1 L885.1,1344.5 L885.6,1344.0 L886.0,1344.7 L886.5,1345.9 L887.0,1344.9 L887.5,1344.0 L888.0,1344.8 L888.4,1343.7 L888.9,1344.2 L889.4,1344.8 L889.9,1344.0 L890.4,1343.9 L890.8,1343.7 L891.3,1345.0 L891.8,1344.0 L892.3,1343.9 L892.8,1345.1 L893.2,1345.2 L893.7,1344.9 L894.2,1344.9 L894.7,1344.0 L895.2,1343.6 L895.6,1343.9 L896.1,1344.5 L896.6,1344.2 L897.1,1344.2 L897.6,1344.6 L898.0,1343.9 L898.5,1344.5 L899.0,1343.1 L899.5,1344.1 L900.0,1344.8 L900.4,1343.7 L900.9,1343.4 L901.4,1343.3 L901.9,1344.0 L902.4,1342.9 L902.8,1343.4 L903.3,1342.5 L903.8,1343.9 L904.3,1344.2 L904.8,1343.5 L905.2,1343.9 L905.7,1343.4 L906.2,1343.8 L906.7,1343.5 L907.2,1343.5 L907.6,1342.9 L908.1,1343.5 L908.6,1343.2 L909.1,1343.3 L909.6,1343.1 L910.0,1343.7 L910.5,1344.2 L911.0,1342.8 L911.5,1342.2 L912.0,1344.2 L912.4,1343.0 L912.9,1342.8 L913.4,1343.8 L913.9,1343.7 L914.4,1344.2 L914.8,1343.9 L915.3,1343.2 L915.8,1343.8 L916.3,1343.7 L916.8,1344.5 L917.2,1343.8 L917.7,1344.6 L918.2,1344.0 L918.7,1343.0 L919.2,1343.9 L919.6,1343.0 L920.1,1344.3 L920.6,1343.6 L921.1,1342.9 L921.6,1343.2 L922.0,1343.5 L922.5,1343.1 L923.0,1343.5 L923.5,1342.2 L924.0,1343.6 L924.4,1342.7 L924.9,1343.3 L925.4,1343.1 L925.9,1343.8 L926.4,1344.0 L926.8,1343.4 L927.3,1343.8 L927.8,1342.8 L928.3,1343.7 L928.8,1344.0 L929.2,1344.5 L929.7,1342.8 L930.2,1343.3 L930.7,1343.8 L931.2,1343.9 L931.6,1344.4 L932.1,1343.7 L932.6,1343.9 L933.1,1343.0 L933.6,1342.8 L934.0,1344.8 L934.5,1344.3 L935.0,1344.1 L935.5,1343.8 L936.0,1344.1 L936.4,1344.2 L936.9,1343.5 L937.4,1344.3 L937.9,1343.8 L938.4,1344.4 L938.8,1343.6 L939.3,1343.2 L939.8,1343.9 L940.3,1344.5 L940.8,1343.5 L941.2,1342.8 L941.7,1344.2 L942.2,1343.7 L942.7,1343.1 L943.2,1343.3 L943.6,1343.2 L944.1,1344.0 L944.6,1343.2 L945.1,1343.9 L945.6,1342.8 L946.0,1344.1 L946.5,1342.9 L947.0,1342.9 L947.5,1344.1 L948.0,1343.5 L948.4,1343.8 L948.9,1344.4 L949.4,1344.0 L949.9,1343.6 L950.4,1343.3 L950.8,1344.2 L951.3,1344.7 L951.8,1344.4 L952.3,1344.0 L952.8,1343.4 L953.2,1343.8 L953.7,1343.4 L954.2,1344.4 L954.7,1344.3 L955.2,1343.5 L955.6,1344.2 L956.1,1344.1 L956.6,1342.9 L957.1,1343.0 L957.6,1342.9 L958.0,1343.3 L958.5,1344.7 L959.0,1344.1 L959.5,1343.1 L960.0,1343.7 L960.4,1344.4 L960.9,1344.0 L961.4,1342.5 L961.9,1343.5 L962.4,1344.5 L962.8,1344.9 L963.3,1343.0 L963.8,1344.1 L964.3,1344.3 L964.8,1344.2 L965.2,1344.6 L965.7,1344.0 L966.2,1342.5 L966.7,1343.0 L967.2,1344.2 L967.6,1344.2 L968.1,1343.9 L968.6,1343.1 L969.1,1343.9 L969.6,1343.1 L970.0,1343.8 L970.5,1343.1 L971.0,1343.5 L971.5,1344.7 L972.0,1344.1 L972.4,1343.9 L972.9,1343.8 L973.4,1343.8 L973.9,1343.8 L974.4,1343.8 L974.8,1343.3 L975.3,1342.7 L975.8,1343.5 L976.3,1343.3 L976.8,1343.0 L977.2,1344.0 L977.7,1344.4 L978.2,1343.5 L978.7,1344.1 L979.2,1343.3 L979.6,1344.0 L980.1,1343.7 L980.6,1343.9 L981.1,1343.3 L981.6,1343.8 L982.0,1343.9 L982.5,1344.9 L983.0,1343.7 L983.5,1343.5 L984.0,1344.5 L984.4,1343.1 L984.9,1344.0 L985.4,1343.9 L985.9,1344.9 L986.4,1344.4 L986.8,1343.7 L987.3,1343.2 L987.8,1342.9 L988.3,1342.7 L988.8,1343.7 L989.2,1343.8 L989.7,1344.0 L990.2,1344.2 L990.7,1343.5 L991.2,1343.6 L991.6,1343.7 L992.1,1343.7 L992.6,1343.9 L993.1,1343.6 L993.6,1344.3 L994.0,1344.7 L994.5,1344.1 L995.0,1343.9 L995.5,1343.0 L996.0,1343.2 L996.4,1344.2 L996.9,1343.9 L997.4,1343.5 L997.9,1343.6 L998.4,1344.0 L998.8,1343.4 L999.3,1343.8 L999.8,1344.7 L1000.3,1345.0 L1000.8,1344.1 L1001.2,1344.3 L1001.7,1344.7 L1002.2,1344.5 L1002.7,1343.0 L1003.2,1343.7 L1003.6,1343.7 L1004.1,1343.6 L1004.6,1344.1 L1005.1,1343.9 L1005.6,1343.8 L1006.0,1344.3 L1006.5,1344.6 L1007.0,1343.1 L1007.5,1343.2 L1008.0,1344.0 L1008.4,1342.8 L1008.9,1343.4 L1009.4,1343.8 L1009.9,1344.1 L1010.4,1343.7 L1010.8,1344.3 L1011.3,1344.0 L1011.8,1344.4 L1012.3,1343.6 L1012.8,1343.8 L1013.2,1344.3 L1013.7,1343.9 L1014.2,1343.5 L1014.7,1344.2 L1015.2,1344.7 L1015.6,1343.8 L1016.1,1343.5 L1016.6,1344.1 L1017.1,1343.1 L1017.6,1342.7 L1018.0,1344.3 L1018.5,1343.8 L1019.0,1343.8 L1019.5,1344.8 L1020.0,1344.1 L1020.4,1343.7 L1020.9,1343.8 L1021.4,1344.1 L1021.9,1343.7 L1022.4,1344.2 L1022.8,1344.3 L1023.3,1343.3 L1023.8,1343.4 L1024.3,1344.3 L1024.8,1343.8 L1025.2,1344.3 L1025.7,1344.0 L1026.2,1344.4 L1026.7,1344.9 L1027.2,1343.5 L1027.6,1344.3 L1028.1,1342.8 L1028.6,1343.9 L1029.1,1344.4 L1029.6,1344.3 L1030.0,1344.1 L1030.5,1344.4 L1031.0,1344.2 L1031.5,1343.8 L1032.0,1343.3 L1032.4,1344.9 L1032.9,1344.7 L1033.4,1343.6 L1033.9,1343.5 L1034.4,1344.4 L1034.8,1343.0 L1035.3,1342.0 L1035.8,1344.6 L1036.3,1343.6 L1036.8,1344.5 L1037.2,1343.8 L1037.7,1342.9 L1038.2,1344.2 L1038.7,1344.7 L1039.2,1343.2 L1039.6,1343.8 L1040.1,1343.9 L1040.6,1343.1 L1041.1,1343.9 L1041.6,1343.3 L1042.0,1344.1 L1042.5,1344.2 L1043.0,1343.6 L1043.5,1342.9 L1044.0,1343.8 L1044.4,1345.2 L1044.9,1343.8 L1045.4,1344.8 L1045.9,1344.1 L1046.4,1343.7 L1046.8,1343.0 L1047.3,1344.5 L1047.8,1343.6 L1048.3,1343.8 L1048.8,1344.1 L1049.2,1344.5 L1049.7,1343.2 L1050.2,1344.4 L1050.7,1343.6 L1051.2,1344.0 L1051.6,1344.5 L1052.1,1343.8 L1052.6,1343.7 L1053.1,1344.6 L1053.6,1344.0 L1054.0,1343.6 L1054.5,1344.6 L1055.0,1342.3 L1055.5,1344.0 L1056.0,1344.8 L1056.4,1345.0 L1056.9,1344.8 L1057.4,1344.0 L1057.9,1343.6 L1058.4,1344.0 L1058.8,1344.7 L1059.3,1343.9 L1059.8,1344.7 L1060.3,1343.6 L1060.8,1344.5 L1061.2,1344.5 L1061.7,1343.7 L1062.2,1344.5 L1062.7,1344.5 L1063.2,1344.5 L1063.6,1343.9 L1064.1,1344.5 L1064.6,1344.2 L1065.1,1343.6 L1065.6,1343.8 L1066.0,1344.2 L1066.5,1344.9 L1067.0,1345.2 L1067.5,1344.8 L1068.0,1344.3 L1068.4,1344.4 L1068.9,1344.7 L1069.4,1344.2 L1069.9,1343.4 L1070.4,1343.9 L1070.8,1343.4 L1071.3,1344.6 L1071.8,1343.9 L1072.3,1344.0 L1072.8,1344.5 L1073.2,1344.8 L1073.7,1343.6 L1074.2,1344.1 L1074.7,1343.3 L1075.2,1343.9 L1075.6,1343.7 L1076.1,1345.0 L1076.6,1343.5 L1077.1,1343.2 L1077.6,1342.9 L1078.0,1344.1 L1078.5,1343.8 L1079.0,1344.8 L1079.5,1343.7 L1080.0,1344.6 L1080.4,1343.7 L1080.9,1344.6 L1081.4,1344.2 L1081.9,1343.9 L1082.4,1343.9 L1082.8,1345.4 L1083.3,1344.5 L1083.8,1343.8 L1084.3,1344.9 L1084.8,1344.2 L1085.2,1344.5 L1085.7,1344.2 L1086.2,1343.7 L1086.7,1343.6 L1087.2,1343.9 L1087.6,1343.6 L1088.1,1345.1 L1088.6,1344.9 L1089.1,1344.1 L1089.6,1344.0 L1090.0,1344.3 L1090.5,1344.4 L1091.0,1342.9 L1091.5,1344.3 L1092.0,1344.1 L1092.4,1344.1 L1092.9,1343.8 L1093.4,1343.8 L1093.9,1345.0 L1094.4,1344.2 L1094.8,1343.8 L1095.3,1343.6 L1095.8,1343.7 L1096.3,1343.7 L1096.8,1345.3 L1097.2,1344.2 L1097.7,1343.9 L1098.2,1344.9 L1098.7,1344.4 L1099.2,1343.8 L1099.6,1344.8 L1100.1,1344.2 L1100.6,1343.5 L1101.1,1343.5 L1101.6,1343.1 L1102.0,1344.2 L1102.5,1343.6 L1103.0,1343.7 L1103.5,1342.6 L1104.0,1343.2 L1104.4,1344.2 L1104.9,1343.9 L1105.4,1344.1 L1105.9,1344.1 L1106.4,1343.9 L1106.8,1345.1 L1107.3,1343.7 L1107.8,1343.5 L1108.3,1343.0 L1108.8,1345.1 L1109.2,1344.4 L1109.7,1344.6 L1110.2,1344.0 L1110.7,1344.0 L1111.2,1344.3 L1111.6,1344.2 L1112.1,1344.1 L1112.6,1343.8 L1113.1,1343.7 L1113.6,1343.8 L1114.0,1343.4 L1114.5,1345.0 L1115.0,1344.1 L1115.5,1344.4 L1116.0,1344.1 L1116.4,1343.4 L1116.9,1344.1 L1117.4,1344.7 L1117.9,1344.1 L1118.4,1344.7 L1118.8,1343.7 L1119.3,1344.7 L1119.8,1343.9 L1120.3,1343.8 L1120.8,1345.2 L1121.2,1343.6 L1121.7,1343.7 L1122.2,1343.4 L1122.7,1343.6 L1123.2,1344.1 L1123.6,1344.4 L1124.1,1344.8 L1124.6,1343.7 L1125.1,1345.5 L1125.6,1344.8 L1126.0,1344.9 L1126.5,1343.9 L1127.0,1343.9 L1127.5,1345.1 L1128.0,1344.6 L1128.4,1343.2 L1128.9,1343.4 L1129.4,1343.8 L1129.9,1345.1 L1130.4,1344.0 L1130.8,1344.0 L1131.3,1344.4 L1131.8,1344.2 L1132.3,1344.9 L1132.8,1344.5 L1133.2,1344.2 L1133.7,1343.4 L1134.2,1343.6 L1134.7,1343.8 L1135.2,1344.7 L1135.6,1344.3 L1136.1,1343.7 L1136.6,1344.8 L1137.1,1344.3 L1137.6,1345.5 L1138.0,1344.7 L1138.5,1343.3 L1139.0,1344.8 L1139.5,1344.6 L1140.0,1344.7 L1140.4,1344.2 L1140.9,1344.0 L1141.4,1343.8 L1141.9,1344.6 L1142.4,1344.8 L1142.8,1344.3 L1143.3,1344.9 L1143.8,1344.2 L1144.3,1345.0 L1144.8,1344.7 L1145.2,1344.0 L1145.7,1344.8 L1146.2,1344.5 L1146.7,1344.0 L1147.2,1344.7 L1147.6,1344.6 L1148.1,1343.7 L1148.6,1344.3 L1149.1,1343.3 L1149.6,1344.8 L1150.0,1344.5 L1150.5,1343.4 L1151.0,1344.3 L1151.5,1343.8 L1152.0,1343.7 L1152.4,1344.3 L1152.9,1343.6 L1153.4,1344.9 L1153.9,1344.1 L1154.4,1344.8 L1154.8,1344.6 L1155.3,1344.6 L1155.8,1343.4 L1156.3,1344.9 L1156.8,1344.3 L1157.2,1345.1 L1157.7,1344.2 L1158.2,1344.3 L1158.7,1344.8 L1159.2,1344.4 L1159.6,1344.2 L1160.1,1344.1 L1160.6,1344.6 L1161.1,1344.6 L1161.6,1344.1 L1162.0,1344.4 L1162.5,1344.4 L1163.0,1343.8 L1163.5,1344.9 L1164.0,1343.5 L1164.4,1344.6 L1164.9,1344.3 L1165.4,1344.8 L1165.9,1343.9 L1166.4,1343.4 L1166.8,1344.6 L1167.3,1344.8 L1167.8,1344.4 L1168.3,1344.4 L1168.8,1344.2 L1169.2,1344.5 L1169.7,1343.7 L1170.2,1344.6 L1170.7,1344.4 L1171.2,1344.1 L1171.6,1345.1 L1172.1,1345.2 L1172.6,1343.9 L1173.1,1345.1 L1173.6,1344.5 L1174.0,1343.8 L1174.5,1344.3 L1175.0,1343.8 L1175.5,1345.3 L1176.0,1343.5 L1176.4,1343.3 L1176.9,1344.6 L1177.4,1344.9 L1177.9,1344.6 L1178.4,1344.7 L1178.8,1344.8 L1179.3,1345.1 L1179.8,1343.9 L1180.3,1345.3 L1180.8,1344.2 L1181.2,1344.1 L1181.7,1343.7 L1182.2,1345.2 L1182.7,1344.4 L1183.2,1344.3 L1183.6,1345.0 L1184.1,1344.2 L1184.6,1341.2 L1185.1,1334.0 L1185.6,1331.3 L1186.0,1330.9 L1186.5,1331.9 L1187.0,1332.2 L1187.5,1330.9 L1188.0,1331.8 L1188.4,1330.5 L1188.9,1330.6 L1189.4,1332.1 L1189.9,1332.1 L1190.4,1331.6 L1190.8,1331.2 L1191.3,1332.3 L1191.8,1332.2 L1192.3,1332.1 L1192.8,1331.2 L1193.2,1331.4 L1193.7,1331.2 L1194.2,1330.1 L1194.7,1331.5 L1195.2,1331.8 L1195.6,1331.8 L1196.1,1331.8 L1196.6,1331.8 L1197.1,1332.4 L1197.6,1331.4 L1198.0,1331.9 L1198.5,1332.7 L1199.0,1331.6 L1199.5,1332.0 L1200.0,1331.2 L1200.4,1331.8 L1200.9,1331.5 L1201.4,1331.5 L1201.9,1332.2 L1202.4,1331.4 L1202.8,1332.3 L1203.3,1332.7 L1203.8,1331.3 L1204.3,1332.1 L1204.8,1331.1 L1205.2,1331.7 L1205.7,1331.2 L1206.2,1331.5 L1206.7,1331.3 L1207.2,1331.5 L1207.6,1331.2 L1208.1,1331.5 L1208.6,1331.5 L1209.1,1331.0 L1209.6,1332.4 L1210.0,1332.0 L1210.5,1331.9 L1211.0,1331.1 L1211.5,1332.0 L1212.0,1331.6 L1212.4,1332.1 L1212.9,1331.3 L1213.4,1331.7 L1213.9,1331.5 L1214.4,1332.0 L1214.8,1331.2 L1215.3,1330.7 L1215.8,1331.4 L1216.3,1330.7 L1216.8,1331.1 L1217.2,1331.3 L1217.7,1331.5 L1218.2,1331.0 L1218.7,1331.7 L1219.2,1331.5 L1219.6,1330.9 L1220.1,1331.7 L1220.6,1331.3 L1221.1,1330.1 L1221.6,1330.9 L1222.0,1331.4 L1222.5,1331.3 L1223.0,1330.3 L1223.5,1331.9 L1224.0,1331.6 L1224.4,1331.8 L1224.9,1332.1 L1225.4,1330.7 L1225.9,1331.2 L1226.4,1332.2 L1226.8,1330.3 L1227.3,1331.4 L1227.8,1331.6 L1228.3,1331.4 L1228.8,1332.0 L1229.2,1330.5 L1229.7,1330.6 L1230.2,1331.7 L1230.7,1331.9 L1231.2,1331.5 L1231.6,1331.5 L1232.1,1331.7 L1232.6,1330.3 L1233.1,1331.3 L1233.6,1332.2 L1234.0,1331.7 L1234.5,1331.8 L1235.0,1332.0 L1235.5,1330.9 L1236.0,1331.1 L1236.4,1331.9 L1236.9,1331.5 L1237.4,1331.6 L1237.9,1331.1 L1238.4,1331.2 L1238.8,1330.3 L1239.3,1331.3 L1239.8,1331.6 L1240.3,1331.1 L1240.8,1332.2 L1241.2,1330.7 L1241.7,1331.2 L1242.2,1331.7 L1242.7,1331.8 L1243.2,1331.2 L1243.6,1330.6 L1244.1,1331.1 L1244.6,1331.8 L1245.1,1331.7 L1245.6,1331.5 L1246.0,1330.9 L1246.5,1331.4 L1247.0,1331.8 L1247.5,1332.5 L1248.0,1331.1 L1248.4,1331.6 L1248.9,1330.8 L1249.4,1332.5 L1249.9,1331.4 L1250.4,1331.4 L1250.8,1330.8 L1251.3,1331.9 L1251.8,1331.1 L1252.3,1331.5 L1252.8,1330.9 L1253.2,1331.4 L1253.7,1331.3 L1254.2,1331.7 L1254.7,1331.5 L1255.2,1331.7 L1255.6,1331.3 L1256.1,1330.9 L1256.6,1331.3 L1257.1,1331.3 L1257.6,1331.6 L1258.0,1331.0 L1258.5,1330.5 L1259.0,1331.2 L1259.5,1330.9 L1260.0,1329.7 L1260.4,1331.1 L1260.9,1331.9 L1261.4,1331.3 L1261.9,1331.1 L1262.4,1331.4 L1262.8,1330.3 L1263.3,1331.0 L1263.8,1331.5 L1264.3,1330.8 L1264.8,1331.9 L1265.2,1331.1 L1265.7,1332.3 L1266.2,1331.6 L1266.7,1331.8 L1267.2,1330.6 L1267.6,1331.4 L1268.1,1330.7 L1268.6,1332.0 L1269.1,1330.5 L1269.6,1331.0 L1270.0,1332.0 L1270.5,1331.6 L1271.0,1331.0 L1271.5,1331.7 L1272.0,1331.8 L1272.4,1330.7 L1272.9,1331.4 L1273.4,1332.1 L1273.9,1331.8 L1274.4,1332.9 L1274.8,1331.6 L1275.3,1331.7 L1275.8,1331.7 L1276.3,1331.5 L1276.8,1331.4 L1277.2,1331.5 L1277.7,1331.0 L1278.2,1331.4 L1278.7,1331.9 L1279.2,1331.0 L1279.6,1331.8 L1280.1,1331.8 L1280.6,1332.6 L1281.1,1330.6 L1281.6,1330.3 L1282.0,1331.1 L1282.5,1330.9 L1283.0,1330.4 L1283.5,1332.1 L1284.0,1331.3 L1284.4,1331.7 L1284.9,1331.8 L1285.4,1331.3 L1285.9,1332.3 L1286.4,1331.2 L1286.8,1330.5 L1287.3,1331.1 L1287.8,1331.8 L1288.3,1330.7 L1288.8,1331.1 L1289.2,1332.3 L1289.7,1331.9 L1290.2,1331.7 L1290.7,1331.3 L1291.2,1331.0 L1291.6,1331.9 L1292.1,1331.3 L1292.6,1330.3 L1293.1,1331.1 L1293.6,1331.1 L1294.0,1332.2 L1294.5,1330.8 L1295.0,1332.6 L1295.5,1331.9 L1296.0,1330.6 L1296.4,1331.2 L1296.9,1331.2 L1297.4,1332.0 L1297.9,1332.3 L1298.4,1331.1 L1298.8,1331.0 L1299.3,1331.4 L1299.8,1332.3 L1300.3,1330.8 L1300.8,1331.7 L1301.2,1331.3 L1301.7,1330.8 L1302.2,1329.9 L1302.7,1330.2 L1303.2,1331.7 L1303.6,1330.7 L1304.1,1330.9 L1304.6,1330.8 L1305.1,1331.5 L1305.6,1331.6 L1306.0,1330.7 L1306.5,1331.6 L1307.0,1331.0 L1307.5,1332.2 L1308.0,1332.2 L1308.4,1331.7 L1308.9,1331.5 L1309.4,1330.4 L1309.9,1331.6 L1310.4,1331.8 L1310.8,1331.5 L1311.3,1330.4 L1311.8,1330.6 L1312.3,1331.2 L1312.8,1331.7 L1313.2,1331.0 L1313.7,1331.5 L1314.2,1330.6 L1314.7,1332.4 L1315.2,1331.4 L1315.6,1331.6 L1316.1,1332.0 L1316.6,1331.5 L1317.1,1332.2 L1317.6,1332.0 L1318.0,1331.2 L1318.5,1330.7 L1319.0,1331.7 L1319.5,1330.8 L1320.0,1331.3 L1320.4,1332.2 L1320.9,1331.0 L1321.4,1330.5 L1321.9,1331.7 L1322.4,1331.2 L1322.8,1331.7 L1323.3,1331.8 L1323.8,1332.0 L1324.3,1331.5 L1324.8,1331.2 L1325.2,1330.5 L1325.7,1332.6 L1326.2,1331.7 L1326.7,1330.6 L1327.2,1332.3 L1327.6,1331.3 L1328.1,1331.9 L1328.6,1331.3 L1329.1,1331.9 L1329.6,1331.7 L1330.0,1331.4 L1330.5,1330.5 L1331.0,1331.3 L1331.5,1331.4 L1332.0,1333.4 L1332.4,1331.3 L1332.9,1331.8 L1333.4,1332.3 L1333.9,1331.3 L1334.4,1331.4 L1334.8,1332.5 L1335.3,1331.5 L1335.8,1331.4 L1336.3,1331.8 L1336.8,1331.8 L1337.2,1331.2 L1337.7,1330.7 L1338.2,1330.5 L1338.7,1331.7 L1339.2,1331.3 L1339.6,1331.3 L1340.1,1331.3 L1340.6,1331.3 L1341.1,1331.0 L1341.6,1330.9 L1342.0,1330.7 L1342.5,1331.3 L1343.0,1331.1 L1343.5,1331.3 L1344.0,1331.1 L1344.4,1331.7 L1344.9,1332.2 L1345.4,1331.5 L1345.9,1332.0 L1346.4,1330.6 L1346.8,1331.5 L1347.3,1332.1 L1347.8,1331.4 L1348.3,1330.7 L1348.8,1331.7 L1349.2,1332.1 L1349.7,1332.1 L1350.2,1331.6 L1350.7,1331.1 L1351.2,1331.2 L1351.6,1331.2 L1352.1,1330.2 L1352.6,1331.3 L1353.1,1331.2 L1353.6,1331.3 L1354.0,1332.0 L1354.5,1331.7 L1355.0,1332.2 L1355.5,1331.8 L1356.0,1331.3 L1356.4,1331.3 L1356.9,1330.6 L1357.4,1330.4 L1357.9,1330.5 L1358.4,1331.3 L1358.8,1330.9 L1359.3,1331.8 L1359.8,1331.0 L1360.3,1331.0 L1360.8,1332.3 L1361.2,1332.6 L1361.7,1330.8 L1362.2,1331.7 L1362.7,1331.0 L1363.2,1331.5 L1363.6,1331.7 L1364.1,1331.3 L1364.6,1330.7 L1365.1,1330.7 L1365.6,1331.6 L1366.0,1331.1 L1366.5,1332.1 L1367.0,1330.3 L1367.5,1330.9 L1368.0,1331.1 L1368.4,1330.7 L1368.9,1331.0 L1369.4,1331.3 L1369.9,1331.1 L1370.4,1331.8 L1370.8,1331.8 L1371.3,1331.6 L1371.8,1331.8 L1372.3,1331.1 L1372.8,1331.3 L1373.2,1331.7 L1373.7,1331.7 L1374.2,1332.1 L1374.7,1331.6 L1375.2,1331.5 L1375.6,1331.4 L1376.1,1330.7 L1376.6,1330.9 L1377.1,1331.3 L1377.6,1331.3 L1378.0,1331.7 L1378.5,1332.0 L1379.0,1331.8 L1379.5,1331.1 L1380.0,1331.8 L1380.4,1331.8 L1380.9,1331.3 L1381.4,1332.0 L1381.9,1332.1 L1382.4,1331.6 L1382.8,1331.1 L1383.3,1331.6 L1383.8,1331.6 L1384.3,1331.8 L1384.8,1331.5 L1385.2,1330.4 L1385.7,1331.2 L1386.2,1331.5 L1386.7,1331.3 L1387.2,1331.2 L1387.6,1331.9 L1388.1,1330.5 L1388.6,1330.9 L1389.1,1330.8 L1389.6,1331.1 L1390.0,1330.9 L1390.5,1332.2 L1391.0,1332.1 L1391.5,1331.7 L1392.0,1331.3 L1392.4,1331.2 L1392.9,1331.7 L1393.4,1331.5 L1393.9,1331.8 L1394.4,1330.8 L1394.8,1332.3 L1395.3,1332.2 L1395.8,1331.4 L1396.3,1331.6 L1396.8,1332.3 L1397.2,1330.2 L1397.7,1331.5 L1398.2,1332.4 L1398.7,1332.2 L1399.2,1330.0 L1399.6,1331.6 L1400.1,1331.3 L1400.6,1331.3 L1401.1,1331.8 L1401.6,1332.5 L1402.0,1332.8 L1402.5,1331.1 L1403.0,1331.2 L1403.5,1331.5 L1404.0,1331.6 L1404.4,1331.7 L1404.9,1330.5 L1405.4,1331.5 L1405.9,1331.8 L1406.4,1331.2 L1406.8,1331.7 L1407.3,1331.1 L1407.8,1330.9 L1408.3,1330.3 L1408.8,1330.7 L1409.2,1331.4 L1409.7,1331.8 L1410.2,1330.6 L1410.7,1331.7 L1411.2,1330.9 L1411.6,1332.0 L1412.1,1331.0 L1412.6,1331.9 L1413.1,1332.0 L1413.6,1331.6 L1414.0,1331.3 L1414.5,1331.4 L1415.0,1330.7 L1415.5,1330.0 L1416.0,1331.6 L1416.4,1331.8 L1416.9,1330.3 L1417.4,1330.6 L1417.9,1331.2 L1418.4,1330.8 L1418.8,1330.9 L1419.3,1331.9 L1419.8,1331.1 L1420.3,1331.4 L1420.8,1332.0 L1421.2,1330.6 L1421.7,1331.4 L1422.2,1332.3 L1422.7,1332.2 L1423.2,1331.3 L1423.6,1330.6 L1424.1,1331.0 L1424.6,1331.4 L1425.1,1331.8 L1425.6,1331.6 L1426.0,1332.0 L1426.5,1331.1 L1427.0,1330.6 L1427.5,1331.9 L1428.0,1331.9 L1428.4,1331.3 L1428.9,1330.9 L1429.4,1330.0 L1429.9,1331.0 L1430.4,1331.3 L1430.8,1331.3 L1431.3,1331.5 L1431.8,1331.4 L1432.3,1331.2 L1432.8,1332.1 L1433.2,1330.8 L1433.7,1330.3 L1434.2,1330.8 L1434.7,1331.6 L1435.2,1332.1 L1435.6,1331.2 L1436.1,1331.2 L1436.6,1331.8 L1437.1,1330.7 L1437.6,1331.9 L1438.0,1331.5 L1438.5,1331.0 L1439.0,1330.8 L1439.5,1330.1 L1440.0,1331.2 L1440.4,1331.7 L1440.9,1331.6 L1441.4,1331.8 L1441.9,1332.0 L1442.4,1331.9 L1442.8,1331.5 L1443.3,1331.1 L1443.8,1330.0 L1444.3,1331.9 L1444.8,1331.2 L1445.2,1331.3 L1445.7,1332.2 L1446.2,1331.2 L1446.7,1331.3 L1447.2,1331.2 L1447.6,1331.5 L1448.1,1331.7 L1448.6,1331.6 L1449.1,1331.8 L1449.6,1331.7 L1450.0,1330.9 L1450.5,1331.7 L1451.0,1330.8 L1451.5,1331.2 L1452.0,1331.1 L1452.4,1332.5 L1452.9,1331.3 L1453.4,1331.0 L1453.9,1331.4 L1454.4,1331.3 L1454.8,1330.7 L1455.3,1330.8 L1455.8,1331.7 L1456.3,1331.6 L1456.8,1331.1 L1457.2,1332.0 L1457.7,1330.8 L1458.2,1331.7 L1458.7,1331.2 L1459.2,1332.0 L1459.6,1331.7 L1460.1,1331.5 L1460.6,1331.5 L1461.1,1332.1 L1461.6,1331.0 L1462.0,1332.5 L1462.5,1331.1 L1463.0,1331.4 L1463.5,1331.1 L1464.0,1331.8 L1464.4,1330.9 L1464.9,1330.7 L1465.4,1331.8 L1465.9,1330.8 L1466.4,1331.7 L1466.8,1330.3 L1467.3,1331.6 L1467.8,1331.0 L1468.3,1331.8 L1468.8,1330.8 L1469.2,1331.4 L1469.7,1331.1 L1470.2,1331.6 L1470.7,1331.5 L1471.2,1331.8 L1471.6,1332.3 L1472.1,1330.9 L1472.6,1331.7 L1473.1,1331.8 L1473.6,1332.7 L1474.0,1331.6 L1474.5,1331.9 L1475.0,1331.4 L1475.5,1331.4 L1476.0,1330.9 L1476.4,1330.1 L1476.9,1330.9 L1477.4,1331.7 L1477.9,1330.6 L1478.4,1331.5 L1478.8,1331.8 L1479.3,1331.6 L1479.8,1331.6 L1480.3,1331.5 L1480.8,1331.9 L1481.2,1330.9 L1481.7,1331.9 L1482.2,1331.6 L1482.7,1331.6 L1483.2,1331.6 L1483.6,1331.3 L1484.1,1331.4 L1484.6,1332.2 L1485.1,1332.1 L1485.6,1330.6 L1486.0,1331.1 L1486.5,1332.3 L1487.0,1330.3 L1487.5,1331.5 L1488.0,1331.1 L1488.4,1331.3 L1488.9,1332.1 L1489.4,1330.8 L1489.9,1330.9 L1490.4,1331.2 L1490.8,1331.2 L1491.3,1331.6 L1491.8,1331.2 L1492.3,1331.2 L1492.8,1331.2 L1493.2,1331.6 L1493.7,1331.5 L1494.2,1331.0 L1494.7,1331.3 L1495.2,1330.5 L1495.6,1330.6 L1496.1,1331.6 L1496.6,1330.8 L1497.1,1331.2 L1497.6,1331.1 L1498.0,1331.8 L1498.5,1330.7 L1499.0,1331.5 L1499.5,1332.8 L1500.0,1331.2 L1500.4,1331.3 L1500.9,1331.0 L1501.4,1330.5 L1501.9,1331.6 L1502.4,1332.0 L1502.8,1332.2 L1503.3,1332.3 L1503.8,1330.9 L1504.3,1331.6 L1504.8,1331.6 L1505.2,1331.6 L1505.7,1332.5 L1506.2,1331.9 L1506.7,1331.0 L1507.2,1331.6 L1507.6,1332.7 L1508.1,1331.1 L1508.6,1330.0 L1509.1,1331.0 L1509.6,1332.1 L1510.0,1330.8 L1510.5,1331.2 L1511.0,1330.8 L1511.5,1331.2 L1512.0,1331.5 L1512.4,1330.8 L1512.9,1330.6 L1513.4,1330.5 L1513.9,1331.5 L1514.4,1331.0 L1514.8,1331.6 L1515.3,1330.9 L1515.8,1331.0 L1516.3,1330.3 L1516.8,1331.4 L1517.2,1331.4 L1517.7,1331.0 L1518.2,1331.6 L1518.7,1330.6 L1519.2,1331.7 L1519.6,1332.2 L1520.1,1331.3 L1520.6,1331.6 L1521.1,1332.6 L1521.6,1331.4 L1522.0,1331.5 L1522.5,1332.4 L1523.0,1331.5 L1523.5,1331.3 L1524.0,1332.3 L1524.4,1331.7 L1524.9,1332.1 L1525.4,1331.5 L1525.9,1331.8 L1526.4,1331.2 L1526.8,1331.3 L1527.3,1331.6 L1527.8,1331.8 L1528.3,1331.1 L1528.8,1331.5 L1529.2,1331.3 L1529.7,1331.8 L1530.2,1330.8 L1530.7,1332.4 L1531.2,1331.6 L1531.6,1331.6 L1532.1,1331.3 L1532.6,1331.3 L1533.1,1330.9 L1533.6,1331.8 L1534.0,1331.3 L1534.5,1330.5 L1535.0,1330.4 L1535.5,1331.2 L1536.0,1330.4 L1536.4,1331.7 L1536.9,1331.2 L1537.4,1330.7 L1537.9,1331.4 L1538.4,1330.8 L1538.8,1331.5 L1539.3,1331.5 L1539.8,1331.2 L1540.3,1331.3 L1540.8,1331.4 L1541.2,1331.0 L1541.7,1331.5 L1542.2,1331.5 L1542.7,1332.6 L1543.2,1332.0 L1543.6,1331.5 L1544.1,1330.7 L1544.6,1331.1" fill="none" stroke="#95E77E" stroke-opacity="0.8" stroke-width="2.25" stroke-linejoin="round"/>
</g>
<rect x="107" y="1213" width="1438" height="142" fill="none" stroke="#111" stroke-width="2"/>
<line x1="107" y1="1355" x2="107" y2="1362.1" stroke="#111" stroke-width="2"/>
<text x="107.00" y="1385.80" font-family="'DejaVu Sans', 'Liberation Sans', sans-serif" font-size="20.83" text-anchor="middle" font-weight="normal" fill="#000">0</text>
<line x1="347" y1="1355" x2="347" y2="1362.1" stroke="#111" stroke-width="2"/>
<text x="346.67" y="1385.80" font-family="'DejaVu Sans', 'Liberation Sans', sans-serif" font-size="20.83" text-anchor="middle" font-weight="normal" fill="#000">500</text>
<line x1="586" y1="1355" x2="586" y2="1362.1" stroke="#111" stroke-width="2"/>
<text x="586.33" y="1385.80" font-family="'DejaVu Sans', 'Liberation Sans', sans-serif" font-size="20.83" text-anchor="middle" font-weight="normal" fill="#000">1000</text>
<line x1="826" y1="1355" x2="826" y2="1362.1" stroke="#111" stroke-width="2"/>
<text x="826.00" y="1385.80" font-family="'DejaVu Sans', 'Liberation Sans', sans-serif" font-size="20.83" text-anchor="middle" font-weight="normal" fill="#000">1500</text>
<line x1="1066" y1="1355" x2="1066" y2="1362.1" stroke="#111" stroke-width="2"/>
<text x="1065.67" y="1385.80" font-family="'DejaVu Sans', 'Liberation Sans', sans-serif" font-size="20.83" text-anchor="middle" font-weight="normal" fill="#000">2000</text>
<line x1="1305" y1="1355" x2="1305" y2="1362.1" stroke="#111" stroke-width="2"/>
<text x="1305.33" y="1385.80" font-family="'DejaVu Sans', 'Liberation Sans', sans-serif" font-size="20.83" text-anchor="middle" font-weight="normal" fill="#000">2500</text>
<line x1="1545" y1="1355" x2="1545" y2="1362.1" stroke="#111" stroke-width="2"/>
<text x="1545.00" y="1385.80" font-family="'DejaVu Sans', 'Liberation Sans', sans-serif" font-size="20.83" text-anchor="middle" font-weight="normal" fill="#000">3000</text>
<line x1="99.9" y1="1237" x2="107" y2="1237" stroke="#111" stroke-width="2"/>
<text x="92.60" y="1244.80" font-family="'DejaVu Sans', 'Liberation Sans', sans-serif" font-size="20.83" text-anchor="end" font-weight="normal" fill="#000">C3</text>
<line x1="99.9" y1="1284" x2="107" y2="1284" stroke="#111" stroke-width="2"/>
<text x="92.60" y="1291.80" font-family="'DejaVu Sans', 'Liberation Sans', sans-serif" font-size="20.83" text-anchor="end" font-weight="normal" fill="#000">C4</text>
<line x1="99.9" y1="1331" x2="107" y2="1331" stroke="#111" stroke-width="2"/>
<text x="92.60" y="1338.80" font-family="'DejaVu Sans', 'Liberation Sans', sans-serif" font-size="20.83" text-anchor="end" font-weight="normal" fill="#000">Pz</text>
<text x="826.00" y="1199.90" font-family="'DejaVu Sans', 'Liberation Sans', sans-serif" font-size="22.92" text-anchor="middle" font-weight="bold" fill="#000">Preview with oscillation (all channels)</text>
<text x="826.00" y="1413.75" font-family="'DejaVu Sans', 'Liberation Sans', sans-serif" font-size="20.83" text-anchor="middle" font-weight="normal" fill="#000">Time (samples)</text>
<rect x="1591" y="52" width="944" height="142" fill="none" stroke="#111" stroke-width="2"/>
<text x="2063.00" y="39.20" font-family="'DejaVu Sans', 'Liberation Sans', sans-serif" font-size="20.83" text-anchor="middle" font-weight="bold" fill="#000">Drawing Mode</text>
<circle cx="1732.8" cy="99.3" r="5.3" fill="#fff" stroke="#000" stroke-width="2.1"/>
<text x="1827.00" y="105.08" font-family="'DejaVu Sans', 'Liberation Sans', sans-serif" font-size="20.83" text-anchor="start" font-weight="normal" fill="#000">Letter (oscillate)</text>
<circle cx="1732.8" cy="146.7" r="5.3" fill="#0000ff" stroke="#000" stroke-width="2.1"/>
<text x="1827.00" y="153.02" font-family="'DejaVu Sans', 'Liberation Sans', sans-serif" font-size="20.83" text-anchor="start" font-weight="normal" fill="#000">Baseline (smooth)</text>
<rect x="1660" y="317" width="819" height="44" fill="#d9d9d9" stroke="#111" stroke-width="2"/>
<text x="2069.50" y="344.75" font-family="'DejaVu Sans', 'Liberation Sans', sans-serif" font-size="20.83" text-anchor="middle" font-weight="normal" fill="#000">Clear C3</text>
<rect x="1660" y="382" width="819" height="43" fill="#d9d9d9" stroke="#111" stroke-width="2"/>
<text x="2069.50" y="409.75" font-family="'DejaVu Sans', 'Liberation Sans', sans-serif" font-size="20.83" text-anchor="middle" font-weight="normal" fill="#000">Clear C4</text>
<rect x="1660" y="447" width="819" height="43" fill="#d9d9d9" stroke="#111" stroke-width="2"/>
<text x="2069.50" y="474.08" font-family="'DejaVu Sans', 'Liberation Sans', sans-serif" font-size="20.83" text-anchor="middle" font-weight="normal" fill="#000">Clear Pz</text>
<rect x="1660" y="511" width="819" height="44" fill="#d9d9d9" stroke="#111" stroke-width="2"/>
<text x="2069.50" y="538.75" font-family="'DejaVu Sans', 'Liberation Sans', sans-serif" font-size="20.83" text-anchor="middle" font-weight="normal" fill="#000">Clear All</text>
<rect x="1660" y="609" width="819" height="43" fill="#d9d9d9" stroke="#111" stroke-width="2"/>
<text x="2069.50" y="636.25" font-family="'DejaVu Sans', 'Liberation Sans', sans-serif" font-size="20.83" text-anchor="middle" font-weight="normal" fill="#000">Save Pattern</text>
<rect x="1660" y="673" width="819" height="43" fill="#d9d9d9" stroke="#111" stroke-width="2"/>
<text x="2069.50" y="700.92" font-family="'DejaVu Sans', 'Liberation Sans', sans-serif" font-size="20.83" text-anchor="middle" font-weight="normal" fill="#000">Load Pattern</text>
<rect x="1660" y="738" width="819" height="43" fill="#d9d9d9" stroke="#111" stroke-width="2"/>
<text x="2069.50" y="765.58" font-family="'DejaVu Sans', 'Liberation Sans', sans-serif" font-size="20.83" text-anchor="middle" font-weight="normal" fill="#000">Export PNG</text>
<rect x="1660" y="803" width="819" height="43" fill="#d9d9d9" stroke="#111" stroke-width="2"/>
<text x="2069.50" y="830.25" font-family="'DejaVu Sans', 'Liberation Sans', sans-serif" font-size="20.83" text-anchor="middle" font-weight="normal" fill="#000">Export GIF</text>
<rect x="1711.3" y="866.15" width="716.6" height="17.70" fill="#d3d3d3"/>
<rect x="1711.3" y="866.15" width="287.5" height="17.70" fill="#1f77b4"/>
<circle cx="1998.80" cy="875.80" r="10.4" fill="#fff" stroke="#bfbfbf" stroke-width="2.1"/>
<text x="1696.97" y="880.75" font-family="'DejaVu Sans', 'Liberation Sans', sans-serif" font-size="20.83" text-anchor="end" font-weight="normal" fill="#000">Osc Freq</text>
<text x="2442.23" y="880.75" font-family="'DejaVu Sans', 'Liberation Sans', sans-serif" font-size="20.83" text-anchor="start" font-weight="normal" fill="#000">150</text>
<rect x="1711.3" y="937.15" width="716.6" height="17.70" fill="#d3d3d3"/>
<rect x="1711.3" y="937.15" width="71.2" height="17.70" fill="#1f77b4"/>
<line x1="2069.6" y1="937.15" x2="2069.6" y2="954.85" stroke="#ff0000" stroke-width="2"/>
<circle cx="1782.46" cy="946.80" r="10.4" fill="#fff" stroke="#bfbfbf" stroke-width="2.1"/>
<text x="1696.97" y="951.75" font-family="'DejaVu Sans', 'Liberation Sans', sans-serif" font-size="20.83" text-anchor="end" font-weight="normal" fill="#000">Osc Amp</text>
<text x="2442.23" y="951.75" font-family="'DejaVu Sans', 'Liberation Sans', sans-serif" font-size="20.83" text-anchor="start" font-weight="normal" fill="#000">0.24</text>
<text x="1701.00" y="1037.60" font-family="'DejaVu Sans Mono', 'Liberation Mono', monospace" font-size="15.63" text-anchor="start" font-weight="normal" fill="#000" xml:space="preserve">CONTROLS:</text>
<text x="1701.00" y="1055.00" font-family="'DejaVu Sans Mono', 'Liberation Mono', monospace" font-size="15.63" text-anchor="start" font-weight="normal" fill="#000" xml:space="preserve">• SPACEBAR = drawing on/off</text>
<text x="1701.00" y="1072.40" font-family="'DejaVu Sans Mono', 'Liberation Mono', monospace" font-size="15.63" text-anchor="start" font-weight="normal" fill="#000" xml:space="preserve">• E KEY = erase mode</text>
<text x="1701.00" y="1089.80" font-family="'DejaVu Sans Mono', 'Liberation Mono', monospace" font-size="15.63" text-anchor="start" font-weight="normal" fill="#000" xml:space="preserve">• RIGHT-CLICK = erase</text>
<text x="1701.00" y="1107.20" font-family="'DejaVu Sans Mono', 'Liberation Mono', monospace" font-size="15.63" text-anchor="start" font-weight="normal" fill="#000" xml:space="preserve">• CROSSHAIR = alignment</text>
<text x="1701.00" y="1142.00" font-family="'DejaVu Sans Mono', 'Liberation Mono', monospace" font-size="15.63" text-anchor="start" font-weight="normal" fill="#000" xml:space="preserve">DRAWING:</text>
<text x="1701.00" y="1159.40" font-family="'DejaVu Sans Mono', 'Liberation Mono', monospace" font-size="15.63" text-anchor="start" font-weight="normal" fill="#000" xml:space="preserve">• Y=+1 → top of channel</text>
<text x="1701.00" y="1176.80" font-family="'DejaVu Sans Mono', 'Liberation Mono', monospace" font-size="15.63" text-anchor="start" font-weight="normal" fill="#000" xml:space="preserve">• Y=-1 → bottom</text>
<text x="1701.00" y="1211.60" font-family="'DejaVu Sans Mono', 'Liberation Mono', monospace" font-size="15.63" text-anchor="start" font-weight="normal" fill="#000" xml:space="preserve">Speed: Line ~590</text>
<text x="1701.00" y="1229.00" font-family="'DejaVu Sans Mono', 'Liberation Mono', monospace" font-size="15.63" text-anchor="start" font-weight="normal" fill="#000" xml:space="preserve">Change 'frame * 8'</text>
<text transform="translate(2119.95,1062.2) scale(1.3,1.15)" font-family="'DejaVu Sans', 'Liberation Sans', sans-serif" font-size="33.33" text-anchor="middle" fill="#008000">▯</text>
<text x="2141.30" y="1060.90" font-family="'DejaVu Sans', 'Liberation Sans', sans-serif" font-size="33.33" text-anchor="start" font-weight="bold" fill="#008000">DRAWING ON</text>
<text x="2251.50" y="1136.40" font-family="'DejaVu Sans', 'Liberation Sans', sans-serif" font-size="33.33" text-anchor="middle" font-weight="bold" fill="#008000">Press E to erase</text>
<text x="2251.10" y="1174.50" font-family="'DejaVu Sans', 'Liberation Sans', sans-serif" font-size="33.33" text-anchor="middle" font-weight="bold" fill="#008000">Press SPACEBAR</text>
<text x="2252.30" y="1213.40" font-family="'DejaVu Sans', 'Liberation Sans', sans-serif" font-size="33.33" text-anchor="middle" font-weight="bold" fill="#008000">to disable</text>
<rect x="0" y="1439" width="2551" height="47" fill="#f0f0f0"/>
<defs><pattern id="dith" x="0" y="0" width="2" height="2" patternUnits="userSpaceOnUse"><rect x="0" y="0" width="1" height="1" fill="#000"/><rect x="1" y="1" width="1" height="1" fill="#000"/></pattern></defs>
<g>
<path d="M3.9,1471.3 L17.9,1459.65 L31.9,1471.3" fill="none" stroke="#000" stroke-width="2.9" stroke-linejoin="miter" stroke-linecap="butt"/>
<rect x="24.2" y="1457.9" width="4.8" height="9" fill="#000"/>
<path d="M17.9,1463.2 L29.0,1472.3 L29.0,1481.2 Q29.0,1482.4 27.8,1482.4 L20.4,1482.4 L20.4,1474.8 L15.4,1474.8 L15.4,1482.4 L8.3,1482.4 Q7.1,1482.4 7.1,1481.2 L7.1,1472.3 Z" fill="#000"/>
<path d="M44.2,1468.0 L59.0,1453.0 L63.4,1457.4 L56.6,1464.1 L72.2,1464.1 L73.3,1465.2 L73.3,1470.8 L72.2,1471.9 L56.6,1471.9 L63.4,1478.6 L59.0,1483.0 Z" fill="url(#dith)" shape-rendering="crispEdges"/>
<path d="M112.0,1468.0 L97.2,1453.0 L92.8,1457.4 L99.6,1464.1 L84.0,1464.1 L82.9,1465.2 L82.9,1470.8 L84.0,1471.9 L99.6,1471.9 L92.8,1478.6 L97.2,1483.0 Z" fill="url(#dith)" shape-rendering="crispEdges"/>
<rect x="124" y="1449" width="1" height="36" fill="#a0a0a0"/>
<rect x="261" y="1449" width="1" height="36" fill="#a0a0a0"/>
<path d="M139.0,1467.75 H165.0 M152.0,1454.75 V1480.75" stroke="#000" stroke-width="4.6" fill="none"/>
<path transform="rotate(0 152.0 1467.75)" d="M152.0,1450.45 L158.3,1456.75 L158.3,1457.55 L145.7,1457.55 L145.7,1456.75 Z" fill="#000"/>
<path transform="rotate(90 152.0 1467.75)" d="M152.0,1450.45 L158.3,1456.75 L158.3,1457.55 L145.7,1457.55 L145.7,1456.75 Z" fill="#000"/>
<path transform="rotate(180 152.0 1467.75)" d="M152.0,1450.45 L158.3,1456.75 L158.3,1457.55 L145.7,1457.55 L145.7,1456.75 Z" fill="#000"/>
<path transform="rotate(270 152.0 1467.75)" d="M152.0,1450.45 L158.3,1456.75 L158.3,1457.55 L145.7,1457.55 L145.7,1456.75 Z" fill="#000"/>
<circle cx="191.5" cy="1465.1" r="11.1" fill="none" stroke="#000" stroke-width="4.8"/>
<line x1="199.8" y1="1473.4" x2="207.6" y2="1481.2" stroke="#000" stroke-width="5" stroke-linecap="round"/>
<line x1="221.4" y1="1459.3" x2="248.6" y2="1459.3" stroke="#000" stroke-width="2.5" stroke-linecap="round"/>
<rect x="224.2" y="1454.7" width="9.4" height="9.2" fill="#f0f0f0"/>
<rect x="225.2" y="1455.7" width="7.4" height="7.2" rx="1.3" fill="#000"/>
<line x1="221.4" y1="1468.95" x2="248.6" y2="1468.95" stroke="#000" stroke-width="2.5" stroke-linecap="round"/>
<rect x="236.5" y="1464.4" width="9.4" height="9.2" fill="#f0f0f0"/>
<rect x="237.5" y="1465.4" width="7.4" height="7.2" rx="1.3" fill="#000"/>
<line x1="221.4" y1="1478.9" x2="248.6" y2="1478.9" stroke="#000" stroke-width="2.5" stroke-linecap="round"/>
<rect x="226.8" y="1474.3" width="9.4" height="9.2" fill="#f0f0f0"/>
<rect x="227.8" y="1475.3" width="7.4" height="7.2" rx="1.3" fill="#000"/>
<path d="M276.2,1454.3 H293.0 Q293.6,1454.3 294.0,1454.7 L301.0,1461.6 Q301.4,1462.0 301.4,1462.6 V1479.4 Q301.4,1480.8 300.0,1480.8 H276.2 Q274.8,1480.8 274.8,1479.4 V1455.7 Q274.8,1454.3 276.2,1454.3 Z" fill="#fff" stroke="#000" stroke-width="2.8" stroke-linejoin="round"/>
<path d="M278.6,1455.5 H292.5 V1463.8 Q292.5,1465.0 291.3,1465.0 H279.8 Q278.6,1465.0 278.6,1463.8 Z" fill="#000"/>
<rect x="285.7" y="1456.2" width="4.8" height="6.8" fill="#fff"/>
<path d="M279.85,1480.0 V1472.8 Q279.85,1471.55 281.1,1471.55 H295.1 Q296.35,1471.55 296.35,1472.8 V1480.0" fill="none" stroke="#000" stroke-width="2.5"/>
</g>
</svg>
</body></html>
